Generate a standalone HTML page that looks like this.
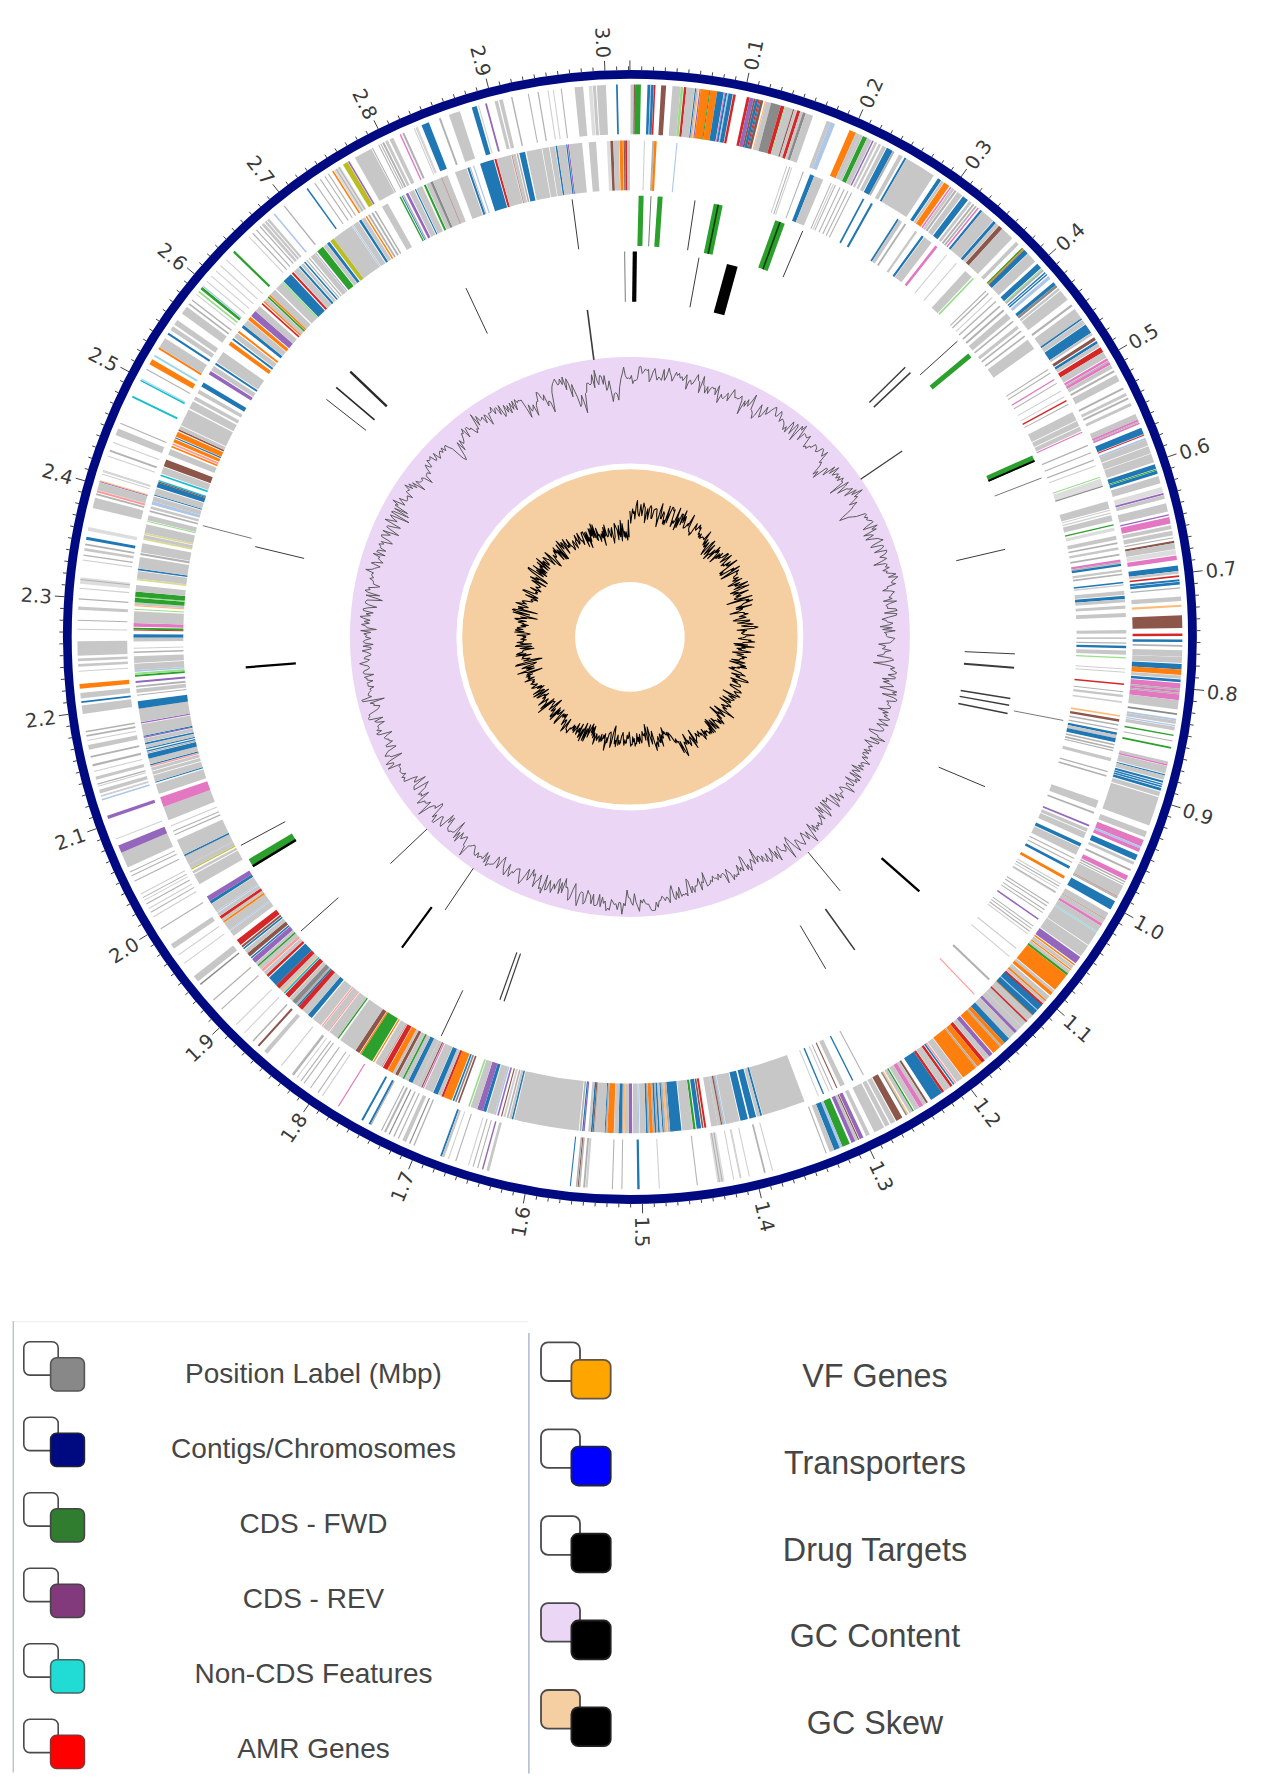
<!DOCTYPE html>
<html><head><meta charset="utf-8"><title>Circular Genome Viewer</title>
<style>
html,body{margin:0;padding:0;background:#fff}
body{width:1272px;height:1790px;position:relative;overflow:hidden;font-family:"Liberation Sans","DejaVu Sans",sans-serif}
svg text{font-family:inherit}
.lg text{font-family:"Liberation Sans",sans-serif;fill:#464646}
</style></head><body>
<svg width="1272" height="1290" viewBox="0 0 1272 1290" style="position:absolute;left:0;top:0">
<circle cx="629.9" cy="636.9" r="280" fill="#ebd6f5"/>
<circle cx="629.9" cy="636.9" r="173.5" fill="#ffffff"/>
<circle cx="629.9" cy="636.9" r="167.7" fill="#f5cfa2"/>
<circle cx="629.9" cy="636.9" r="54.8" fill="#ffffff"/>
<circle cx="629.9" cy="636.9" r="562.6" fill="none" stroke="#000a80" stroke-width="8.8"/>
<path d="M629.90 70.40L629.90 60.40M641.68 70.52L641.77 66.42M653.46 70.89L653.63 66.79M665.22 71.50L665.48 67.41M676.97 72.36L677.31 68.27M688.70 73.46L689.13 69.38M700.41 74.80L700.92 70.74M712.08 76.39L712.67 72.34M723.72 78.22L724.40 74.18M735.32 80.29L736.08 76.27M746.87 82.61L748.93 72.82M758.37 85.16L759.30 81.17M769.81 87.95L770.83 83.98M781.20 90.98L782.30 87.03M792.52 94.24L793.70 90.32M803.77 97.74L805.03 93.84M814.94 101.47L816.28 97.60M826.04 105.44L827.46 101.59M837.05 109.63L838.55 105.82M847.97 114.05L849.55 110.27M858.79 118.70L862.83 109.55M869.52 123.57L871.26 119.86M880.14 128.67L881.96 124.99M890.66 133.98L892.55 130.34M901.06 139.51L903.02 135.91M911.35 145.26L913.38 141.70M921.51 151.22L923.62 147.70M931.55 157.39L933.73 153.92M941.45 163.76L943.71 160.34M951.22 170.35L953.55 166.97M960.86 177.13L966.70 169.01M970.35 184.11L972.81 180.83M979.69 191.29L982.22 188.06M988.88 198.66L991.48 195.49M997.92 206.22L1000.58 203.10M1006.79 213.96L1009.52 210.90M1015.51 221.89L1018.30 218.89M1024.05 230.00L1026.91 227.06M1032.43 238.29L1035.34 235.40M1040.63 246.74L1043.60 243.92M1048.66 255.37L1056.05 248.63M1056.50 264.16L1059.59 261.46M1064.16 273.11L1067.30 270.48M1071.63 282.22L1074.83 279.65M1078.91 291.48L1082.16 288.98M1086.00 300.90L1089.30 298.46M1092.88 310.45L1096.24 308.09M1099.57 320.15L1102.97 317.86M1106.06 329.99L1109.50 327.77M1112.34 339.96L1115.83 337.81M1118.41 350.05L1127.03 344.99M1124.27 360.27L1127.85 358.27M1129.91 370.61L1133.53 368.69M1135.34 381.07L1139.00 379.22M1140.55 391.64L1144.25 389.86M1145.54 402.31L1149.28 400.61M1150.31 413.08L1154.08 411.46M1154.85 423.95L1158.65 422.41M1159.17 434.92L1163.00 433.45M1163.25 445.97L1167.11 444.58M1167.11 457.10L1176.59 453.92M1170.73 468.31L1174.65 467.09M1174.12 479.59L1178.06 478.45M1177.27 490.94L1181.24 489.89M1180.19 502.36L1184.17 501.38M1182.87 513.83L1186.87 512.94M1185.31 525.36L1189.33 524.55M1187.51 536.93L1191.55 536.21M1189.47 548.55L1193.52 547.91M1191.18 560.20L1195.25 559.65M1192.66 571.89L1202.59 570.74M1193.89 583.61L1197.97 583.22M1194.87 595.35L1198.96 595.05M1195.62 607.11L1199.71 606.89M1196.11 618.88L1200.21 618.75M1196.37 630.66L1200.47 630.61M1196.37 642.44L1200.47 642.48M1196.14 654.22L1200.23 654.34M1195.65 665.99L1199.75 666.20M1194.93 677.75L1199.01 678.04M1193.95 689.49L1203.91 690.42M1192.74 701.21L1196.81 701.67M1191.28 712.90L1195.34 713.45M1189.58 724.55L1193.63 725.19M1187.63 736.17L1191.67 736.89M1185.45 747.75L1189.47 748.55M1183.02 759.28L1187.03 760.17M1180.36 770.76L1184.34 771.72M1177.46 782.17L1181.42 783.23M1174.32 793.53L1178.26 794.66M1170.94 804.82L1180.49 807.78M1167.33 816.03L1171.22 817.33M1163.49 827.17L1167.35 828.55M1159.42 838.22L1163.25 839.68M1155.12 849.19L1158.92 850.73M1150.59 860.07L1154.36 861.68M1145.84 870.85L1149.57 872.54M1140.86 881.53L1144.56 883.30M1135.66 892.10L1139.32 893.95M1130.25 902.56L1133.87 904.48M1124.61 912.91L1133.35 917.78M1118.77 923.14L1122.30 925.21M1112.71 933.24L1116.20 935.39M1106.44 943.22L1109.89 945.44M1099.97 953.06L1103.37 955.35M1093.29 962.77L1096.65 965.13M1086.41 972.33L1089.72 974.76M1079.34 981.76L1082.59 984.25M1072.07 991.03L1075.27 993.59M1064.61 1000.15L1067.76 1002.77M1056.96 1009.11L1064.50 1015.68M1049.13 1017.91L1052.17 1020.67M1041.12 1026.54L1044.09 1029.36M1032.93 1035.01L1035.84 1037.89M1024.56 1043.31L1027.42 1046.25M1016.02 1051.43L1018.82 1054.43M1007.32 1059.37L1010.05 1062.42M998.45 1067.12L1001.12 1070.24M989.43 1074.69L992.03 1077.86M980.24 1082.08L982.78 1085.30M970.91 1089.26L976.93 1097.25M961.43 1096.26L963.83 1099.58M951.81 1103.05L954.14 1106.43M942.04 1109.65L944.30 1113.07M932.14 1116.04L934.33 1119.50M922.11 1122.22L924.23 1125.73M911.96 1128.19L914.00 1131.74M901.68 1133.95L903.65 1137.55M891.29 1139.49L893.18 1143.13M880.78 1144.82L882.59 1148.50M870.16 1149.93L874.40 1158.98M859.44 1154.81L861.10 1158.56M848.62 1159.47L850.20 1163.26M837.71 1163.91L839.21 1167.72M826.70 1168.12L828.13 1171.96M815.61 1172.09L816.96 1175.97M804.44 1175.84L805.71 1179.74M793.20 1179.35L794.38 1183.28M781.88 1182.63L782.98 1186.58M770.50 1185.67L771.52 1189.65M759.06 1188.48L761.34 1198.22M747.56 1191.05L748.41 1195.06M736.01 1193.37L736.78 1197.40M724.41 1195.46L725.10 1199.50M712.78 1197.30L713.38 1201.36M701.11 1198.91L701.62 1202.97M689.40 1200.27L689.84 1204.34M677.68 1201.38L678.02 1205.47M665.93 1202.25L666.19 1206.34M654.16 1202.88L654.34 1206.98M642.39 1203.26L642.61 1213.26M630.61 1203.40L630.61 1207.50M618.83 1203.29L618.75 1207.39M607.05 1202.94L606.88 1207.04M595.28 1202.34L595.03 1206.43M583.53 1201.50L583.20 1205.59M571.80 1200.41L571.38 1204.49M560.10 1199.08L559.59 1203.15M548.42 1197.51L547.83 1201.57M536.78 1195.69L536.11 1199.74M525.18 1193.64L523.33 1203.46M513.62 1191.34L512.78 1195.35M502.12 1188.80L501.19 1192.80M490.67 1186.02L489.66 1190.00M479.28 1183.01L478.19 1186.96M467.96 1179.76L466.78 1183.69M456.70 1176.27L455.45 1180.18M445.52 1172.56L444.19 1176.43M434.42 1168.61L433.01 1172.45M423.41 1164.43L421.92 1168.24M412.48 1160.02L408.65 1169.25M401.65 1155.38L400.00 1159.14M390.92 1150.53L389.19 1154.24M380.29 1145.44L378.48 1149.12M369.77 1140.14L367.89 1143.79M359.36 1134.63L357.40 1138.23M349.07 1128.89L347.04 1132.45M338.90 1122.95L336.79 1126.46M328.85 1116.79L326.67 1120.26M318.94 1110.42L316.69 1113.85M309.16 1103.86L303.50 1112.10M299.52 1097.08L297.13 1100.41M290.02 1090.11L287.56 1093.39M280.67 1082.95L278.14 1086.18M271.47 1075.59L268.87 1078.76M262.42 1068.04L259.76 1071.16M253.54 1060.31L250.81 1063.37M244.81 1052.39L242.03 1055.39M236.26 1044.29L233.41 1047.24M227.87 1036.02L224.96 1038.90M219.66 1027.57L212.41 1034.46M211.62 1018.95L208.59 1021.72M203.77 1010.17L200.68 1012.87M196.10 1001.23L192.96 1003.87M188.61 992.13L185.42 994.70M181.32 982.88L178.07 985.38M174.22 973.47L170.93 975.91M167.32 963.92L163.98 966.29M160.62 954.23L157.23 956.53M154.12 944.41L150.68 946.63M147.83 934.45L139.32 939.70M141.75 924.36L138.22 926.44M135.88 914.14L132.30 916.15M130.22 903.81L126.60 905.74M124.78 893.36L121.12 895.22M119.55 882.80L115.86 884.58M114.55 872.14L110.82 873.84M109.77 861.37L106.00 862.99M105.21 850.50L101.42 852.05M100.88 839.55L97.06 841.01M96.78 828.50L87.37 831.88M92.92 817.37L89.03 818.68M89.28 806.17L85.37 807.39M85.88 794.89L81.94 796.03M82.71 783.54L78.75 784.60M79.78 772.13L75.80 773.11M77.08 760.66L73.08 761.56M74.63 749.14L70.61 749.95M72.42 737.57L68.38 738.29M70.44 725.95L66.39 726.60M68.71 714.30L58.81 715.66M67.22 702.61L63.15 703.09M65.98 690.89L61.90 691.29M64.98 679.16L60.89 679.46M64.22 667.40L60.13 667.62M63.71 655.63L59.61 655.76M63.44 643.85L59.34 643.90M63.42 632.07L59.32 632.03M63.64 620.29L59.55 620.17M64.11 608.52L60.02 608.31M64.82 596.76L54.85 596.05M65.78 585.02L61.70 584.64M66.98 573.30L62.91 572.84M68.43 561.60L64.36 561.06M70.11 549.94L66.06 549.31M72.04 538.32L68.01 537.61M74.21 526.74L70.19 525.95M76.62 515.21L72.62 514.33M79.27 503.73L75.29 502.77M82.16 492.31L78.20 491.26M85.29 480.95L75.67 478.20M88.65 469.66L84.73 468.45M92.24 458.44L88.35 457.15M96.07 447.30L92.21 445.92M100.13 436.24L96.30 434.78M104.42 425.26L100.61 423.73M108.93 414.38L105.16 412.77M113.67 403.60L109.94 401.91M118.64 392.91L114.94 391.15M123.82 382.33L120.16 380.49M129.22 371.86L120.38 367.18M134.84 361.51L131.26 359.51M140.68 351.27L137.14 349.21M146.72 341.16L143.23 339.02M152.98 331.18L149.53 328.96M159.44 321.33L156.03 319.04M166.10 311.61L162.75 309.26M172.97 302.04L169.66 299.61M180.03 292.61L176.77 290.11M187.29 283.32L184.08 280.77M194.73 274.20L187.05 267.79M202.37 265.23L199.28 262.54M210.19 256.42L207.16 253.66M218.20 247.77L215.22 244.95M226.38 239.29L223.46 236.41M234.73 230.99L231.87 228.05M243.26 222.86L240.46 219.86M251.95 214.91L249.22 211.85M260.81 207.14L258.14 204.03M269.83 199.56L267.22 196.39M279.00 192.16L272.81 184.31M288.33 184.96L285.85 181.69M297.80 177.96L295.39 174.63M307.41 171.15L305.08 167.78M317.17 164.54L314.90 161.12M327.06 158.14L324.87 154.68M337.08 151.95L334.96 148.44M347.23 145.96L345.18 142.41M357.50 140.19L355.53 136.60M367.89 134.63L365.99 131.00M378.39 129.29L373.95 120.33M389.00 124.17L387.26 120.46M399.71 119.27L398.05 115.53M410.53 114.60L408.94 110.82M421.44 110.15L419.93 106.34M432.44 105.93L431.01 102.09M443.52 101.94L442.17 98.07M454.69 98.18L453.42 94.28M465.93 94.65L464.74 90.73M477.24 91.36L476.13 87.41M488.62 88.30L486.12 78.62M500.05 85.48L499.11 81.49M511.55 82.90L510.69 78.89M523.10 80.56L522.32 76.53M534.69 78.46L534.00 74.42M546.32 76.60L545.72 72.54M557.99 74.98L557.47 70.92M569.69 73.61L569.26 69.53M581.42 72.48L581.07 68.39M593.17 71.59L592.90 67.50M604.93 70.95L604.49 60.96M616.71 70.55L616.61 66.45M628.49 70.40L628.48 66.30" stroke="#444" stroke-width="1" fill="none"/>
<g font-family="'DejaVu Sans', 'Liberation Sans', sans-serif" font-size="19.5" fill="#3a3a3a">
<text x="749.55" y="69.89" transform="rotate(-78.08 749.55 69.89)" text-anchor="start" dy="0.40em">0.1</text>
<text x="864.05" y="106.81" transform="rotate(-66.17 864.05 106.81)" text-anchor="start" dy="0.40em">0.2</text>
<text x="968.45" y="166.58" transform="rotate(-54.25 968.45 166.58)" text-anchor="start" dy="0.40em">0.3</text>
<text x="1058.27" y="246.61" transform="rotate(-42.34 1058.27 246.61)" text-anchor="start" dy="0.40em">0.4</text>
<text x="1129.62" y="343.47" transform="rotate(-30.42 1129.62 343.47)" text-anchor="start" dy="0.40em">0.5</text>
<text x="1179.44" y="452.97" transform="rotate(-18.51 1179.44 452.97)" text-anchor="start" dy="0.40em">0.6</text>
<text x="1205.57" y="570.40" transform="rotate(-6.59 1205.57 570.40)" text-anchor="start" dy="0.40em">0.7</text>
<text x="1206.90" y="690.69" transform="rotate(5.33 1206.90 690.69)" text-anchor="start" dy="0.40em">0.8</text>
<text x="1183.36" y="808.67" transform="rotate(17.24 1183.36 808.67)" text-anchor="start" dy="0.40em">0.9</text>
<text x="1135.97" y="919.24" transform="rotate(29.16 1135.97 919.24)" text-anchor="start" dy="0.40em">1.0</text>
<text x="1066.76" y="1017.65" transform="rotate(41.07 1066.76 1017.65)" text-anchor="start" dy="0.40em">1.1</text>
<text x="978.74" y="1099.65" transform="rotate(52.99 978.74 1099.65)" text-anchor="start" dy="0.40em">1.2</text>
<text x="875.67" y="1161.70" transform="rotate(64.91 875.67 1161.70)" text-anchor="start" dy="0.40em">1.3</text>
<text x="762.02" y="1201.14" transform="rotate(76.82 762.02 1201.14)" text-anchor="start" dy="0.40em">1.4</text>
<text x="642.67" y="1216.26" transform="rotate(88.74 642.67 1216.26)" text-anchor="start" dy="0.40em">1.5</text>
<text x="522.78" y="1206.41" transform="rotate(280.65 522.78 1206.41)" text-anchor="end" dy="0.40em">1.6</text>
<text x="407.49" y="1172.02" transform="rotate(292.57 407.49 1172.02)" text-anchor="end" dy="0.40em">1.7</text>
<text x="301.80" y="1114.57" transform="rotate(304.48 301.80 1114.57)" text-anchor="end" dy="0.40em">1.8</text>
<text x="210.24" y="1036.53" transform="rotate(316.40 210.24 1036.53)" text-anchor="end" dy="0.40em">1.9</text>
<text x="136.77" y="941.27" transform="rotate(328.32 136.77 941.27)" text-anchor="end" dy="0.40em">2.0</text>
<text x="84.55" y="832.90" transform="rotate(340.23 84.55 832.90)" text-anchor="end" dy="0.40em">2.1</text>
<text x="55.83" y="716.07" transform="rotate(352.15 55.83 716.07)" text-anchor="end" dy="0.40em">2.2</text>
<text x="51.86" y="595.84" transform="rotate(364.06 51.86 595.84)" text-anchor="end" dy="0.40em">2.3</text>
<text x="72.79" y="477.37" transform="rotate(375.98 72.79 477.37)" text-anchor="end" dy="0.40em">2.4</text>
<text x="117.73" y="365.78" transform="rotate(387.89 117.73 365.78)" text-anchor="end" dy="0.40em">2.5</text>
<text x="184.75" y="265.87" transform="rotate(399.81 184.75 265.87)" text-anchor="end" dy="0.40em">2.6</text>
<text x="270.95" y="181.96" transform="rotate(411.73 270.95 181.96)" text-anchor="end" dy="0.40em">2.7</text>
<text x="372.62" y="117.65" transform="rotate(423.64 372.62 117.65)" text-anchor="end" dy="0.40em">2.8</text>
<text x="485.37" y="75.71" transform="rotate(435.56 485.37 75.71)" text-anchor="end" dy="0.40em">2.9</text>
<text x="604.36" y="57.96" transform="rotate(447.47 604.36 57.96)" text-anchor="end" dy="0.40em">3.0</text>
</g>
<g shape-rendering="auto">
<path d="M630.53 84.40A552.5 552.5 0 0 1 633.28 84.41L632.97 134.21A502.7 502.7 0 0 0 630.48 134.20Z" fill="#c7c7c7"/>
<line x1="633.97" y1="134.22" x2="634.38" y2="84.42" stroke="#8c564b" stroke-width="1.39"/>
<path d="M635.11 84.42A552.5 552.5 0 0 1 640.94 84.51L639.95 134.30A502.7 502.7 0 0 0 634.64 134.22Z" fill="#2ca02c"/>
<path d="M647.52 84.68A552.5 552.5 0 0 1 650.44 84.78L648.59 134.55A502.7 502.7 0 0 0 645.93 134.46Z" fill="#1f77b4"/>
<line x1="648.92" y1="134.56" x2="650.81" y2="84.80" stroke="#aec7e8" stroke-width="1.05"/>
<path d="M651.17 84.81A552.5 552.5 0 0 1 653.72 84.91L651.58 134.67A502.7 502.7 0 0 0 649.26 134.57Z" fill="#1f77b4"/>
<line x1="652.50" y1="134.71" x2="654.73" y2="84.96" stroke="#d62728" stroke-width="1.58"/>
<path d="M661.22 85.29A552.5 552.5 0 0 1 666.15 85.59L662.88 135.28A502.7 502.7 0 0 0 658.39 135.01Z" fill="#8c564b"/>
<path d="M672.53 86.05A552.5 552.5 0 0 1 680.75 86.75L676.17 136.33A502.7 502.7 0 0 0 668.69 135.70Z" fill="#c7c7c7"/>
<path d="M680.75 86.75A552.5 552.5 0 0 1 683.50 87.01L678.67 136.57A502.7 502.7 0 0 0 676.17 136.33Z" fill="#98df8a"/>
<path d="M684.05 87.06A552.5 552.5 0 0 1 686.60 87.32L681.49 136.85A502.7 502.7 0 0 0 679.17 136.62Z" fill="#d62728"/>
<path d="M686.60 87.32A552.5 552.5 0 0 1 694.64 88.21L688.80 137.66A502.7 502.7 0 0 0 681.49 136.85Z" fill="#c7c7c7"/>
<line x1="689.72" y1="137.77" x2="695.64" y2="88.33" stroke="#1f77b4" stroke-width="1.23"/>
<line x1="690.96" y1="137.92" x2="697.01" y2="88.49" stroke="#b2b2b2" stroke-width="1.40"/>
<line x1="692.21" y1="138.08" x2="698.38" y2="88.66" stroke="#ffbb78" stroke-width="1.23"/>
<line x1="693.87" y1="138.29" x2="700.20" y2="88.89" stroke="#9467bd" stroke-width="1.23"/>
<path d="M700.84 88.97A552.5 552.5 0 0 1 709.61 90.18L702.42 139.46A502.7 502.7 0 0 0 694.45 138.36Z" fill="#ff7f0e"/>
<line x1="702.76" y1="139.51" x2="709.97" y2="90.23" stroke="#2ca02c" stroke-width="1.05"/>
<path d="M710.34 90.29A552.5 552.5 0 0 1 717.28 91.35L709.41 140.53A502.7 502.7 0 0 0 703.09 139.56Z" fill="#ff7f0e"/>
<path d="M717.28 91.35A552.5 552.5 0 0 1 723.86 92.45L715.39 141.52A502.7 502.7 0 0 0 709.41 140.53Z" fill="#1f77b4"/>
<line x1="716.22" y1="141.67" x2="724.77" y2="92.61" stroke="#e377c2" stroke-width="1.06"/>
<line x1="717.63" y1="141.91" x2="726.32" y2="92.88" stroke="#1f77b4" stroke-width="1.94"/>
<line x1="719.12" y1="142.18" x2="727.96" y2="93.17" stroke="#aec7e8" stroke-width="1.24"/>
<path d="M728.60 93.29A552.5 552.5 0 0 1 732.80 94.07L723.53 143.00A502.7 502.7 0 0 0 719.70 142.29Z" fill="#1f77b4"/>
<path d="M733.35 94.17A552.5 552.5 0 0 1 735.90 94.66L726.35 143.54A502.7 502.7 0 0 0 724.03 143.09Z" fill="#d62728"/>
<path d="M746.86 96.92A552.5 552.5 0 0 1 749.78 97.56L738.98 146.18A502.7 502.7 0 0 0 736.32 145.59Z" fill="#d62728"/>
<path d="M749.78 97.56A552.5 552.5 0 0 1 753.81 98.47L742.64 147.00A502.7 502.7 0 0 0 738.98 146.18Z" fill="#9467bd"/>
<line x1="743.47" y1="147.20" x2="754.72" y2="98.68" stroke="#8c564b" stroke-width="1.79"/>
<path d="M755.63 98.90A552.5 552.5 0 0 1 758.37 99.54L746.79 147.98A502.7 502.7 0 0 0 744.30 147.39Z" fill="#1f77b4"/>
<line x1="747.37" y1="148.12" x2="759.01" y2="99.70" stroke="#d62728" stroke-width="1.25"/>
<line x1="748.37" y1="148.36" x2="760.10" y2="99.96" stroke="#1f77b4" stroke-width="1.05"/>
<path d="M760.56 100.07A552.5 552.5 0 0 1 763.29 100.74L751.27 149.07A502.7 502.7 0 0 0 748.78 148.46Z" fill="#8c564b"/>
<line x1="753.18" y1="149.55" x2="765.39" y2="101.27" stroke="#ffbb78" stroke-width="1.26"/>
<path d="M766.03 101.43A552.5 552.5 0 0 1 771.15 102.76L758.42 150.91A502.7 502.7 0 0 0 753.76 149.70Z" fill="#c7c7c7"/>
<path d="M771.15 102.76A552.5 552.5 0 0 1 780.82 105.41L767.22 153.32A502.7 502.7 0 0 0 758.42 150.91Z" fill="#8a8a8a"/>
<path d="M780.82 105.41A552.5 552.5 0 0 1 784.48 106.46L770.55 154.28A502.7 502.7 0 0 0 767.22 153.32Z" fill="#d62728"/>
<line x1="771.21" y1="154.47" x2="785.21" y2="106.68" stroke="#98df8a" stroke-width="1.05"/>
<path d="M785.57 106.78A552.5 552.5 0 0 1 793.06 109.04L778.36 156.62A502.7 502.7 0 0 0 771.54 154.57Z" fill="#c7c7c7"/>
<line x1="778.94" y1="156.80" x2="793.70" y2="109.24" stroke="#8c564b" stroke-width="1.27"/>
<path d="M794.34 109.44A552.5 552.5 0 0 1 796.90 110.24L781.85 157.71A502.7 502.7 0 0 0 779.51 156.98Z" fill="#c7c7c7"/>
<path d="M797.26 110.36A552.5 552.5 0 0 1 800.37 111.36L785.00 158.73A502.7 502.7 0 0 0 782.18 157.82Z" fill="#d62728"/>
<path d="M800.37 111.36A552.5 552.5 0 0 1 803.11 112.25L787.50 159.54A502.7 502.7 0 0 0 785.00 158.73Z" fill="#c7c7c7"/>
<path d="M803.11 112.25A552.5 552.5 0 0 1 805.85 113.16L789.99 160.37A502.7 502.7 0 0 0 787.50 159.54Z" fill="#8a8a8a"/>
<path d="M805.85 113.16A552.5 552.5 0 0 1 813.15 115.67L796.63 162.66A502.7 502.7 0 0 0 789.99 160.37Z" fill="#c7c7c7"/>
<path d="M826.85 120.70A552.5 552.5 0 0 1 830.50 122.10L812.41 168.50A502.7 502.7 0 0 0 809.10 167.22Z" fill="#c7c7c7"/>
<path d="M830.50 122.10A552.5 552.5 0 0 1 835.06 123.90L816.57 170.14A502.7 502.7 0 0 0 812.41 168.50Z" fill="#aec7e8"/>
<path d="M849.67 129.99A552.5 552.5 0 0 1 856.07 132.81L835.68 178.25A502.7 502.7 0 0 0 829.86 175.68Z" fill="#ff7f0e"/>
<path d="M856.07 132.81A552.5 552.5 0 0 1 860.08 134.63L839.34 179.91A502.7 502.7 0 0 0 835.68 178.25Z" fill="#c7c7c7"/>
<path d="M860.05 134.62A552.5 552.5 0 0 1 862.61 135.80L841.63 180.97A502.7 502.7 0 0 0 839.31 179.89Z" fill="#c7c7c7"/>
<path d="M862.97 135.97A552.5 552.5 0 0 1 867.17 137.94L845.79 182.92A502.7 502.7 0 0 0 841.97 181.12Z" fill="#2ca02c"/>
<path d="M867.17 137.94A552.5 552.5 0 0 1 871.74 140.14L849.94 184.92A502.7 502.7 0 0 0 845.79 182.92Z" fill="#c7c7c7"/>
<line x1="851.11" y1="185.49" x2="873.02" y2="140.77" stroke="#9467bd" stroke-width="1.56"/>
<path d="M875.03 141.76A552.5 552.5 0 0 1 877.22 142.85L854.93 187.38A502.7 502.7 0 0 0 852.94 186.39Z" fill="#c7c7c7"/>
<path d="M878.86 143.67A552.5 552.5 0 0 1 881.06 144.79L858.42 189.14A502.7 502.7 0 0 0 856.42 188.13Z" fill="#c7c7c7"/>
<path d="M882.69 145.62A552.5 552.5 0 0 1 886.17 147.43L863.07 191.55A502.7 502.7 0 0 0 859.91 189.91Z" fill="#c7c7c7"/>
<path d="M886.89 147.81A552.5 552.5 0 0 1 892.74 150.93L869.05 194.73A502.7 502.7 0 0 0 863.73 191.89Z" fill="#1f77b4"/>
<line x1="869.88" y1="195.18" x2="893.66" y2="151.42" stroke="#b2b2b2" stroke-width="1.99"/>
<path d="M899.13 154.44A552.5 552.5 0 0 1 902.78 156.49L878.19 199.79A502.7 502.7 0 0 0 874.86 197.92Z" fill="#c7c7c7"/>
<line x1="880.68" y1="201.22" x2="905.53" y2="158.06" stroke="#1f77b4" stroke-width="2.02"/>
<path d="M906.44 158.59A552.5 552.5 0 0 1 933.83 175.51L906.43 217.10A502.7 502.7 0 0 0 881.52 201.70Z" fill="#c7c7c7"/>
<path d="M938.03 178.30A552.5 552.5 0 0 1 941.13 180.40L913.08 221.55A502.7 502.7 0 0 0 910.26 219.64Z" fill="#1f77b4"/>
<path d="M941.68 180.78A552.5 552.5 0 0 1 943.87 182.28L915.57 223.26A502.7 502.7 0 0 0 913.58 221.89Z" fill="#c7c7c7"/>
<path d="M944.24 182.53A552.5 552.5 0 0 1 949.35 186.11L920.56 226.75A502.7 502.7 0 0 0 915.90 223.49Z" fill="#ff7f0e"/>
<line x1="921.97" y1="227.75" x2="950.90" y2="187.22" stroke="#e377c2" stroke-width="1.49"/>
<path d="M952.09 188.07A552.5 552.5 0 0 1 954.28 189.65L925.04 229.96A502.7 502.7 0 0 0 923.05 228.52Z" fill="#c7c7c7"/>
<line x1="926.37" y1="230.93" x2="955.74" y2="190.71" stroke="#b2b2b2" stroke-width="2.16"/>
<path d="M957.57 192.06A552.5 552.5 0 0 1 962.13 195.45L932.19 235.24A502.7 502.7 0 0 0 928.04 232.15Z" fill="#c7c7c7"/>
<path d="M963.05 196.14A552.5 552.5 0 0 1 967.98 199.91L937.51 239.30A502.7 502.7 0 0 0 933.02 235.87Z" fill="#1f77b4"/>
<path d="M969.44 201.05A552.5 552.5 0 0 1 971.63 202.76L940.83 241.89A502.7 502.7 0 0 0 938.84 240.33Z" fill="#c7c7c7"/>
<line x1="942.57" y1="243.27" x2="973.55" y2="204.28" stroke="#b2b2b2" stroke-width="2.01"/>
<line x1="944.82" y1="245.07" x2="976.02" y2="206.25" stroke="#b2b2b2" stroke-width="1.79"/>
<line x1="946.89" y1="246.74" x2="978.29" y2="208.09" stroke="#e377c2" stroke-width="1.57"/>
<path d="M980.40 209.81A552.5 552.5 0 0 1 982.23 211.31L950.47 249.67A502.7 502.7 0 0 0 948.81 248.31Z" fill="#1f77b4"/>
<path d="M982.23 211.31A552.5 552.5 0 0 1 993.18 220.62L960.43 258.15A502.7 502.7 0 0 0 950.47 249.67Z" fill="#c7c7c7"/>
<path d="M993.54 220.94A552.5 552.5 0 0 1 995.91 223.03L962.92 260.33A502.7 502.7 0 0 0 960.76 258.43Z" fill="#1f77b4"/>
<path d="M995.91 223.03A552.5 552.5 0 0 1 998.66 225.47L965.42 262.56A502.7 502.7 0 0 0 962.92 260.33Z" fill="#c7c7c7"/>
<path d="M999.02 225.80A552.5 552.5 0 0 1 1002.31 228.77L968.74 265.56A502.7 502.7 0 0 0 965.75 262.85Z" fill="#8c564b"/>
<path d="M1002.31 228.77A552.5 552.5 0 0 1 1012.35 238.17L977.88 274.11A502.7 502.7 0 0 0 968.74 265.56Z" fill="#c7c7c7"/>
<path d="M1016.01 241.71A552.5 552.5 0 0 1 1018.74 244.40L983.70 279.78A502.7 502.7 0 0 0 981.21 277.33Z" fill="#c7c7c7"/>
<line x1="987.13" y1="283.21" x2="1022.51" y2="248.17" stroke="#2ca02c" stroke-width="1.47"/>
<line x1="988.11" y1="284.21" x2="1023.60" y2="249.27" stroke="#ff7f0e" stroke-width="1.47"/>
<path d="M1024.14 249.81A552.5 552.5 0 0 1 1027.68 253.46L991.83 288.02A502.7 502.7 0 0 0 988.60 284.70Z" fill="#1f77b4"/>
<path d="M1028.04 253.83A552.5 552.5 0 0 1 1035.28 261.50L998.74 295.33A502.7 502.7 0 0 0 992.15 288.36Z" fill="#c7c7c7"/>
<path d="M1037.29 263.69A552.5 552.5 0 0 1 1041.10 267.89L1004.04 301.15A502.7 502.7 0 0 0 1000.57 297.33Z" fill="#1f77b4"/>
<line x1="1004.86" y1="302.06" x2="1042.00" y2="268.89" stroke="#98df8a" stroke-width="1.16"/>
<line x1="1005.89" y1="303.23" x2="1043.14" y2="270.17" stroke="#b2b2b2" stroke-width="2.11"/>
<line x1="1007.87" y1="305.47" x2="1045.31" y2="272.64" stroke="#1f77b4" stroke-width="1.38"/>
<line x1="1009.32" y1="307.13" x2="1046.91" y2="274.46" stroke="#1f77b4" stroke-width="1.38"/>
<path d="M1048.33 276.10A552.5 552.5 0 0 1 1050.52 278.66L1012.61 310.95A502.7 502.7 0 0 0 1010.61 308.63Z" fill="#aec7e8"/>
<path d="M1053.46 282.14A552.5 552.5 0 0 1 1055.73 284.88L1017.35 316.61A502.7 502.7 0 0 0 1015.28 314.11Z" fill="#1f77b4"/>
<path d="M1055.73 284.88A552.5 552.5 0 0 1 1057.54 287.07L1018.99 318.60A502.7 502.7 0 0 0 1017.35 316.61Z" fill="#8a8a8a"/>
<path d="M1058.28 287.98A552.5 552.5 0 0 1 1059.91 289.98L1021.15 321.25A502.7 502.7 0 0 0 1019.67 319.43Z" fill="#c7c7c7"/>
<path d="M1060.50 290.72A552.5 552.5 0 0 1 1067.68 299.85L1028.22 330.23A502.7 502.7 0 0 0 1021.69 321.92Z" fill="#c7c7c7"/>
<line x1="1032.01" y1="335.21" x2="1071.84" y2="305.32" stroke="#b2b2b2" stroke-width="2.18"/>
<path d="M1074.56 308.98A552.5 552.5 0 0 1 1081.15 318.11L1040.48 346.84A502.7 502.7 0 0 0 1034.48 338.54Z" fill="#c7c7c7"/>
<line x1="1040.94" y1="347.50" x2="1081.66" y2="318.84" stroke="#1f77b4" stroke-width="1.70"/>
<path d="M1082.43 319.93A552.5 552.5 0 0 1 1085.22 323.95L1044.18 352.16A502.7 502.7 0 0 0 1041.64 348.50Z" fill="#c7c7c7"/>
<path d="M1085.60 324.50A552.5 552.5 0 0 1 1091.13 332.72L1049.56 360.14A502.7 502.7 0 0 0 1044.53 352.66Z" fill="#1f77b4"/>
<path d="M1091.13 332.72A552.5 552.5 0 0 1 1092.57 334.91L1050.86 362.13A502.7 502.7 0 0 0 1049.56 360.14Z" fill="#c7c7c7"/>
<path d="M1094.10 337.28A552.5 552.5 0 0 1 1095.86 340.02L1053.86 366.78A502.7 502.7 0 0 0 1052.26 364.29Z" fill="#8c564b"/>
<path d="M1096.44 340.93A552.5 552.5 0 0 1 1097.94 343.31L1055.75 369.78A502.7 502.7 0 0 0 1054.39 367.61Z" fill="#1f77b4"/>
<path d="M1097.94 343.31A552.5 552.5 0 0 1 1099.99 346.60L1057.62 372.77A502.7 502.7 0 0 0 1055.75 369.78Z" fill="#c7c7c7"/>
<path d="M1100.43 347.32A552.5 552.5 0 0 1 1103.21 351.89L1060.55 377.58A502.7 502.7 0 0 0 1058.02 373.42Z" fill="#d62728"/>
<path d="M1103.21 351.89A552.5 552.5 0 0 1 1106.57 357.55L1063.61 382.73A502.7 502.7 0 0 0 1060.55 377.58Z" fill="#c7c7c7"/>
<path d="M1107.00 358.28A552.5 552.5 0 0 1 1108.28 360.48L1065.16 385.39A502.7 502.7 0 0 0 1064.00 383.40Z" fill="#e377c2"/>
<line x1="1065.64" y1="386.22" x2="1108.80" y2="361.38" stroke="#b2b2b2" stroke-width="1.21"/>
<path d="M1109.12 361.93A552.5 552.5 0 0 1 1110.57 364.49L1067.25 389.04A502.7 502.7 0 0 0 1065.92 386.72Z" fill="#e377c2"/>
<path d="M1110.68 364.68A552.5 552.5 0 0 1 1112.73 368.32L1069.21 392.53A502.7 502.7 0 0 0 1067.35 389.21Z" fill="#c7c7c7"/>
<line x1="1070.63" y1="395.11" x2="1114.29" y2="371.16" stroke="#b2b2b2" stroke-width="2.18"/>
<path d="M1116.23 374.71A552.5 552.5 0 0 1 1119.62 381.11L1075.48 404.16A502.7 502.7 0 0 0 1072.39 398.35Z" fill="#c7c7c7"/>
<line x1="1078.89" y1="410.81" x2="1123.37" y2="388.42" stroke="#b2b2b2" stroke-width="1.95"/>
<path d="M1125.64 392.97A552.5 552.5 0 0 1 1126.98 395.72L1082.18 417.46A502.7 502.7 0 0 0 1080.95 414.96Z" fill="#c7c7c7"/>
<line x1="1083.37" y1="419.95" x2="1128.30" y2="398.45" stroke="#b2b2b2" stroke-width="1.93"/>
<path d="M1130.46 403.02A552.5 552.5 0 0 1 1131.73 405.77L1086.50 426.60A502.7 502.7 0 0 0 1085.34 424.10Z" fill="#c7c7c7"/>
<path d="M1135.43 413.98A552.5 552.5 0 0 1 1137.81 419.46L1092.03 439.06A502.7 502.7 0 0 0 1089.86 434.07Z" fill="#c7c7c7"/>
<line x1="1092.39" y1="439.89" x2="1138.20" y2="420.37" stroke="#e377c2" stroke-width="1.90"/>
<line x1="1092.95" y1="441.22" x2="1138.82" y2="421.83" stroke="#b2b2b2" stroke-width="1.13"/>
<line x1="1093.47" y1="442.46" x2="1139.40" y2="423.20" stroke="#e377c2" stroke-width="1.70"/>
<path d="M1141.25 427.67A552.5 552.5 0 0 1 1143.82 434.07L1097.50 452.35A502.7 502.7 0 0 0 1095.16 446.53Z" fill="#1f77b4"/>
<line x1="1097.86" y1="453.26" x2="1144.22" y2="435.07" stroke="#d62728" stroke-width="1.05"/>
<line x1="1099.12" y1="456.50" x2="1145.60" y2="438.63" stroke="#aec7e8" stroke-width="1.87"/>
<path d="M1145.95 439.54A552.5 552.5 0 0 1 1148.22 445.58L1101.50 462.82A502.7 502.7 0 0 0 1099.43 457.33Z" fill="#c7c7c7"/>
<path d="M1148.48 446.30A552.5 552.5 0 0 1 1150.98 453.24L1104.01 469.79A502.7 502.7 0 0 0 1101.74 463.48Z" fill="#c7c7c7"/>
<path d="M1151.18 453.79A552.5 552.5 0 0 1 1154.11 462.37L1106.86 478.10A502.7 502.7 0 0 0 1104.19 470.30Z" fill="#c7c7c7"/>
<path d="M1154.72 464.20A552.5 552.5 0 0 1 1156.19 468.76L1108.76 483.92A502.7 502.7 0 0 0 1107.41 479.77Z" fill="#1f77b4"/>
<line x1="1109.05" y1="484.83" x2="1156.51" y2="469.77" stroke="#2ca02c" stroke-width="1.05"/>
<path d="M1156.77 470.59A552.5 552.5 0 0 1 1157.74 473.69L1110.17 488.40A502.7 502.7 0 0 0 1109.28 485.58Z" fill="#1f77b4"/>
<path d="M1158.44 475.94A552.5 552.5 0 0 1 1160.60 483.25L1112.77 497.10A502.7 502.7 0 0 0 1110.80 490.45Z" fill="#c7c7c7"/>
<path d="M1161.65 486.89A552.5 552.5 0 0 1 1163.16 492.38L1115.10 505.40A502.7 502.7 0 0 0 1113.72 500.41Z" fill="#dddddd"/>
<line x1="1115.46" y1="506.73" x2="1163.56" y2="493.84" stroke="#9467bd" stroke-width="1.80"/>
<path d="M1163.90 495.12A552.5 552.5 0 0 1 1164.86 498.77L1116.64 511.22A502.7 502.7 0 0 0 1115.77 507.90Z" fill="#c7c7c7"/>
<path d="M1166.01 503.33A552.5 552.5 0 0 1 1167.99 511.55L1119.49 522.85A502.7 502.7 0 0 0 1117.69 515.37Z" fill="#c7c7c7"/>
<line x1="1120.20" y1="525.93" x2="1168.77" y2="514.93" stroke="#9467bd" stroke-width="1.25"/>
<path d="M1169.24 517.03A552.5 552.5 0 0 1 1170.62 523.42L1121.88 533.65A502.7 502.7 0 0 0 1120.63 527.83Z" fill="#e377c2"/>
<path d="M1171.00 525.24A552.5 552.5 0 0 1 1171.74 528.90L1122.90 538.64A502.7 502.7 0 0 0 1122.23 535.31Z" fill="#c7c7c7"/>
<path d="M1172.10 530.73A552.5 552.5 0 0 1 1172.98 535.29L1124.02 544.45A502.7 502.7 0 0 0 1123.23 540.30Z" fill="#c7c7c7"/>
<line x1="1124.42" y1="546.61" x2="1173.42" y2="537.67" stroke="#b2b2b2" stroke-width="1.06"/>
<line x1="1125.11" y1="550.43" x2="1174.17" y2="541.87" stroke="#8c564b" stroke-width="2.13"/>
<path d="M1174.36 542.97A552.5 552.5 0 0 1 1175.36 548.98L1126.19 556.91A502.7 502.7 0 0 0 1125.28 551.43Z" fill="#c7c7c7"/>
<path d="M1175.45 549.54A552.5 552.5 0 0 1 1176.22 554.47L1126.97 561.90A502.7 502.7 0 0 0 1126.28 557.41Z" fill="#dddddd"/>
<path d="M1176.35 555.38A552.5 552.5 0 0 1 1177.01 559.95L1127.70 566.88A502.7 502.7 0 0 0 1127.10 562.72Z" fill="#e377c2"/>
<path d="M1177.76 565.42A552.5 552.5 0 0 1 1178.44 570.90L1129.00 576.85A502.7 502.7 0 0 0 1128.38 571.87Z" fill="#1f77b4"/>
<path d="M1178.44 570.90A552.5 552.5 0 0 1 1178.77 573.64L1129.29 579.34A502.7 502.7 0 0 0 1129.00 576.85Z" fill="#c7c7c7"/>
<line x1="1129.54" y1="581.50" x2="1179.03" y2="576.01" stroke="#d62728" stroke-width="1.76"/>
<line x1="1129.95" y1="585.32" x2="1179.48" y2="580.21" stroke="#1f77b4" stroke-width="2.11"/>
<path d="M1179.63 581.68A552.5 552.5 0 0 1 1179.92 584.59L1130.34 589.31A502.7 502.7 0 0 0 1130.08 586.66Z" fill="#1f77b4"/>
<line x1="1130.63" y1="592.39" x2="1180.23" y2="587.98" stroke="#b2b2b2" stroke-width="1.22"/>
<path d="M1180.92 596.47A552.5 552.5 0 0 1 1181.23 601.03L1131.54 604.26A502.7 502.7 0 0 0 1131.25 600.11Z" fill="#c7c7c7"/>
<line x1="1131.80" y1="608.59" x2="1181.52" y2="605.78" stroke="#ffbb78" stroke-width="2.10"/>
<path d="M1181.98 615.27A552.5 552.5 0 0 1 1182.33 628.05L1132.54 628.85A502.7 502.7 0 0 0 1132.21 617.22Z" fill="#8c564b"/>
<path d="M1182.39 633.53A552.5 552.5 0 0 1 1182.40 636.10L1132.60 636.17A502.7 502.7 0 0 0 1132.59 633.84Z" fill="#d62728"/>
<path d="M1182.39 639.38A552.5 552.5 0 0 1 1182.38 642.12L1132.58 641.65A502.7 502.7 0 0 0 1132.59 639.16Z" fill="#1f77b4"/>
<line x1="1132.54" y1="644.98" x2="1182.33" y2="645.78" stroke="#b2b2b2" stroke-width="1.74"/>
<path d="M1182.24 650.33A552.5 552.5 0 0 1 1182.04 656.73L1132.28 654.94A502.7 502.7 0 0 0 1132.45 649.12Z" fill="#c7c7c7"/>
<path d="M1182.03 657.10A552.5 552.5 0 0 1 1181.78 663.12L1132.03 660.76A502.7 502.7 0 0 0 1132.26 655.28Z" fill="#c7c7c7"/>
<path d="M1181.73 664.03A552.5 552.5 0 0 1 1181.44 669.51L1131.72 666.57A502.7 502.7 0 0 0 1131.99 661.58Z" fill="#1f77b4"/>
<path d="M1181.44 669.51A552.5 552.5 0 0 1 1181.09 674.98L1131.40 671.55A502.7 502.7 0 0 0 1131.72 666.57Z" fill="#ff7f0e"/>
<path d="M1181.05 675.53A552.5 552.5 0 0 1 1180.82 678.64L1131.16 674.88A502.7 502.7 0 0 0 1131.37 672.05Z" fill="#c7c7c7"/>
<path d="M1180.75 679.56A552.5 552.5 0 0 1 1180.53 682.29L1130.90 678.20A502.7 502.7 0 0 0 1131.10 675.71Z" fill="#1f77b4"/>
<path d="M1180.46 683.21A552.5 552.5 0 0 1 1179.97 688.68L1130.39 684.01A502.7 502.7 0 0 0 1130.83 679.03Z" fill="#e377c2"/>
<line x1="1130.31" y1="684.85" x2="1179.88" y2="689.59" stroke="#b2b2b2" stroke-width="1.76"/>
<line x1="1130.13" y1="686.68" x2="1179.68" y2="691.61" stroke="#e377c2" stroke-width="2.11"/>
<line x1="1129.94" y1="688.50" x2="1179.48" y2="693.61" stroke="#b2b2b2" stroke-width="1.74"/>
<path d="M1179.39 694.50A552.5 552.5 0 0 1 1178.75 700.34L1129.28 694.62A502.7 502.7 0 0 0 1129.86 689.31Z" fill="#e377c2"/>
<path d="M1178.75 700.34A552.5 552.5 0 0 1 1177.61 709.47L1128.24 702.93A502.7 502.7 0 0 0 1129.28 694.62Z" fill="#c7c7c7"/>
<line x1="1127.68" y1="707.08" x2="1176.99" y2="714.03" stroke="#8a8a8a" stroke-width="1.76"/>
<line x1="1126.95" y1="712.07" x2="1176.19" y2="719.51" stroke="#aec7e8" stroke-width="1.76"/>
<path d="M1176.05 720.42A552.5 552.5 0 0 1 1175.48 724.08L1126.30 716.22A502.7 502.7 0 0 0 1126.82 712.90Z" fill="#c7c7c7"/>
<line x1="1126.07" y1="717.64" x2="1175.23" y2="725.63" stroke="#aec7e8" stroke-width="1.23"/>
<path d="M1175.03 726.82A552.5 552.5 0 0 1 1174.42 730.47L1125.34 722.04A502.7 502.7 0 0 0 1125.90 718.72Z" fill="#c7c7c7"/>
<line x1="1124.55" y1="726.52" x2="1173.55" y2="735.40" stroke="#2ca02c" stroke-width="1.42"/>
<line x1="1123.59" y1="731.67" x2="1172.49" y2="741.06" stroke="#b2b2b2" stroke-width="1.06"/>
<line x1="1122.37" y1="737.82" x2="1171.15" y2="747.82" stroke="#2ca02c" stroke-width="1.78"/>
<path d="M1168.16 761.51A552.5 552.5 0 0 1 1167.52 764.25L1119.06 752.77A502.7 502.7 0 0 0 1119.65 750.28Z" fill="#c7c7c7"/>
<line x1="1118.90" y1="753.44" x2="1167.35" y2="764.98" stroke="#e377c2" stroke-width="1.44"/>
<path d="M1167.08 766.09A552.5 552.5 0 0 1 1165.28 773.39L1117.02 761.09A502.7 502.7 0 0 0 1118.67 754.44Z" fill="#c7c7c7"/>
<line x1="1116.66" y1="762.50" x2="1164.88" y2="774.94" stroke="#1f77b4" stroke-width="1.25"/>
<path d="M1164.71 775.57A552.5 552.5 0 0 1 1163.61 779.77L1115.50 766.89A502.7 502.7 0 0 0 1116.51 763.07Z" fill="#c7c7c7"/>
<line x1="1115.01" y1="768.73" x2="1163.06" y2="781.79" stroke="#1f77b4" stroke-width="2.16"/>
<line x1="1114.37" y1="771.05" x2="1162.36" y2="784.34" stroke="#1f77b4" stroke-width="1.45"/>
<line x1="1113.81" y1="773.04" x2="1161.75" y2="786.53" stroke="#1f77b4" stroke-width="1.45"/>
<path d="M1161.34 787.99A552.5 552.5 0 0 1 1160.55 790.73L1112.72 776.86A502.7 502.7 0 0 0 1113.44 774.37Z" fill="#1f77b4"/>
<path d="M1160.29 791.64A552.5 552.5 0 0 1 1158.93 796.22L1111.25 781.86A502.7 502.7 0 0 0 1112.48 777.70Z" fill="#c7c7c7"/>
<path d="M1158.66 797.13A552.5 552.5 0 0 1 1149.24 825.43L1102.43 808.44A502.7 502.7 0 0 0 1111.00 782.69Z" fill="#c7c7c7"/>
<path d="M1147.01 831.45A552.5 552.5 0 0 1 1144.77 837.30L1098.37 819.24A502.7 502.7 0 0 0 1100.40 813.92Z" fill="#c7c7c7"/>
<path d="M1143.70 840.04A552.5 552.5 0 0 1 1141.13 846.43L1095.05 827.54A502.7 502.7 0 0 0 1097.39 821.73Z" fill="#e377c2"/>
<path d="M1141.13 846.43A552.5 552.5 0 0 1 1140.22 848.62L1094.22 829.54A502.7 502.7 0 0 0 1095.05 827.54Z" fill="#aec7e8"/>
<path d="M1140.22 848.62A552.5 552.5 0 0 1 1138.85 851.91L1092.97 832.53A502.7 502.7 0 0 0 1094.22 829.54Z" fill="#e377c2"/>
<path d="M1137.68 854.65A552.5 552.5 0 0 1 1135.30 860.13L1089.74 840.01A502.7 502.7 0 0 0 1091.91 835.02Z" fill="#1f77b4"/>
<path d="M1134.49 861.95A552.5 552.5 0 0 1 1133.26 864.69L1087.89 844.16A502.7 502.7 0 0 0 1089.00 841.67Z" fill="#c7c7c7"/>
<line x1="1085.60" y1="849.14" x2="1130.74" y2="870.17" stroke="#b2b2b2" stroke-width="1.92"/>
<path d="M1128.15 875.65A552.5 552.5 0 0 1 1125.94 880.22L1081.23 858.29A502.7 502.7 0 0 0 1083.24 854.13Z" fill="#e377c2"/>
<line x1="1080.49" y1="859.78" x2="1125.13" y2="881.86" stroke="#b2b2b2" stroke-width="1.56"/>
<line x1="1079.42" y1="861.94" x2="1123.95" y2="884.23" stroke="#b2b2b2" stroke-width="1.16"/>
<path d="M1123.21 885.69A552.5 552.5 0 0 1 1117.83 896.10L1073.85 872.74A502.7 502.7 0 0 0 1078.75 863.27Z" fill="#c7c7c7"/>
<line x1="1073.58" y1="873.23" x2="1117.54" y2="896.65" stroke="#c49c94" stroke-width="1.19"/>
<line x1="1073.01" y1="874.31" x2="1116.90" y2="897.83" stroke="#b2b2b2" stroke-width="1.38"/>
<path d="M1115.07 901.22A552.5 552.5 0 0 1 1110.51 909.43L1067.19 884.87A502.7 502.7 0 0 0 1071.34 877.39Z" fill="#1f77b4"/>
<path d="M1108.42 913.08A552.5 552.5 0 0 1 1105.22 918.56L1062.37 893.17A502.7 502.7 0 0 0 1065.29 888.19Z" fill="#c7c7c7"/>
<line x1="1062.12" y1="893.59" x2="1104.94" y2="919.02" stroke="#c49c94" stroke-width="1.05"/>
<path d="M1104.67 919.48A552.5 552.5 0 0 1 1102.25 923.50L1059.68 897.66A502.7 502.7 0 0 0 1061.88 894.01Z" fill="#c7c7c7"/>
<path d="M1102.23 923.54A552.5 552.5 0 0 1 1100.78 925.92L1058.33 899.87A502.7 502.7 0 0 0 1059.65 897.71Z" fill="#e377c2"/>
<path d="M1100.78 925.92A552.5 552.5 0 0 1 1097.37 931.39L1055.24 904.85A502.7 502.7 0 0 0 1058.33 899.87Z" fill="#c7c7c7"/>
<line x1="1054.87" y1="905.43" x2="1096.97" y2="932.03" stroke="#9edae5" stroke-width="1.45"/>
<path d="M1096.56 932.67A552.5 552.5 0 0 1 1088.45 945.10L1047.12 917.32A502.7 502.7 0 0 0 1054.50 906.01Z" fill="#c7c7c7"/>
<path d="M1088.09 945.64A552.5 552.5 0 0 1 1080.90 956.05L1040.25 927.28A502.7 502.7 0 0 0 1046.79 917.81Z" fill="#c7c7c7"/>
<path d="M1080.25 956.96A552.5 552.5 0 0 1 1075.64 963.35L1035.47 933.93A502.7 502.7 0 0 0 1039.66 928.11Z" fill="#9467bd"/>
<line x1="1034.43" y1="935.34" x2="1074.50" y2="964.91" stroke="#ff7f0e" stroke-width="1.51"/>
<path d="M1073.62 966.10A552.5 552.5 0 0 1 1071.58 968.83L1031.77 938.91A502.7 502.7 0 0 0 1033.62 936.42Z" fill="#c7c7c7"/>
<line x1="1031.14" y1="939.74" x2="1070.89" y2="969.74" stroke="#ff7f0e" stroke-width="1.31"/>
<path d="M1070.20 970.66A552.5 552.5 0 0 1 1068.11 973.40L1028.61 943.07A502.7 502.7 0 0 0 1030.51 940.57Z" fill="#c7c7c7"/>
<path d="M1068.11 973.40A552.5 552.5 0 0 1 1066.70 975.23L1027.33 944.73A502.7 502.7 0 0 0 1028.61 943.07Z" fill="#2ca02c"/>
<path d="M1066.70 975.23A552.5 552.5 0 0 1 1054.98 989.84L1016.66 958.02A502.7 502.7 0 0 0 1027.33 944.73Z" fill="#ff7f0e"/>
<path d="M1054.52 990.38A552.5 552.5 0 0 1 1052.70 992.57L1014.59 960.51A502.7 502.7 0 0 0 1016.25 958.52Z" fill="#c7c7c7"/>
<path d="M1052.70 992.57A552.5 552.5 0 0 1 1050.37 995.31L1012.47 963.01A502.7 502.7 0 0 0 1014.59 960.51Z" fill="#ff7f0e"/>
<path d="M1049.59 996.22A552.5 552.5 0 0 1 1046.44 999.87L1008.90 967.16A502.7 502.7 0 0 0 1011.77 963.83Z" fill="#c7c7c7"/>
<line x1="1008.31" y1="967.82" x2="1045.80" y2="1000.61" stroke="#ff7f0e" stroke-width="1.85"/>
<path d="M1045.16 1001.34A552.5 552.5 0 0 1 1043.55 1003.16L1006.27 970.15A502.7 502.7 0 0 0 1007.73 968.49Z" fill="#c7c7c7"/>
<path d="M1043.23 1003.52A552.5 552.5 0 0 1 1039.96 1007.18L1003.00 973.81A502.7 502.7 0 0 0 1005.98 970.48Z" fill="#d62728"/>
<line x1="1002.39" y1="974.47" x2="1039.30" y2="1007.91" stroke="#ff7f0e" stroke-width="1.89"/>
<path d="M1038.30 1009.01A552.5 552.5 0 0 1 1034.95 1012.66L998.44 978.79A502.7 502.7 0 0 0 1001.49 975.47Z" fill="#1f77b4"/>
<path d="M1034.95 1012.66A552.5 552.5 0 0 1 1029.79 1018.14L993.75 983.78A502.7 502.7 0 0 0 998.44 978.79Z" fill="#ff7f0e"/>
<path d="M902.39 1117.53A552.5 552.5 0 0 1 896.36 1120.90L872.35 1077.27A502.7 502.7 0 0 0 877.83 1074.21Z" fill="#8c564b"/>
<path d="M895.46 1121.39A552.5 552.5 0 0 1 890.89 1123.87L867.37 1079.98A502.7 502.7 0 0 0 871.52 1077.72Z" fill="#c7c7c7"/>
<path d="M889.62 1124.55A552.5 552.5 0 0 1 885.41 1126.77L862.38 1082.61A502.7 502.7 0 0 0 866.21 1080.60Z" fill="#c7c7c7"/>
<path d="M884.13 1127.43A552.5 552.5 0 0 1 874.45 1132.33L852.41 1087.67A502.7 502.7 0 0 0 861.22 1083.22Z" fill="#c7c7c7"/>
<path d="M869.89 1134.56A552.5 552.5 0 0 1 866.24 1136.30L844.94 1091.29A502.7 502.7 0 0 0 848.26 1089.70Z" fill="#c7c7c7"/>
<path d="M863.49 1137.59A552.5 552.5 0 0 1 859.84 1139.28L839.12 1093.99A502.7 502.7 0 0 0 842.44 1092.46Z" fill="#9467bd"/>
<line x1="838.04" y1="1094.48" x2="858.66" y2="1139.82" stroke="#8c564b" stroke-width="1.34"/>
<path d="M858.02 1140.11A552.5 552.5 0 0 1 855.28 1141.34L834.96 1095.87A502.7 502.7 0 0 0 837.46 1094.75Z" fill="#c7c7c7"/>
<path d="M855.28 1141.34A552.5 552.5 0 0 1 851.63 1142.95L831.65 1097.34A502.7 502.7 0 0 0 834.96 1095.87Z" fill="#9467bd"/>
<path d="M849.80 1143.75A552.5 552.5 0 0 1 842.49 1146.86L823.33 1100.89A502.7 502.7 0 0 0 829.98 1098.07Z" fill="#2ca02c"/>
<path d="M842.49 1146.86A552.5 552.5 0 0 1 839.76 1147.99L820.84 1101.93A502.7 502.7 0 0 0 823.33 1100.89Z" fill="#aec7e8"/>
<path d="M839.76 1147.99A552.5 552.5 0 0 1 834.28 1150.21L815.86 1103.94A502.7 502.7 0 0 0 820.84 1101.93Z" fill="#1f77b4"/>
<path d="M834.28 1150.21A552.5 552.5 0 0 1 829.71 1152.00L811.70 1105.57A502.7 502.7 0 0 0 815.86 1103.94Z" fill="#c7c7c7"/>
<line x1="808.55" y1="1106.78" x2="826.25" y2="1153.33" stroke="#b2b2b2" stroke-width="1.12"/>
<line x1="759.70" y1="1122.55" x2="772.56" y2="1170.67" stroke="#cfcfcf" stroke-width="1.09"/>
<line x1="752.72" y1="1124.37" x2="764.89" y2="1172.66" stroke="#b2b2b2" stroke-width="1.80"/>
<line x1="738.59" y1="1127.71" x2="749.36" y2="1176.33" stroke="#cfcfcf" stroke-width="1.05"/>
<line x1="730.29" y1="1129.47" x2="740.24" y2="1178.27" stroke="#cfcfcf" stroke-width="1.05"/>
<line x1="731.01" y1="1129.33" x2="741.02" y2="1178.11" stroke="#cfcfcf" stroke-width="1.05"/>
<line x1="724.36" y1="1130.64" x2="733.72" y2="1179.56" stroke="#cfcfcf" stroke-width="1.05"/>
<path d="M724.59 1181.22A552.5 552.5 0 0 1 717.28 1182.45L709.41 1133.27A502.7 502.7 0 0 0 716.06 1132.16Z" fill="#dddddd"/>
<line x1="711.40" y1="1132.95" x2="719.48" y2="1182.09" stroke="#b2b2b2" stroke-width="1.05"/>
<line x1="713.90" y1="1132.53" x2="722.22" y2="1181.63" stroke="#b2b2b2" stroke-width="1.05"/>
<line x1="691.30" y1="1135.84" x2="697.39" y2="1185.26" stroke="#b2b2b2" stroke-width="1.05"/>
<line x1="656.74" y1="1138.88" x2="659.40" y2="1188.61" stroke="#cfcfcf" stroke-width="1.05"/>
<path d="M639.68 1189.31A552.5 552.5 0 0 1 637.30 1189.35L636.63 1139.55A502.7 502.7 0 0 0 638.80 1139.52Z" fill="#1f77b4"/>
<line x1="622.60" y1="1139.55" x2="621.87" y2="1189.34" stroke="#b2b2b2" stroke-width="1.05"/>
<line x1="613.96" y1="1139.35" x2="612.38" y2="1189.12" stroke="#b2b2b2" stroke-width="1.05"/>
<line x1="590.45" y1="1138.05" x2="586.54" y2="1187.70" stroke="#cfcfcf" stroke-width="2.10"/>
<line x1="588.20" y1="1137.87" x2="584.07" y2="1187.50" stroke="#b2b2b2" stroke-width="1.93"/>
<line x1="584.13" y1="1137.51" x2="579.60" y2="1187.11" stroke="#b2b2b2" stroke-width="1.40"/>
<line x1="582.80" y1="1137.39" x2="578.14" y2="1186.97" stroke="#8c564b" stroke-width="1.05"/>
<line x1="581.39" y1="1137.25" x2="576.59" y2="1186.82" stroke="#b2b2b2" stroke-width="1.58"/>
<line x1="575.66" y1="1136.67" x2="570.29" y2="1186.17" stroke="#1f77b4" stroke-width="1.05"/>
<path d="M489.09 1171.16A552.5 552.5 0 0 1 486.36 1170.43L499.30 1122.34A502.7 502.7 0 0 0 501.79 1123.00Z" fill="#c7c7c7"/>
<line x1="495.81" y1="1121.39" x2="482.53" y2="1169.38" stroke="#9467bd" stroke-width="1.45"/>
<line x1="491.32" y1="1120.12" x2="477.59" y2="1167.99" stroke="#b2b2b2" stroke-width="1.05"/>
<line x1="487.17" y1="1118.91" x2="473.03" y2="1166.66" stroke="#b2b2b2" stroke-width="1.05"/>
<line x1="483.01" y1="1117.66" x2="468.46" y2="1165.29" stroke="#cfcfcf" stroke-width="1.05"/>
<line x1="471.38" y1="1113.95" x2="455.68" y2="1161.21" stroke="#b2b2b2" stroke-width="1.05"/>
<line x1="464.74" y1="1111.69" x2="448.38" y2="1158.73" stroke="#cfcfcf" stroke-width="1.05"/>
<line x1="458.09" y1="1109.33" x2="441.07" y2="1156.13" stroke="#1f77b4" stroke-width="1.85"/>
<path d="M444.35 1157.31A552.5 552.5 0 0 1 441.99 1156.46L458.92 1109.63A502.7 502.7 0 0 0 461.08 1110.40Z" fill="#c7c7c7"/>
<line x1="433.42" y1="1099.61" x2="413.95" y2="1145.45" stroke="#b2b2b2" stroke-width="1.33"/>
<line x1="429.51" y1="1097.93" x2="409.66" y2="1143.61" stroke="#8a8a8a" stroke-width="1.14"/>
<path d="M406.01 1142.00A552.5 552.5 0 0 1 402.36 1140.37L422.87 1094.99A502.7 502.7 0 0 0 426.19 1096.48Z" fill="#c7c7c7"/>
<line x1="419.21" y1="1093.32" x2="398.34" y2="1138.53" stroke="#b2b2b2" stroke-width="1.15"/>
<line x1="415.14" y1="1091.42" x2="393.87" y2="1136.44" stroke="#b2b2b2" stroke-width="1.35"/>
<line x1="410.90" y1="1089.39" x2="389.21" y2="1134.22" stroke="#8a8a8a" stroke-width="1.16"/>
<line x1="407.08" y1="1087.52" x2="385.01" y2="1132.16" stroke="#b2b2b2" stroke-width="1.94"/>
<line x1="403.92" y1="1085.94" x2="381.54" y2="1130.43" stroke="#b2b2b2" stroke-width="1.17"/>
<line x1="392.96" y1="1080.26" x2="369.48" y2="1124.18" stroke="#1f77b4" stroke-width="1.98"/>
<line x1="394.29" y1="1080.96" x2="370.95" y2="1124.96" stroke="#b2b2b2" stroke-width="1.19"/>
<line x1="386.31" y1="1076.64" x2="362.18" y2="1120.20" stroke="#1f77b4" stroke-width="2.00"/>
<line x1="364.71" y1="1063.96" x2="338.44" y2="1106.27" stroke="#e377c2" stroke-width="1.24"/>
<line x1="350.09" y1="1054.53" x2="322.37" y2="1095.90" stroke="#cfcfcf" stroke-width="1.05"/>
<line x1="346.02" y1="1051.77" x2="317.90" y2="1092.87" stroke="#b2b2b2" stroke-width="1.05"/>
<line x1="339.37" y1="1047.15" x2="310.59" y2="1087.79" stroke="#b2b2b2" stroke-width="1.08"/>
<line x1="333.48" y1="1042.91" x2="304.11" y2="1083.13" stroke="#b2b2b2" stroke-width="1.05"/>
<line x1="330.65" y1="1040.83" x2="301.00" y2="1080.84" stroke="#b2b2b2" stroke-width="1.05"/>
<line x1="326.83" y1="1037.97" x2="296.81" y2="1077.70" stroke="#cfcfcf" stroke-width="1.05"/>
<line x1="322.68" y1="1034.80" x2="292.24" y2="1074.21" stroke="#b2b2b2" stroke-width="1.05"/>
<line x1="323.52" y1="1035.45" x2="293.17" y2="1074.93" stroke="#b2b2b2" stroke-width="1.72"/>
<line x1="312.80" y1="1026.97" x2="281.39" y2="1065.62" stroke="#cfcfcf" stroke-width="1.11"/>
<path d="M267.28 1053.75A552.5 552.5 0 0 1 264.15 1051.01L297.12 1013.68A502.7 502.7 0 0 0 299.97 1016.18Z" fill="#c7c7c7"/>
<line x1="291.93" y1="1009.03" x2="258.44" y2="1045.89" stroke="#8c564b" stroke-width="2.08"/>
<line x1="287.05" y1="1004.54" x2="253.08" y2="1040.96" stroke="#b2b2b2" stroke-width="1.54"/>
<line x1="279.20" y1="997.07" x2="244.46" y2="1032.75" stroke="#cfcfcf" stroke-width="1.05"/>
<line x1="271.69" y1="989.59" x2="236.20" y2="1024.53" stroke="#cfcfcf" stroke-width="1.05"/>
<line x1="258.39" y1="975.55" x2="221.58" y2="1009.10" stroke="#b2b2b2" stroke-width="1.17"/>
<line x1="250.98" y1="967.24" x2="213.44" y2="999.97" stroke="#b2b2b2" stroke-width="1.15"/>
<line x1="239.05" y1="953.04" x2="200.33" y2="984.36" stroke="#8a8a8a" stroke-width="1.35"/>
<path d="M198.12 981.61A552.5 552.5 0 0 1 193.81 976.13L233.11 945.56A502.7 502.7 0 0 0 237.04 950.54Z" fill="#c7c7c7"/>
<line x1="224.34" y1="933.93" x2="184.16" y2="963.35" stroke="#cfcfcf" stroke-width="1.05"/>
<line x1="218.97" y1="926.45" x2="178.26" y2="955.14" stroke="#cfcfcf" stroke-width="1.05"/>
<path d="M173.82 948.75A552.5 552.5 0 0 1 170.85 944.36L212.23 916.65A502.7 502.7 0 0 0 214.93 920.64Z" fill="#c7c7c7"/>
<line x1="203.06" y1="902.44" x2="160.77" y2="928.75" stroke="#b2b2b2" stroke-width="1.05"/>
<line x1="196.48" y1="891.56" x2="153.54" y2="916.79" stroke="#cfcfcf" stroke-width="1.05"/>
<line x1="194.06" y1="887.41" x2="150.89" y2="912.22" stroke="#b2b2b2" stroke-width="1.05"/>
<line x1="192.17" y1="884.08" x2="148.80" y2="908.57" stroke="#cfcfcf" stroke-width="1.05"/>
<line x1="189.85" y1="879.93" x2="146.26" y2="904.00" stroke="#b2b2b2" stroke-width="1.05"/>
<line x1="188.03" y1="876.60" x2="144.26" y2="900.35" stroke="#cfcfcf" stroke-width="1.05"/>
<line x1="186.69" y1="874.11" x2="142.78" y2="897.61" stroke="#b2b2b2" stroke-width="1.05"/>
<line x1="184.93" y1="870.79" x2="140.85" y2="893.96" stroke="#cfcfcf" stroke-width="1.05"/>
<line x1="179.02" y1="859.20" x2="134.35" y2="881.22" stroke="#b2b2b2" stroke-width="1.05"/>
<line x1="176.60" y1="854.21" x2="131.69" y2="875.74" stroke="#b2b2b2" stroke-width="1.05"/>
<line x1="175.02" y1="850.89" x2="129.96" y2="872.09" stroke="#b2b2b2" stroke-width="1.05"/>
<path d="M127.79 867.43A552.5 552.5 0 0 1 121.34 852.82L167.18 833.36A502.7 502.7 0 0 0 173.05 846.65Z" fill="#c7c7c7"/>
<path d="M121.34 852.82A552.5 552.5 0 0 1 118.30 845.52L164.41 826.72A502.7 502.7 0 0 0 167.18 833.36Z" fill="#9467bd"/>
<line x1="162.08" y1="820.90" x2="115.74" y2="839.13" stroke="#cfcfcf" stroke-width="1.05"/>
<path d="M108.29 819.04A552.5 552.5 0 0 1 107.15 815.75L154.27 799.63A502.7 502.7 0 0 0 155.30 802.63Z" fill="#9467bd"/>
<line x1="149.51" y1="785.01" x2="101.93" y2="799.68" stroke="#aec7e8" stroke-width="1.46"/>
<line x1="148.55" y1="781.86" x2="100.87" y2="796.22" stroke="#cfcfcf" stroke-width="1.82"/>
<path d="M100.05 793.48A552.5 552.5 0 0 1 98.99 789.82L146.84 776.04A502.7 502.7 0 0 0 147.81 779.36Z" fill="#c7c7c7"/>
<line x1="145.89" y1="772.71" x2="97.95" y2="786.17" stroke="#cfcfcf" stroke-width="1.05"/>
<line x1="145.36" y1="770.80" x2="97.36" y2="784.07" stroke="#b2b2b2" stroke-width="1.26"/>
<path d="M96.19 779.77A552.5 552.5 0 0 1 95.37 776.67L143.55 764.07A502.7 502.7 0 0 0 144.30 766.89Z" fill="#c7c7c7"/>
<line x1="142.36" y1="759.42" x2="94.06" y2="771.56" stroke="#cfcfcf" stroke-width="1.05"/>
<line x1="140.97" y1="753.77" x2="92.54" y2="765.35" stroke="#b2b2b2" stroke-width="2.15"/>
<line x1="139.21" y1="746.13" x2="90.60" y2="756.95" stroke="#b2b2b2" stroke-width="1.78"/>
<path d="M89.03 749.65A552.5 552.5 0 0 1 88.09 745.08L136.93 735.33A502.7 502.7 0 0 0 137.78 739.49Z" fill="#c7c7c7"/>
<line x1="136.12" y1="731.18" x2="87.20" y2="740.52" stroke="#cfcfcf" stroke-width="1.05"/>
<line x1="135.34" y1="727.02" x2="86.35" y2="735.95" stroke="#b2b2b2" stroke-width="1.78"/>
<line x1="134.66" y1="723.20" x2="85.60" y2="731.75" stroke="#b2b2b2" stroke-width="1.42"/>
<path d="M82.81 714.03A552.5 552.5 0 0 1 81.67 705.46L131.09 699.28A502.7 502.7 0 0 0 132.12 707.08Z" fill="#c7c7c7"/>
<line x1="130.72" y1="696.28" x2="81.27" y2="702.16" stroke="#1f77b4" stroke-width="1.76"/>
<path d="M80.85 698.51A552.5 552.5 0 0 1 80.26 693.04L129.80 687.98A502.7 502.7 0 0 0 130.34 692.96Z" fill="#c7c7c7"/>
<path d="M79.83 688.68A552.5 552.5 0 0 1 79.42 684.11L129.04 679.86A502.7 502.7 0 0 0 129.41 684.01Z" fill="#ff7f0e"/>
<line x1="128.18" y1="668.23" x2="78.47" y2="671.34" stroke="#cfcfcf" stroke-width="1.05"/>
<path d="M78.21 666.77A552.5 552.5 0 0 1 78.07 664.03L127.81 661.58A502.7 502.7 0 0 0 127.94 664.08Z" fill="#c7c7c7"/>
<path d="M77.94 661.30A552.5 552.5 0 0 1 77.82 658.55L127.59 656.60A502.7 502.7 0 0 0 127.69 659.10Z" fill="#c7c7c7"/>
<path d="M77.72 655.81A552.5 552.5 0 0 1 77.42 641.21L127.22 640.82A502.7 502.7 0 0 0 127.49 654.10Z" fill="#c7c7c7"/>
<line x1="127.25" y1="630.02" x2="77.45" y2="629.33" stroke="#cfcfcf" stroke-width="1.05"/>
<line x1="127.43" y1="621.71" x2="77.65" y2="620.21" stroke="#b2b2b2" stroke-width="1.05"/>
<path d="M78.07 609.79A552.5 552.5 0 0 1 78.24 606.51L127.96 609.25A502.7 502.7 0 0 0 127.81 612.24Z" fill="#c7c7c7"/>
<line x1="128.39" y1="602.35" x2="78.71" y2="598.93" stroke="#b2b2b2" stroke-width="1.23"/>
<line x1="129.15" y1="592.63" x2="79.55" y2="588.24" stroke="#cfcfcf" stroke-width="1.05"/>
<path d="M79.97 583.68A552.5 552.5 0 0 1 80.63 577.29L130.13 582.66A502.7 502.7 0 0 0 129.54 588.48Z" fill="#dddddd"/>
<line x1="129.91" y1="584.74" x2="80.38" y2="579.57" stroke="#b2b2b2" stroke-width="1.05"/>
<line x1="132.10" y1="566.88" x2="82.79" y2="559.95" stroke="#cfcfcf" stroke-width="1.05"/>
<line x1="132.74" y1="562.48" x2="83.49" y2="555.10" stroke="#b2b2b2" stroke-width="1.23"/>
<path d="M84.15 550.81A552.5 552.5 0 0 1 84.59 548.08L133.74 556.08A502.7 502.7 0 0 0 133.34 558.57Z" fill="#c7c7c7"/>
<line x1="134.29" y1="552.76" x2="85.19" y2="544.42" stroke="#b2b2b2" stroke-width="1.77"/>
<path d="M85.99 539.85A552.5 552.5 0 0 1 86.55 536.76L135.53 545.78A502.7 502.7 0 0 0 135.02 548.60Z" fill="#1f77b4"/>
<path d="M87.70 530.73A552.5 552.5 0 0 1 88.43 527.08L137.23 536.98A502.7 502.7 0 0 0 136.57 540.30Z" fill="#dddddd"/>
<path d="M92.67 507.89A552.5 552.5 0 0 1 95.18 497.85L143.38 510.38A502.7 502.7 0 0 0 141.10 519.52Z" fill="#c7c7c7"/>
<line x1="144.26" y1="507.06" x2="96.15" y2="494.20" stroke="#b2b2b2" stroke-width="1.81"/>
<path d="M96.88 491.47A552.5 552.5 0 0 1 97.90 487.81L145.85 501.25A502.7 502.7 0 0 0 144.93 504.57Z" fill="#dddddd"/>
<line x1="144.93" y1="504.57" x2="96.89" y2="491.46" stroke="#ff9896" stroke-width="1.81"/>
<path d="M97.39 489.64A552.5 552.5 0 0 1 99.46 482.33L147.27 496.26A502.7 502.7 0 0 0 145.39 502.91Z" fill="#c7c7c7"/>
<line x1="147.47" y1="495.60" x2="99.67" y2="481.60" stroke="#9467bd" stroke-width="1.05"/>
<line x1="147.71" y1="494.77" x2="99.94" y2="480.69" stroke="#ffbb78" stroke-width="1.10"/>
<line x1="149.51" y1="488.79" x2="101.93" y2="474.12" stroke="#cfcfcf" stroke-width="1.05"/>
<line x1="150.55" y1="485.46" x2="103.07" y2="470.46" stroke="#cfcfcf" stroke-width="1.05"/>
<line x1="150.25" y1="486.41" x2="102.74" y2="471.50" stroke="#cfcfcf" stroke-width="1.05"/>
<line x1="154.92" y1="472.29" x2="107.86" y2="455.98" stroke="#cfcfcf" stroke-width="1.05"/>
<line x1="156.67" y1="467.31" x2="109.79" y2="450.51" stroke="#b2b2b2" stroke-width="1.85"/>
<line x1="159.42" y1="459.82" x2="112.81" y2="442.28" stroke="#cfcfcf" stroke-width="1.05"/>
<path d="M115.62 434.98A552.5 552.5 0 0 1 118.18 428.59L164.30 447.36A502.7 502.7 0 0 0 161.98 453.18Z" fill="#c7c7c7"/>
<line x1="166.32" y1="442.46" x2="120.40" y2="423.20" stroke="#b2b2b2" stroke-width="1.05"/>
<line x1="177.22" y1="418.29" x2="132.38" y2="396.63" stroke="#17becf" stroke-width="1.93"/>
<line x1="184.67" y1="403.50" x2="140.56" y2="380.38" stroke="#17becf" stroke-width="1.57"/>
<line x1="185.37" y1="402.17" x2="141.33" y2="378.92" stroke="#9edae5" stroke-width="1.19"/>
<line x1="190.08" y1="393.45" x2="146.51" y2="369.33" stroke="#b2b2b2" stroke-width="1.05"/>
<path d="M149.43 364.13A552.5 552.5 0 0 1 152.26 359.20L195.32 384.23A502.7 502.7 0 0 0 192.74 388.71Z" fill="#ff7f0e"/>
<line x1="197.27" y1="380.90" x2="154.41" y2="355.54" stroke="#9edae5" stroke-width="2.03"/>
<line x1="201.27" y1="374.26" x2="158.80" y2="348.24" stroke="#ff7f0e" stroke-width="2.05"/>
<path d="M159.37 347.32A552.5 552.5 0 0 1 165.11 338.19L207.00 365.12A502.7 502.7 0 0 0 201.78 373.42Z" fill="#c7c7c7"/>
<line x1="209.70" y1="360.97" x2="168.07" y2="333.63" stroke="#1f77b4" stroke-width="2.08"/>
<path d="M170.50 329.97A552.5 552.5 0 0 1 172.95 326.32L214.14 354.32A502.7 502.7 0 0 0 211.90 357.64Z" fill="#c7c7c7"/>
<path d="M174.20 324.50A552.5 552.5 0 0 1 177.37 319.93L218.16 348.50A502.7 502.7 0 0 0 215.27 352.66Z" fill="#c7c7c7"/>
<path d="M181.91 313.54A552.5 552.5 0 0 1 186.86 306.79L226.79 336.54A502.7 502.7 0 0 0 222.29 342.69Z" fill="#c7c7c7"/>
<line x1="228.79" y1="333.88" x2="189.06" y2="303.86" stroke="#b2b2b2" stroke-width="1.74"/>
<line x1="231.45" y1="330.39" x2="191.98" y2="300.03" stroke="#b2b2b2" stroke-width="1.32"/>
<line x1="235.47" y1="325.24" x2="196.39" y2="294.37" stroke="#cfcfcf" stroke-width="1.05"/>
<line x1="237.58" y1="322.59" x2="198.72" y2="291.45" stroke="#98df8a" stroke-width="1.79"/>
<path d="M200.49 289.25A552.5 552.5 0 0 1 202.26 287.07L240.81 318.60A502.7 502.7 0 0 0 239.19 320.59Z" fill="#2ca02c"/>
<line x1="241.49" y1="317.76" x2="203.02" y2="286.15" stroke="#aec7e8" stroke-width="1.35"/>
<line x1="249.19" y1="308.63" x2="211.47" y2="276.10" stroke="#cfcfcf" stroke-width="1.05"/>
<line x1="262.61" y1="293.67" x2="226.23" y2="259.67" stroke="#cfcfcf" stroke-width="1.05"/>
<line x1="245.06" y1="313.47" x2="206.93" y2="281.43" stroke="#cfcfcf" stroke-width="1.08"/>
<line x1="253.37" y1="303.84" x2="216.07" y2="270.84" stroke="#cfcfcf" stroke-width="1.05"/>
<line x1="257.52" y1="299.20" x2="220.63" y2="265.75" stroke="#cfcfcf" stroke-width="1.05"/>
<path d="M233.05 252.50A552.5 552.5 0 0 1 234.69 250.81L270.31 285.61A502.7 502.7 0 0 0 268.82 287.14Z" fill="#2ca02c"/>
<line x1="283.27" y1="272.81" x2="248.94" y2="236.75" stroke="#cfcfcf" stroke-width="1.05"/>
<line x1="286.68" y1="269.60" x2="252.68" y2="233.22" stroke="#b2b2b2" stroke-width="1.20"/>
<line x1="290.00" y1="266.53" x2="256.33" y2="229.83" stroke="#b2b2b2" stroke-width="1.19"/>
<line x1="293.32" y1="263.50" x2="259.98" y2="226.51" stroke="#b2b2b2" stroke-width="1.17"/>
<path d="M261.72 224.95A552.5 552.5 0 0 1 263.91 223.01L296.90 260.31A502.7 502.7 0 0 0 294.91 262.08Z" fill="#c7c7c7"/>
<path d="M264.64 222.36A552.5 552.5 0 0 1 266.47 220.76L299.23 258.27A502.7 502.7 0 0 0 297.57 259.72Z" fill="#c7c7c7"/>
<path d="M267.19 220.13A552.5 552.5 0 0 1 269.03 218.54L301.55 256.25A502.7 502.7 0 0 0 299.89 257.69Z" fill="#c7c7c7"/>
<line x1="306.29" y1="252.22" x2="274.23" y2="214.11" stroke="#aec7e8" stroke-width="1.59"/>
<line x1="315.34" y1="244.78" x2="284.18" y2="205.93" stroke="#b2b2b2" stroke-width="1.35"/>
<line x1="336.20" y1="228.92" x2="307.10" y2="188.51" stroke="#1f77b4" stroke-width="1.50"/>
<line x1="343.17" y1="223.99" x2="314.76" y2="183.09" stroke="#b2b2b2" stroke-width="1.06"/>
<line x1="348.24" y1="220.52" x2="320.34" y2="179.27" stroke="#b2b2b2" stroke-width="1.26"/>
<line x1="352.31" y1="217.79" x2="324.81" y2="176.27" stroke="#b2b2b2" stroke-width="1.05"/>
<line x1="355.64" y1="215.61" x2="328.47" y2="173.87" stroke="#b2b2b2" stroke-width="1.05"/>
<line x1="359.54" y1="213.09" x2="332.75" y2="171.11" stroke="#ff7f0e" stroke-width="1.66"/>
<path d="M333.85 170.41A552.5 552.5 0 0 1 340.25 166.41L366.35 208.82A502.7 502.7 0 0 0 360.54 212.46Z" fill="#dddddd"/>
<line x1="362.62" y1="211.15" x2="336.14" y2="168.97" stroke="#b2b2b2" stroke-width="1.05"/>
<line x1="365.10" y1="209.59" x2="338.87" y2="167.26" stroke="#b2b2b2" stroke-width="1.05"/>
<path d="M342.98 164.74A552.5 552.5 0 0 1 347.55 162.00L373.00 204.80A502.7 502.7 0 0 0 368.84 207.30Z" fill="#bcbd22"/>
<line x1="373.99" y1="204.21" x2="348.64" y2="161.35" stroke="#9467bd" stroke-width="1.61"/>
<path d="M354.85 157.73A552.5 552.5 0 0 1 371.29 148.66L394.60 192.67A502.7 502.7 0 0 0 379.64 200.92Z" fill="#c7c7c7"/>
<line x1="395.59" y1="192.15" x2="372.38" y2="148.09" stroke="#b2b2b2" stroke-width="1.05"/>
<line x1="401.24" y1="189.21" x2="378.59" y2="144.86" stroke="#b2b2b2" stroke-width="1.05"/>
<line x1="403.24" y1="188.20" x2="380.78" y2="143.75" stroke="#b2b2b2" stroke-width="1.05"/>
<line x1="405.39" y1="187.12" x2="383.15" y2="142.56" stroke="#b2b2b2" stroke-width="1.95"/>
<path d="M385.16 141.56A552.5 552.5 0 0 1 387.72 140.31L409.55 185.07A502.7 502.7 0 0 0 407.22 186.21Z" fill="#c7c7c7"/>
<path d="M389.55 139.42A552.5 552.5 0 0 1 393.20 137.67L414.53 182.67A502.7 502.7 0 0 0 411.21 184.26Z" fill="#c7c7c7"/>
<line x1="420.93" y1="179.69" x2="400.23" y2="134.40" stroke="#e377c2" stroke-width="1.34"/>
<line x1="423.67" y1="178.45" x2="403.24" y2="133.03" stroke="#b2b2b2" stroke-width="1.91"/>
<line x1="435.31" y1="173.39" x2="416.03" y2="127.47" stroke="#cfcfcf" stroke-width="1.13"/>
<line x1="423.97" y1="178.31" x2="403.57" y2="132.88" stroke="#b2b2b2" stroke-width="1.05"/>
<line x1="433.61" y1="174.11" x2="414.17" y2="128.26" stroke="#cfcfcf" stroke-width="1.05"/>
<line x1="436.27" y1="172.99" x2="417.09" y2="127.03" stroke="#cfcfcf" stroke-width="1.05"/>
<path d="M421.47 125.22A552.5 552.5 0 0 1 428.77 122.31L446.90 168.69A502.7 502.7 0 0 0 440.26 171.34Z" fill="#1f77b4"/>
<line x1="456.87" y1="164.92" x2="439.73" y2="118.16" stroke="#b2b2b2" stroke-width="1.87"/>
<path d="M448.86 114.90A552.5 552.5 0 0 1 459.81 111.23L475.14 158.61A502.7 502.7 0 0 0 465.18 161.95Z" fill="#c7c7c7"/>
<path d="M471.68 107.54A552.5 552.5 0 0 1 476.61 106.09L490.43 153.94A502.7 502.7 0 0 0 485.94 155.25Z" fill="#1f77b4"/>
<line x1="492.18" y1="153.43" x2="478.53" y2="105.54" stroke="#cfcfcf" stroke-width="1.05"/>
<line x1="498.91" y1="151.57" x2="485.93" y2="103.49" stroke="#9467bd" stroke-width="1.80"/>
<path d="M494.51 101.24A552.5 552.5 0 0 1 497.80 100.42L509.71 148.78A502.7 502.7 0 0 0 506.72 149.53Z" fill="#c7c7c7"/>
<path d="M499.07 100.11A552.5 552.5 0 0 1 502.73 99.24L514.19 147.70A502.7 502.7 0 0 0 510.87 148.50Z" fill="#c7c7c7"/>
<line x1="522.33" y1="145.84" x2="511.68" y2="97.20" stroke="#b2b2b2" stroke-width="1.43"/>
<line x1="537.45" y1="142.77" x2="528.29" y2="93.82" stroke="#b2b2b2" stroke-width="1.06"/>
<line x1="546.34" y1="141.19" x2="538.07" y2="92.09" stroke="#b2b2b2" stroke-width="1.24"/>
<line x1="555.40" y1="139.75" x2="548.02" y2="90.50" stroke="#cfcfcf" stroke-width="1.06"/>
<line x1="560.21" y1="139.05" x2="553.31" y2="89.73" stroke="#cfcfcf" stroke-width="1.05"/>
<line x1="567.45" y1="138.09" x2="561.26" y2="88.68" stroke="#b2b2b2" stroke-width="1.05"/>
<path d="M574.49 87.19A552.5 552.5 0 0 1 583.08 86.39L587.30 136.01A502.7 502.7 0 0 0 579.49 136.73Z" fill="#c7c7c7"/>
<path d="M588.56 85.95A552.5 552.5 0 0 1 592.21 85.69L595.60 135.37A502.7 502.7 0 0 0 592.29 135.61Z" fill="#dddddd"/>
<path d="M592.76 85.65A552.5 552.5 0 0 1 595.86 85.45L598.93 135.15A502.7 502.7 0 0 0 596.10 135.34Z" fill="#c7c7c7"/>
<path d="M596.77 85.39A552.5 552.5 0 0 1 605.90 84.92L608.07 134.67A502.7 502.7 0 0 0 599.76 135.10Z" fill="#c7c7c7"/>
<line x1="618.04" y1="134.34" x2="616.87" y2="84.55" stroke="#1f77b4" stroke-width="1.74"/>
<path d="M1036.90 1010.54A552.5 552.5 0 0 1 1032.83 1014.92L996.51 980.85A502.7 502.7 0 0 0 1000.22 976.86Z" fill="#1f77b4"/>
<line x1="1000.63" y1="976.41" x2="1037.36" y2="1010.04" stroke="#aec7e8" stroke-width="1.28"/>
<path d="M1041.88 1005.04A552.5 552.5 0 0 1 1037.81 1009.55L1001.04 975.96A502.7 502.7 0 0 0 1004.74 971.86Z" fill="#1f77b4"/>
<path d="M1032.38 1015.40A552.5 552.5 0 0 1 1021.53 1026.62L986.23 991.49A502.7 502.7 0 0 0 996.10 981.29Z" fill="#c7c7c7"/>
<line x1="990.86" y1="986.78" x2="1026.62" y2="1021.44" stroke="#d62728" stroke-width="1.55"/>
<path d="M1021.53 1026.62A552.5 552.5 0 0 1 1017.01 1031.11L982.12 995.58A502.7 502.7 0 0 0 986.23 991.49Z" fill="#c7c7c7"/>
<path d="M1017.01 1031.11A552.5 552.5 0 0 1 1014.75 1033.32L980.06 997.59A502.7 502.7 0 0 0 982.12 995.58Z" fill="#9467bd"/>
<path d="M1014.75 1033.32A552.5 552.5 0 0 1 1009.10 1038.73L974.92 1002.51A502.7 502.7 0 0 0 980.06 997.59Z" fill="#c7c7c7"/>
<path d="M1009.10 1038.73A552.5 552.5 0 0 1 1004.58 1042.95L970.80 1006.35A502.7 502.7 0 0 0 974.92 1002.51Z" fill="#1f77b4"/>
<path d="M1004.58 1042.95A552.5 552.5 0 0 1 1001.64 1045.64L968.13 1008.80A502.7 502.7 0 0 0 970.80 1006.35Z" fill="#ff7f0e"/>
<line x1="967.41" y1="1009.45" x2="1000.85" y2="1046.36" stroke="#b2b2b2" stroke-width="2.04"/>
<path d="M1000.05 1047.07A552.5 552.5 0 0 1 993.27 1053.09L960.52 1015.58A502.7 502.7 0 0 0 966.69 1010.10Z" fill="#ff7f0e"/>
<path d="M992.59 1053.69A552.5 552.5 0 0 1 989.20 1056.62L956.81 1018.79A502.7 502.7 0 0 0 959.90 1016.12Z" fill="#9467bd"/>
<path d="M989.20 1056.62A552.5 552.5 0 0 1 985.36 1059.87L953.32 1021.75A502.7 502.7 0 0 0 956.81 1018.79Z" fill="#c7c7c7"/>
<path d="M984.90 1060.26A552.5 552.5 0 0 1 981.97 1062.70L950.23 1024.32A502.7 502.7 0 0 0 952.90 1022.10Z" fill="#d62728"/>
<path d="M981.97 1062.70A552.5 552.5 0 0 1 977.44 1066.40L946.12 1027.69A502.7 502.7 0 0 0 950.23 1024.32Z" fill="#ff7f0e"/>
<line x1="945.29" y1="1028.35" x2="976.54" y2="1067.13" stroke="#b2b2b2" stroke-width="1.67"/>
<path d="M975.86 1067.68A552.5 552.5 0 0 1 963.20 1077.55L933.16 1037.83A502.7 502.7 0 0 0 944.68 1028.85Z" fill="#ff7f0e"/>
<path d="M962.75 1077.88A552.5 552.5 0 0 1 957.09 1082.10L927.60 1041.97A502.7 502.7 0 0 0 932.75 1038.14Z" fill="#c7c7c7"/>
<line x1="926.37" y1="1042.87" x2="955.74" y2="1083.09" stroke="#ff9896" stroke-width="1.60"/>
<line x1="924.72" y1="1044.07" x2="953.93" y2="1084.40" stroke="#1f77b4" stroke-width="1.59"/>
<path d="M952.57 1085.38A552.5 552.5 0 0 1 950.31 1087.00L921.43 1046.43A502.7 502.7 0 0 0 923.49 1044.96Z" fill="#d62728"/>
<path d="M950.31 1087.00A552.5 552.5 0 0 1 944.66 1090.97L916.29 1050.04A502.7 502.7 0 0 0 921.43 1046.43Z" fill="#c7c7c7"/>
<path d="M944.21 1091.29A552.5 552.5 0 0 1 941.95 1092.84L913.82 1051.75A502.7 502.7 0 0 0 915.88 1050.33Z" fill="#d62728"/>
<path d="M941.95 1092.84A552.5 552.5 0 0 1 931.10 1100.08L903.95 1058.33A502.7 502.7 0 0 0 913.82 1051.75Z" fill="#1f77b4"/>
<line x1="900.25" y1="1060.72" x2="927.03" y2="1102.70" stroke="#8c564b" stroke-width="2.05"/>
<path d="M926.12 1103.28A552.5 552.5 0 0 1 923.18 1105.14L896.74 1062.93A502.7 502.7 0 0 0 899.42 1061.24Z" fill="#c7c7c7"/>
<path d="M923.18 1105.14A552.5 552.5 0 0 1 919.34 1107.52L893.25 1065.10A502.7 502.7 0 0 0 896.74 1062.93Z" fill="#e377c2"/>
<path d="M919.34 1107.52A552.5 552.5 0 0 1 914.81 1110.27L889.13 1067.60A502.7 502.7 0 0 0 893.25 1065.10Z" fill="#c7c7c7"/>
<line x1="887.69" y1="1068.47" x2="913.23" y2="1111.22" stroke="#2ca02c" stroke-width="1.50"/>
<path d="M912.56 1111.62A552.5 552.5 0 0 1 909.62 1113.36L884.41 1070.41A502.7 502.7 0 0 0 887.08 1068.83Z" fill="#c7c7c7"/>
<line x1="882.86" y1="1071.32" x2="907.92" y2="1114.35" stroke="#ffbb78" stroke-width="1.25"/>
<line x1="881.52" y1="1072.09" x2="906.45" y2="1115.20" stroke="#8a8a8a" stroke-width="1.49"/>
<line x1="628.79" y1="190.30" x2="628.67" y2="140.50" stroke="#b2b2b2" stroke-width="1.25"/>
<line x1="643.04" y1="190.49" x2="644.50" y2="140.71" stroke="#cfcfcf" stroke-width="1.05"/>
<line x1="650.93" y1="190.80" x2="653.28" y2="141.05" stroke="#b2b2b2" stroke-width="1.87"/>
<path d="M654.26 141.10A496.4 496.4 0 0 1 656.73 141.23L654.04 190.95A446.6 446.6 0 0 0 651.82 190.84Z" fill="#ff7f0e"/>
<line x1="672.26" y1="192.31" x2="676.99" y2="142.74" stroke="#aec7e8" stroke-width="1.10"/>
<line x1="771.09" y1="213.20" x2="786.83" y2="165.96" stroke="#cfcfcf" stroke-width="1.05"/>
<line x1="773.75" y1="214.10" x2="789.79" y2="166.95" stroke="#b2b2b2" stroke-width="1.05"/>
<line x1="775.59" y1="214.73" x2="791.84" y2="167.66" stroke="#cfcfcf" stroke-width="1.05"/>
<line x1="785.92" y1="218.44" x2="803.32" y2="171.78" stroke="#b2b2b2" stroke-width="1.05"/>
<path d="M810.13 174.37A496.4 496.4 0 0 1 814.23 175.99L795.74 222.23A446.6 446.6 0 0 0 792.05 220.77Z" fill="#1f77b4"/>
<path d="M814.23 175.99A496.4 496.4 0 0 1 823.26 179.71L803.86 225.57A446.6 446.6 0 0 0 795.74 222.23Z" fill="#c7c7c7"/>
<line x1="810.94" y1="228.64" x2="831.13" y2="183.12" stroke="#b2b2b2" stroke-width="1.05"/>
<line x1="813.01" y1="229.56" x2="833.43" y2="184.14" stroke="#cfcfcf" stroke-width="1.05"/>
<line x1="814.78" y1="230.37" x2="835.40" y2="185.03" stroke="#b2b2b2" stroke-width="1.05"/>
<line x1="818.96" y1="232.29" x2="840.05" y2="187.18" stroke="#b2b2b2" stroke-width="1.05"/>
<line x1="822.73" y1="234.08" x2="844.23" y2="189.16" stroke="#b2b2b2" stroke-width="1.05"/>
<line x1="826.12" y1="235.72" x2="848.01" y2="190.98" stroke="#b2b2b2" stroke-width="1.05"/>
<line x1="829.37" y1="237.32" x2="851.62" y2="192.77" stroke="#b2b2b2" stroke-width="1.05"/>
<line x1="840.15" y1="242.88" x2="863.59" y2="198.95" stroke="#1f77b4" stroke-width="1.77"/>
<line x1="847.68" y1="247.00" x2="871.96" y2="203.52" stroke="#1f77b4" stroke-width="2.14"/>
<line x1="871.15" y1="261.07" x2="898.05" y2="219.16" stroke="#1f77b4" stroke-width="1.85"/>
<path d="M898.87 219.68A496.4 496.4 0 0 1 902.15 221.82L874.84 263.46A446.6 446.6 0 0 0 871.89 261.54Z" fill="#c7c7c7"/>
<line x1="877.79" y1="265.41" x2="905.43" y2="223.99" stroke="#b2b2b2" stroke-width="1.87"/>
<path d="M915.28 230.73A496.4 496.4 0 0 1 917.24 232.12L888.41 272.73A446.6 446.6 0 0 0 886.65 271.48Z" fill="#c7c7c7"/>
<path d="M921.84 235.42A496.4 496.4 0 0 1 923.80 236.86L894.32 276.99A446.6 446.6 0 0 0 892.55 275.70Z" fill="#1f77b4"/>
<path d="M924.30 237.22A496.4 496.4 0 0 1 931.68 242.77L901.41 282.31A446.6 446.6 0 0 0 894.77 277.32Z" fill="#c7c7c7"/>
<path d="M935.29 245.56A496.4 496.4 0 0 1 937.43 247.23L906.58 286.33A446.6 446.6 0 0 0 904.65 284.82Z" fill="#e377c2"/>
<line x1="914.92" y1="293.07" x2="946.70" y2="254.73" stroke="#cfcfcf" stroke-width="1.05"/>
<line x1="923.77" y1="300.61" x2="956.54" y2="263.11" stroke="#cfcfcf" stroke-width="1.05"/>
<path d="M965.32 270.96A496.4 496.4 0 0 1 971.87 277.09L937.57 313.18A446.6 446.6 0 0 0 931.67 307.68Z" fill="#c7c7c7"/>
<line x1="938.90" y1="314.45" x2="973.35" y2="278.50" stroke="#98df8a" stroke-width="1.73"/>
<line x1="950.23" y1="325.70" x2="985.94" y2="291.00" stroke="#b2b2b2" stroke-width="1.08"/>
<line x1="952.43" y1="327.99" x2="988.40" y2="293.54" stroke="#b2b2b2" stroke-width="1.29"/>
<line x1="955.86" y1="331.61" x2="992.20" y2="297.56" stroke="#cfcfcf" stroke-width="1.07"/>
<line x1="959.07" y1="335.07" x2="995.78" y2="301.42" stroke="#b2b2b2" stroke-width="1.26"/>
<line x1="962.81" y1="339.21" x2="999.94" y2="306.01" stroke="#b2b2b2" stroke-width="1.67"/>
<line x1="966.21" y1="343.05" x2="1003.71" y2="310.28" stroke="#b2b2b2" stroke-width="2.07"/>
<path d="M1006.55 313.56A496.4 496.4 0 0 1 1010.72 318.48L972.52 350.43A446.6 446.6 0 0 0 968.76 346.00Z" fill="#c7c7c7"/>
<line x1="974.60" y1="352.94" x2="1013.03" y2="321.27" stroke="#b2b2b2" stroke-width="1.61"/>
<path d="M1016.78 325.87A496.4 496.4 0 0 1 1018.87 328.49L979.85 359.43A446.6 446.6 0 0 0 977.96 357.07Z" fill="#c7c7c7"/>
<line x1="981.71" y1="361.79" x2="1020.93" y2="331.11" stroke="#b2b2b2" stroke-width="1.58"/>
<line x1="985.12" y1="366.22" x2="1024.74" y2="336.04" stroke="#b2b2b2" stroke-width="1.57"/>
<path d="M1027.58 339.81A496.4 496.4 0 0 1 1034.17 348.84L993.61 377.73A446.6 446.6 0 0 0 987.69 369.62Z" fill="#c7c7c7"/>
<line x1="1006.17" y1="396.33" x2="1048.13" y2="369.51" stroke="#b2b2b2" stroke-width="1.05"/>
<line x1="1008.18" y1="399.51" x2="1050.36" y2="373.04" stroke="#b2b2b2" stroke-width="1.05"/>
<line x1="1011.73" y1="405.27" x2="1054.31" y2="379.44" stroke="#e377c2" stroke-width="1.28"/>
<line x1="1013.86" y1="408.81" x2="1056.68" y2="383.37" stroke="#b2b2b2" stroke-width="1.05"/>
<line x1="1017.81" y1="415.60" x2="1061.07" y2="390.92" stroke="#cfcfcf" stroke-width="1.05"/>
<line x1="1020.76" y1="420.84" x2="1064.34" y2="396.75" stroke="#cfcfcf" stroke-width="1.05"/>
<line x1="1022.69" y1="424.38" x2="1066.49" y2="400.68" stroke="#d62728" stroke-width="1.41"/>
<line x1="1024.43" y1="427.63" x2="1068.43" y2="404.29" stroke="#b2b2b2" stroke-width="1.06"/>
<path d="M1072.43 412.00A496.4 496.4 0 0 1 1076.51 420.21L1031.70 441.95A446.6 446.6 0 0 0 1028.03 434.56Z" fill="#c7c7c7"/>
<path d="M1076.90 421.03A496.4 496.4 0 0 1 1079.25 425.95L1034.17 447.11A446.6 446.6 0 0 0 1032.06 442.68Z" fill="#c7c7c7"/>
<path d="M1079.63 426.77A496.4 496.4 0 0 1 1081.52 430.87L1036.22 451.54A446.6 446.6 0 0 0 1034.51 447.85Z" fill="#c7c7c7"/>
<line x1="1036.79" y1="452.80" x2="1082.16" y2="432.27" stroke="#e377c2" stroke-width="1.20"/>
<line x1="1041.93" y1="464.60" x2="1087.87" y2="445.39" stroke="#b2b2b2" stroke-width="1.19"/>
<line x1="1044.64" y1="471.25" x2="1090.89" y2="452.77" stroke="#b2b2b2" stroke-width="1.18"/>
<line x1="1047.23" y1="477.89" x2="1093.77" y2="460.16" stroke="#b2b2b2" stroke-width="1.17"/>
<line x1="1049.08" y1="482.83" x2="1095.83" y2="465.65" stroke="#cfcfcf" stroke-width="1.05"/>
<line x1="1052.79" y1="493.31" x2="1099.94" y2="477.30" stroke="#98df8a" stroke-width="1.05"/>
<path d="M1100.44 478.78A496.4 496.4 0 0 1 1103.02 486.66L1055.55 501.73A446.6 446.6 0 0 0 1053.24 494.64Z" fill="#dddddd"/>
<line x1="1055.40" y1="501.26" x2="1102.85" y2="486.13" stroke="#8a8a8a" stroke-width="1.05"/>
<path d="M1107.42 501.31A496.4 496.4 0 0 1 1109.46 508.69L1061.35 521.56A446.6 446.6 0 0 0 1059.52 514.91Z" fill="#c7c7c7"/>
<line x1="1061.74" y1="523.03" x2="1109.89" y2="510.33" stroke="#cfcfcf" stroke-width="1.05"/>
<line x1="1062.39" y1="525.54" x2="1110.62" y2="513.12" stroke="#cfcfcf" stroke-width="1.28"/>
<path d="M1111.17 515.26A496.4 496.4 0 0 1 1112.58 520.99L1064.15 532.62A446.6 446.6 0 0 0 1062.88 527.46Z" fill="#c7c7c7"/>
<line x1="1064.99" y1="536.17" x2="1113.51" y2="524.94" stroke="#2ca02c" stroke-width="1.28"/>
<path d="M1114.11 527.56A496.4 496.4 0 0 1 1114.84 530.84L1066.19 541.48A446.6 446.6 0 0 0 1065.53 538.53Z" fill="#dddddd"/>
<path d="M1115.89 535.76A496.4 496.4 0 0 1 1116.72 539.87L1067.88 549.60A446.6 446.6 0 0 0 1067.13 545.91Z" fill="#c7c7c7"/>
<line x1="1068.46" y1="552.56" x2="1117.37" y2="543.15" stroke="#b2b2b2" stroke-width="1.59"/>
<path d="M1118.14 547.25A496.4 496.4 0 0 1 1118.58 549.71L1069.56 558.45A446.6 446.6 0 0 0 1069.16 556.24Z" fill="#c7c7c7"/>
<line x1="1070.32" y1="562.89" x2="1119.44" y2="554.64" stroke="#b2b2b2" stroke-width="1.58"/>
<path d="M1120.24 559.55A496.4 496.4 0 0 1 1120.62 562.01L1071.39 569.52A446.6 446.6 0 0 0 1071.05 567.31Z" fill="#e377c2"/>
<line x1="1071.50" y1="570.26" x2="1120.74" y2="562.83" stroke="#b2b2b2" stroke-width="1.58"/>
<path d="M1120.87 563.65A496.4 496.4 0 0 1 1121.23 566.12L1071.94 573.22A446.6 446.6 0 0 0 1071.61 571.00Z" fill="#1f77b4"/>
<path d="M1121.69 569.40A496.4 496.4 0 0 1 1122.02 571.86L1072.65 578.39A446.6 446.6 0 0 0 1072.35 576.17Z" fill="#c7c7c7"/>
<line x1="1072.94" y1="580.60" x2="1122.34" y2="574.32" stroke="#b2b2b2" stroke-width="1.57"/>
<line x1="1073.81" y1="587.98" x2="1123.31" y2="582.52" stroke="#1f77b4" stroke-width="1.57"/>
<line x1="1074.05" y1="590.19" x2="1123.58" y2="584.98" stroke="#cfcfcf" stroke-width="1.57"/>
<path d="M1124.15 590.73A496.4 496.4 0 0 1 1124.51 594.83L1074.89 599.05A446.6 446.6 0 0 0 1074.56 595.36Z" fill="#c7c7c7"/>
<path d="M1124.58 595.65A496.4 496.4 0 0 1 1124.85 598.93L1075.19 602.74A446.6 446.6 0 0 0 1074.96 599.79Z" fill="#1f77b4"/>
<path d="M1124.85 598.93A496.4 496.4 0 0 1 1125.09 602.21L1075.41 605.69A446.6 446.6 0 0 0 1075.19 602.74Z" fill="#c7c7c7"/>
<path d="M1125.31 605.50A496.4 496.4 0 0 1 1125.50 608.77L1075.78 611.59A446.6 446.6 0 0 0 1075.61 608.65Z" fill="#c7c7c7"/>
<path d="M1125.72 612.88A496.4 496.4 0 0 1 1125.90 616.98L1076.14 618.98A446.6 446.6 0 0 0 1075.98 615.29Z" fill="#c7c7c7"/>
<path d="M1126.25 630.11A496.4 496.4 0 0 1 1126.29 633.39L1076.49 633.74A446.6 446.6 0 0 0 1076.46 630.79Z" fill="#c7c7c7"/>
<line x1="1076.50" y1="638.02" x2="1126.30" y2="638.14" stroke="#b2b2b2" stroke-width="1.25"/>
<line x1="1076.47" y1="642.45" x2="1126.26" y2="643.07" stroke="#b2b2b2" stroke-width="1.25"/>
<path d="M1126.22 645.70A496.4 496.4 0 0 1 1126.17 648.15L1076.39 647.02A446.6 446.6 0 0 0 1076.43 644.81Z" fill="#1f77b4"/>
<path d="M1126.11 650.61A496.4 496.4 0 0 1 1125.98 654.71L1076.21 652.93A446.6 446.6 0 0 0 1076.33 649.23Z" fill="#c7c7c7"/>
<line x1="1076.10" y1="655.73" x2="1125.86" y2="657.84" stroke="#98df8a" stroke-width="1.25"/>
<line x1="1075.57" y1="665.77" x2="1125.26" y2="668.99" stroke="#cfcfcf" stroke-width="1.05"/>
<line x1="1075.36" y1="668.72" x2="1125.04" y2="672.27" stroke="#cfcfcf" stroke-width="1.05"/>
<line x1="1074.46" y1="679.49" x2="1124.04" y2="684.24" stroke="#d62728" stroke-width="1.57"/>
<line x1="1073.76" y1="686.33" x2="1123.25" y2="691.84" stroke="#b2b2b2" stroke-width="1.05"/>
<path d="M1122.92 694.71A496.4 496.4 0 0 1 1122.63 697.18L1073.20 691.13A446.6 446.6 0 0 0 1073.46 688.91Z" fill="#c7c7c7"/>
<line x1="1072.63" y1="695.56" x2="1122.00" y2="702.10" stroke="#cfcfcf" stroke-width="1.57"/>
<line x1="1070.79" y1="708.11" x2="1119.95" y2="716.05" stroke="#ffbb78" stroke-width="1.58"/>
<path d="M1119.41 719.33A496.4 496.4 0 0 1 1118.99 721.80L1069.92 713.28A446.6 446.6 0 0 0 1070.30 711.06Z" fill="#8c564b"/>
<line x1="1069.40" y1="716.23" x2="1118.41" y2="725.07" stroke="#b2b2b2" stroke-width="1.58"/>
<line x1="1068.69" y1="720.06" x2="1117.62" y2="729.34" stroke="#b2b2b2" stroke-width="1.26"/>
<path d="M1117.02 732.45A496.4 496.4 0 0 1 1116.53 734.91L1067.71 725.08A446.6 446.6 0 0 0 1068.15 722.87Z" fill="#1f77b4"/>
<path d="M1116.53 734.91A496.4 496.4 0 0 1 1115.85 738.20L1067.10 728.04A446.6 446.6 0 0 0 1067.71 725.08Z" fill="#c7c7c7"/>
<path d="M1115.85 738.20A496.4 496.4 0 0 1 1114.98 742.30L1066.32 731.73A446.6 446.6 0 0 0 1067.10 728.04Z" fill="#1f77b4"/>
<line x1="1065.83" y1="733.94" x2="1114.44" y2="744.76" stroke="#b2b2b2" stroke-width="1.59"/>
<line x1="1065.16" y1="736.89" x2="1113.70" y2="748.04" stroke="#b2b2b2" stroke-width="1.60"/>
<line x1="1064.61" y1="739.25" x2="1113.09" y2="750.67" stroke="#b2b2b2" stroke-width="1.27"/>
<path d="M1111.33 757.89A496.4 496.4 0 0 1 1110.49 761.17L1062.28 748.70A446.6 446.6 0 0 0 1063.03 745.75Z" fill="#c7c7c7"/>
<line x1="1059.73" y1="758.15" x2="1107.66" y2="771.67" stroke="#b2b2b2" stroke-width="1.29"/>
<line x1="1058.63" y1="761.98" x2="1106.43" y2="775.93" stroke="#b2b2b2" stroke-width="1.63"/>
<path d="M1098.55 800.55A496.4 496.4 0 0 1 1095.91 807.93L1049.16 790.77A446.6 446.6 0 0 0 1051.53 784.13Z" fill="#c7c7c7"/>
<line x1="1047.50" y1="795.20" x2="1094.07" y2="812.85" stroke="#b2b2b2" stroke-width="1.67"/>
<line x1="1042.96" y1="806.71" x2="1089.02" y2="825.65" stroke="#9467bd" stroke-width="1.69"/>
<path d="M1087.86 828.43A496.4 496.4 0 0 1 1086.48 831.71L1040.67 812.17A446.6 446.6 0 0 0 1041.92 809.22Z" fill="#c7c7c7"/>
<path d="M1086.12 832.54A496.4 496.4 0 0 1 1083.62 838.28L1038.10 818.08A446.6 446.6 0 0 0 1040.35 812.91Z" fill="#c7c7c7"/>
<path d="M1081.40 843.21A496.4 496.4 0 0 1 1079.89 846.49L1034.74 825.46A446.6 446.6 0 0 0 1036.10 822.51Z" fill="#1f77b4"/>
<path d="M1079.51 847.30A496.4 496.4 0 0 1 1075.97 854.69L1031.22 832.84A446.6 446.6 0 0 0 1034.40 826.19Z" fill="#c7c7c7"/>
<line x1="1029.55" y1="836.23" x2="1074.11" y2="858.46" stroke="#b2b2b2" stroke-width="1.05"/>
<line x1="1027.69" y1="839.92" x2="1072.04" y2="862.56" stroke="#b2b2b2" stroke-width="1.05"/>
<path d="M1070.18 866.17A496.4 496.4 0 0 1 1068.89 868.63L1024.85 845.38A446.6 446.6 0 0 0 1026.01 843.17Z" fill="#1f77b4"/>
<path d="M1064.91 876.02A496.4 496.4 0 0 1 1063.55 878.48L1020.05 854.24A446.6 446.6 0 0 0 1021.27 852.03Z" fill="#ff7f0e"/>
<line x1="1017.38" y1="858.97" x2="1060.58" y2="883.73" stroke="#cfcfcf" stroke-width="1.05"/>
<line x1="1014.80" y1="863.40" x2="1057.72" y2="888.65" stroke="#cfcfcf" stroke-width="1.05"/>
<line x1="1012.61" y1="867.08" x2="1055.29" y2="892.75" stroke="#cfcfcf" stroke-width="1.05"/>
<line x1="1020.43" y1="853.55" x2="1063.98" y2="877.70" stroke="#ff7f0e" stroke-width="1.77"/>
<line x1="1016.07" y1="861.22" x2="1059.14" y2="886.24" stroke="#b2b2b2" stroke-width="1.05"/>
<line x1="1013.03" y1="866.39" x2="1055.75" y2="891.98" stroke="#b2b2b2" stroke-width="1.05"/>
<line x1="1006.79" y1="876.50" x2="1048.81" y2="903.22" stroke="#b2b2b2" stroke-width="1.05"/>
<line x1="1005.18" y1="879.01" x2="1047.03" y2="906.00" stroke="#b2b2b2" stroke-width="1.05"/>
<line x1="1002.97" y1="882.40" x2="1044.57" y2="909.78" stroke="#b2b2b2" stroke-width="1.05"/>
<line x1="1001.31" y1="884.91" x2="1042.72" y2="912.57" stroke="#b2b2b2" stroke-width="1.05"/>
<line x1="997.34" y1="890.74" x2="1038.32" y2="919.05" stroke="#9467bd" stroke-width="1.51"/>
<line x1="992.82" y1="897.16" x2="1033.29" y2="926.19" stroke="#b2b2b2" stroke-width="1.05"/>
<line x1="991.23" y1="899.38" x2="1031.52" y2="928.65" stroke="#b2b2b2" stroke-width="1.05"/>
<line x1="989.50" y1="901.74" x2="1029.60" y2="931.27" stroke="#b2b2b2" stroke-width="1.05"/>
<line x1="987.80" y1="904.03" x2="1027.71" y2="933.82" stroke="#cfcfcf" stroke-width="1.05"/>
<line x1="977.55" y1="917.24" x2="1016.32" y2="948.50" stroke="#cfcfcf" stroke-width="1.05"/>
<line x1="971.47" y1="924.62" x2="1009.56" y2="956.70" stroke="#cfcfcf" stroke-width="1.05"/>
<line x1="953.14" y1="945.07" x2="989.19" y2="979.43" stroke="#b2b2b2" stroke-width="2.16"/>
<line x1="939.86" y1="958.42" x2="974.42" y2="994.28" stroke="#ff9896" stroke-width="1.13"/>
<line x1="839.98" y1="1031.00" x2="863.41" y2="1074.95" stroke="#b2b2b2" stroke-width="1.06"/>
<line x1="830.39" y1="1035.97" x2="852.74" y2="1080.47" stroke="#1f77b4" stroke-width="1.40"/>
<path d="M844.70 1084.42A496.4 496.4 0 0 1 840.27 1086.52L819.17 1041.41A446.6 446.6 0 0 0 823.15 1039.52Z" fill="#c7c7c7"/>
<line x1="816.14" y1="1042.81" x2="836.91" y2="1088.08" stroke="#8c564b" stroke-width="1.05"/>
<line x1="812.15" y1="1044.62" x2="832.48" y2="1090.08" stroke="#b2b2b2" stroke-width="1.05"/>
<line x1="809.13" y1="1045.96" x2="829.11" y2="1091.57" stroke="#cfcfcf" stroke-width="1.05"/>
<line x1="804.11" y1="1048.12" x2="823.53" y2="1093.98" stroke="#1f77b4" stroke-width="1.35"/>
<line x1="799.54" y1="1050.03" x2="818.45" y2="1096.10" stroke="#cfcfcf" stroke-width="1.05"/>
<path d="M804.51 1101.58A496.4 496.4 0 0 1 762.67 1115.22L749.35 1067.23A446.6 446.6 0 0 0 786.99 1054.96Z" fill="#c7c7c7"/>
<line x1="748.02" y1="1067.60" x2="761.19" y2="1115.62" stroke="#1f77b4" stroke-width="1.93"/>
<path d="M760.21 1115.89A496.4 496.4 0 0 1 756.93 1116.77L744.18 1068.63A446.6 446.6 0 0 0 747.14 1067.84Z" fill="#c7c7c7"/>
<path d="M756.10 1116.99A496.4 496.4 0 0 1 749.54 1118.67L737.54 1070.34A446.6 446.6 0 0 0 743.44 1068.83Z" fill="#1f77b4"/>
<path d="M747.90 1119.07A496.4 496.4 0 0 1 740.52 1120.82L729.42 1072.27A446.6 446.6 0 0 0 736.07 1070.70Z" fill="#1f77b4"/>
<path d="M739.70 1121.01A496.4 496.4 0 0 1 727.39 1123.63L717.61 1074.80A446.6 446.6 0 0 0 728.68 1072.44Z" fill="#c7c7c7"/>
<path d="M732.70 1122.54A496.4 496.4 0 0 1 725.78 1123.95L716.16 1075.09A446.6 446.6 0 0 0 722.38 1073.82Z" fill="#c7c7c7"/>
<line x1="715.23" y1="1075.27" x2="724.74" y2="1124.16" stroke="#aec7e8" stroke-width="1.34"/>
<path d="M720.94 1124.88A496.4 496.4 0 0 1 717.82 1125.45L709.00 1076.44A446.6 446.6 0 0 0 711.81 1075.92Z" fill="#c7c7c7"/>
<line x1="713.83" y1="1075.54" x2="723.18" y2="1124.46" stroke="#b2b2b2" stroke-width="1.67"/>
<line x1="712.43" y1="1075.81" x2="721.63" y2="1124.75" stroke="#8c564b" stroke-width="1.33"/>
<path d="M717.82 1125.45A496.4 496.4 0 0 1 711.25 1126.59L703.09 1077.46A446.6 446.6 0 0 0 709.00 1076.44Z" fill="#c7c7c7"/>
<line x1="697.80" y1="1078.31" x2="705.38" y2="1127.53" stroke="#d62728" stroke-width="1.99"/>
<line x1="695.47" y1="1078.66" x2="702.78" y2="1127.92" stroke="#8c564b" stroke-width="1.66"/>
<path d="M701.23 1128.15A496.4 496.4 0 0 1 696.73 1128.78L690.02 1079.43A446.6 446.6 0 0 0 694.07 1078.87Z" fill="#1f77b4"/>
<path d="M695.69 1128.92A496.4 496.4 0 0 1 693.28 1129.24L686.92 1079.84A446.6 446.6 0 0 0 689.09 1079.56Z" fill="#2ca02c"/>
<path d="M693.10 1129.26A496.4 496.4 0 0 1 682.38 1130.52L677.12 1081.00A446.6 446.6 0 0 0 686.76 1079.87Z" fill="#c7c7c7"/>
<path d="M681.52 1130.61A496.4 496.4 0 0 1 670.28 1131.65L666.23 1082.02A446.6 446.6 0 0 0 676.34 1081.08Z" fill="#1f77b4"/>
<line x1="665.22" y1="1082.10" x2="669.16" y2="1131.75" stroke="#b2b2b2" stroke-width="2.15"/>
<line x1="663.27" y1="1082.25" x2="666.99" y2="1131.91" stroke="#ffbb78" stroke-width="1.97"/>
<line x1="661.41" y1="1082.39" x2="664.92" y2="1132.06" stroke="#b2b2b2" stroke-width="1.98"/>
<line x1="659.85" y1="1082.49" x2="663.19" y2="1132.18" stroke="#1f77b4" stroke-width="1.31"/>
<path d="M662.50 1132.23A496.4 496.4 0 0 1 659.90 1132.39L656.89 1082.68A446.6 446.6 0 0 0 659.23 1082.54Z" fill="#c7c7c7"/>
<line x1="656.12" y1="1082.73" x2="659.04" y2="1132.44" stroke="#1f77b4" stroke-width="1.64"/>
<line x1="654.57" y1="1082.82" x2="657.32" y2="1132.54" stroke="#b2b2b2" stroke-width="1.65"/>
<line x1="653.01" y1="1082.90" x2="655.58" y2="1132.64" stroke="#1f77b4" stroke-width="1.65"/>
<line x1="651.45" y1="1082.98" x2="653.85" y2="1132.72" stroke="#b2b2b2" stroke-width="1.65"/>
<path d="M652.99 1132.76A496.4 496.4 0 0 1 649.53 1132.91L647.56 1083.15A446.6 446.6 0 0 0 650.67 1083.02Z" fill="#ff7f0e"/>
<line x1="646.79" y1="1083.18" x2="648.67" y2="1132.95" stroke="#b2b2b2" stroke-width="1.64"/>
<line x1="645.23" y1="1083.24" x2="646.94" y2="1133.01" stroke="#1f77b4" stroke-width="1.65"/>
<path d="M646.07 1133.04A496.4 496.4 0 0 1 640.03 1133.20L639.01 1083.41A446.6 446.6 0 0 0 644.45 1083.26Z" fill="#c7c7c7"/>
<line x1="637.99" y1="1083.43" x2="638.90" y2="1133.22" stroke="#aec7e8" stroke-width="1.15"/>
<path d="M638.29 1133.23A496.4 496.4 0 0 1 633.11 1133.29L632.79 1083.49A446.6 446.6 0 0 0 637.45 1083.44Z" fill="#c7c7c7"/>
<path d="M632.24 1133.29A496.4 496.4 0 0 1 628.79 1133.30L628.90 1083.50A446.6 446.6 0 0 0 632.01 1083.50Z" fill="#9467bd"/>
<path d="M628.79 1133.30A496.4 496.4 0 0 1 624.81 1133.27L625.32 1083.48A446.6 446.6 0 0 0 628.90 1083.50Z" fill="#c7c7c7"/>
<line x1="624.62" y1="1083.47" x2="624.03" y2="1133.27" stroke="#ffbb78" stroke-width="1.48"/>
<line x1="623.30" y1="1083.45" x2="622.56" y2="1133.25" stroke="#b2b2b2" stroke-width="1.31"/>
<path d="M621.87 1133.24A496.4 496.4 0 0 1 618.41 1133.17L619.56 1083.38A446.6 446.6 0 0 0 622.67 1083.44Z" fill="#1f77b4"/>
<path d="M618.41 1133.17A496.4 496.4 0 0 1 614.09 1133.05L615.67 1083.27A446.6 446.6 0 0 0 619.56 1083.38Z" fill="#c7c7c7"/>
<path d="M613.75 1133.04A496.4 496.4 0 0 1 607.18 1132.78L609.46 1083.03A446.6 446.6 0 0 0 615.37 1083.26Z" fill="#ff7f0e"/>
<line x1="608.68" y1="1083.00" x2="606.31" y2="1132.74" stroke="#b2b2b2" stroke-width="1.65"/>
<line x1="607.51" y1="1082.94" x2="605.01" y2="1132.68" stroke="#1f77b4" stroke-width="1.05"/>
<path d="M604.58 1132.65A496.4 496.4 0 0 1 595.07 1132.08L598.56 1082.40A446.6 446.6 0 0 0 607.12 1082.92Z" fill="#c7c7c7"/>
<line x1="597.94" y1="1082.35" x2="594.38" y2="1132.03" stroke="#b2b2b2" stroke-width="1.31"/>
<line x1="596.78" y1="1082.27" x2="593.08" y2="1131.93" stroke="#8c564b" stroke-width="1.15"/>
<line x1="595.46" y1="1082.17" x2="591.62" y2="1131.82" stroke="#1f77b4" stroke-width="1.65"/>
<path d="M590.75 1131.75A496.4 496.4 0 0 1 588.15 1131.54L592.34 1081.92A446.6 446.6 0 0 0 594.68 1082.11Z" fill="#c7c7c7"/>
<line x1="588.61" y1="1081.59" x2="584.00" y2="1131.17" stroke="#9467bd" stroke-width="1.31"/>
<line x1="587.44" y1="1081.48" x2="582.71" y2="1131.05" stroke="#1f77b4" stroke-width="1.16"/>
<line x1="585.34" y1="1081.27" x2="580.37" y2="1130.82" stroke="#b2b2b2" stroke-width="1.66"/>
<path d="M578.64 1130.65A496.4 496.4 0 0 1 519.00 1120.75L530.12 1072.21A446.6 446.6 0 0 0 583.78 1081.11Z" fill="#c7c7c7"/>
<path d="M524.72 1122.03A496.4 496.4 0 0 1 514.06 1119.60L525.68 1071.17A446.6 446.6 0 0 0 535.27 1073.36Z" fill="#c7c7c7"/>
<line x1="524.20" y1="1070.81" x2="512.42" y2="1119.20" stroke="#1f77b4" stroke-width="1.61"/>
<path d="M511.59 1119.00A496.4 496.4 0 0 1 509.14 1118.39L521.25 1070.08A446.6 446.6 0 0 0 523.46 1070.63Z" fill="#c7c7c7"/>
<line x1="519.78" y1="1069.71" x2="507.50" y2="1117.97" stroke="#b2b2b2" stroke-width="1.61"/>
<line x1="516.97" y1="1068.99" x2="504.37" y2="1117.17" stroke="#cfcfcf" stroke-width="1.93"/>
<line x1="514.39" y1="1068.30" x2="501.51" y2="1116.41" stroke="#8c564b" stroke-width="1.13"/>
<line x1="511.21" y1="1067.44" x2="497.98" y2="1115.45" stroke="#9467bd" stroke-width="1.61"/>
<line x1="508.70" y1="1066.74" x2="495.19" y2="1114.67" stroke="#aec7e8" stroke-width="1.62"/>
<path d="M494.37 1114.44A496.4 496.4 0 0 1 486.99 1112.28L501.32 1064.59A446.6 446.6 0 0 0 507.97 1066.53Z" fill="#c7c7c7"/>
<path d="M486.17 1112.04A496.4 496.4 0 0 1 482.89 1111.03L497.64 1063.47A446.6 446.6 0 0 0 500.59 1064.37Z" fill="#1f77b4"/>
<path d="M482.89 1111.03A496.4 496.4 0 0 1 477.14 1109.21L492.47 1061.83A446.6 446.6 0 0 0 497.64 1063.47Z" fill="#9467bd"/>
<path d="M477.14 1109.21A496.4 496.4 0 0 1 470.58 1107.04L486.56 1059.87A446.6 446.6 0 0 0 492.47 1061.83Z" fill="#c7c7c7"/>
<line x1="485.08" y1="1059.37" x2="468.93" y2="1106.48" stroke="#98df8a" stroke-width="1.65"/>
<line x1="475.79" y1="1056.07" x2="458.60" y2="1102.81" stroke="#8c564b" stroke-width="1.67"/>
<line x1="473.28" y1="1055.14" x2="455.82" y2="1101.77" stroke="#8a8a8a" stroke-width="1.67"/>
<line x1="471.06" y1="1054.30" x2="453.35" y2="1100.84" stroke="#1f77b4" stroke-width="1.67"/>
<path d="M451.71 1100.22A496.4 496.4 0 0 1 443.50 1096.98L462.20 1050.82A446.6 446.6 0 0 0 469.59 1053.74Z" fill="#ff7f0e"/>
<line x1="461.24" y1="1050.43" x2="442.44" y2="1096.54" stroke="#d62728" stroke-width="2.19"/>
<path d="M441.37 1096.11A496.4 496.4 0 0 1 437.77 1094.61L457.04 1048.69A446.6 446.6 0 0 0 460.29 1050.04Z" fill="#c7c7c7"/>
<path d="M437.77 1094.61A496.4 496.4 0 0 1 433.17 1092.65L452.91 1046.93A446.6 446.6 0 0 0 457.04 1048.69Z" fill="#1f77b4"/>
<path d="M432.84 1092.51A496.4 496.4 0 0 1 424.64 1088.87L445.23 1043.53A446.6 446.6 0 0 0 452.61 1046.80Z" fill="#c7c7c7"/>
<line x1="443.98" y1="1042.96" x2="423.25" y2="1088.24" stroke="#e377c2" stroke-width="1.20"/>
<line x1="442.58" y1="1042.32" x2="421.69" y2="1087.52" stroke="#8c564b" stroke-width="1.37"/>
<path d="M421.03 1087.22A496.4 496.4 0 0 1 417.26 1085.45L438.59 1040.45A446.6 446.6 0 0 0 441.99 1042.04Z" fill="#c7c7c7"/>
<path d="M417.26 1085.45A496.4 496.4 0 0 1 412.34 1083.08L434.16 1038.32A446.6 446.6 0 0 0 438.59 1040.45Z" fill="#c7c7c7"/>
<path d="M412.34 1083.08A496.4 496.4 0 0 1 408.24 1081.06L430.47 1036.50A446.6 446.6 0 0 0 434.16 1038.32Z" fill="#1f77b4"/>
<path d="M408.24 1081.06A496.4 496.4 0 0 1 404.13 1078.99L426.78 1034.64A446.6 446.6 0 0 0 430.47 1036.50Z" fill="#c7c7c7"/>
<line x1="426.04" y1="1034.26" x2="403.31" y2="1078.57" stroke="#2ca02c" stroke-width="1.76"/>
<path d="M402.49 1078.15A496.4 496.4 0 0 1 398.39 1076.01L421.61 1031.96A446.6 446.6 0 0 0 425.30 1033.88Z" fill="#c7c7c7"/>
<path d="M398.06 1075.83A496.4 496.4 0 0 1 395.11 1074.26L418.66 1030.39A446.6 446.6 0 0 0 421.32 1031.80Z" fill="#8c564b"/>
<path d="M395.11 1074.26A496.4 496.4 0 0 1 392.65 1072.93L416.45 1029.19A446.6 446.6 0 0 0 418.66 1030.39Z" fill="#c7c7c7"/>
<path d="M392.65 1072.93A496.4 496.4 0 0 1 387.73 1070.22L412.02 1026.75A446.6 446.6 0 0 0 416.45 1029.19Z" fill="#ff7f0e"/>
<path d="M387.23 1069.94A496.4 496.4 0 0 1 382.81 1067.43L407.60 1024.24A446.6 446.6 0 0 0 411.58 1026.50Z" fill="#d62728"/>
<line x1="406.63" y1="1023.69" x2="381.74" y2="1066.82" stroke="#c49c94" stroke-width="1.26"/>
<path d="M381.16 1066.48A496.4 496.4 0 0 1 375.42 1063.11L400.95 1020.35A446.6 446.6 0 0 0 406.11 1023.39Z" fill="#c7c7c7"/>
<line x1="399.25" y1="1019.33" x2="373.54" y2="1061.98" stroke="#ff7f0e" stroke-width="1.27"/>
<path d="M372.14 1061.13A496.4 496.4 0 0 1 360.98 1054.15L387.96 1012.29A446.6 446.6 0 0 0 398.00 1018.57Z" fill="#2ca02c"/>
<line x1="387.44" y1="1011.95" x2="360.41" y2="1053.78" stroke="#ff7f0e" stroke-width="1.30"/>
<path d="M359.34 1053.08A496.4 496.4 0 0 1 355.40 1050.50L382.94 1009.01A446.6 446.6 0 0 0 386.48 1011.33Z" fill="#8c564b"/>
<path d="M355.40 1050.50A496.4 496.4 0 0 1 340.15 1039.96L369.22 999.52A446.6 446.6 0 0 0 382.94 1009.01Z" fill="#c7c7c7"/>
<line x1="367.29" y1="998.13" x2="338.01" y2="1038.41" stroke="#2ca02c" stroke-width="1.54"/>
<path d="M337.36 1037.94A496.4 496.4 0 0 1 329.48 1032.07L359.62 992.43A446.6 446.6 0 0 0 366.70 997.70Z" fill="#c7c7c7"/>
<line x1="358.59" y1="991.64" x2="328.33" y2="1031.20" stroke="#ff9896" stroke-width="1.18"/>
<path d="M327.84 1030.82A496.4 496.4 0 0 1 322.92 1026.99L353.71 987.86A446.6 446.6 0 0 0 358.14 991.30Z" fill="#c7c7c7"/>
<path d="M320.86 1025.37A496.4 496.4 0 0 1 312.78 1018.80L344.60 980.49A446.6 446.6 0 0 0 351.86 986.40Z" fill="#c7c7c7"/>
<line x1="352.89" y1="987.21" x2="322.00" y2="1026.27" stroke="#ff9896" stroke-width="1.26"/>
<path d="M311.80 1017.99A496.4 496.4 0 0 1 307.91 1014.70L340.21 976.80A446.6 446.6 0 0 0 343.71 979.75Z" fill="#1f77b4"/>
<path d="M307.91 1014.70A496.4 496.4 0 0 1 302.22 1009.78L335.09 972.37A446.6 446.6 0 0 0 340.21 976.80Z" fill="#c7c7c7"/>
<path d="M302.22 1009.78A496.4 496.4 0 0 1 298.52 1006.50L331.77 969.42A446.6 446.6 0 0 0 335.09 972.37Z" fill="#d62728"/>
<line x1="331.19" y1="968.90" x2="297.88" y2="1005.92" stroke="#1f77b4" stroke-width="1.63"/>
<line x1="329.97" y1="967.80" x2="296.52" y2="1004.70" stroke="#b2b2b2" stroke-width="1.85"/>
<path d="M295.80 1004.04A496.4 496.4 0 0 1 292.23 1000.76L326.11 964.25A446.6 446.6 0 0 0 329.32 967.21Z" fill="#8a8a8a"/>
<path d="M292.23 1000.76A496.4 496.4 0 0 1 289.60 998.30L323.74 962.04A446.6 446.6 0 0 0 326.11 964.25Z" fill="#c7c7c7"/>
<path d="M289.07 997.80A496.4 496.4 0 0 1 285.29 994.19L319.86 958.35A446.6 446.6 0 0 0 323.26 961.59Z" fill="#d62728"/>
<line x1="318.95" y1="957.46" x2="284.28" y2="993.21" stroke="#17becf" stroke-width="1.78"/>
<line x1="317.43" y1="955.99" x2="282.59" y2="991.57" stroke="#ffbb78" stroke-width="1.78"/>
<path d="M281.92 990.91A496.4 496.4 0 0 1 279.43 988.45L314.59 953.18A446.6 446.6 0 0 0 316.83 955.39Z" fill="#c7c7c7"/>
<path d="M279.43 988.45A496.4 496.4 0 0 1 276.17 985.17L311.66 950.23A446.6 446.6 0 0 0 314.59 953.18Z" fill="#d62728"/>
<path d="M276.17 985.17A496.4 496.4 0 0 1 269.06 977.79L305.26 943.59A446.6 446.6 0 0 0 311.66 950.23Z" fill="#1f77b4"/>
<path d="M268.28 976.97A496.4 496.4 0 0 1 266.29 974.84L302.77 940.93A446.6 446.6 0 0 0 304.56 942.85Z" fill="#d62728"/>
<path d="M266.29 974.84A496.4 496.4 0 0 1 263.71 972.04L300.45 938.42A446.6 446.6 0 0 0 302.77 940.93Z" fill="#c7c7c7"/>
<path d="M263.27 971.55A496.4 496.4 0 0 1 261.48 969.58L298.44 936.21A446.6 446.6 0 0 0 300.05 937.98Z" fill="#ff9896"/>
<path d="M261.48 969.58A496.4 496.4 0 0 1 258.54 966.30L295.79 933.25A446.6 446.6 0 0 0 298.44 936.21Z" fill="#c7c7c7"/>
<line x1="295.27" y1="932.66" x2="257.96" y2="965.65" stroke="#2ca02c" stroke-width="1.66"/>
<path d="M257.38 964.99A496.4 496.4 0 0 1 255.65 963.02L293.20 930.30A446.6 446.6 0 0 0 294.75 932.08Z" fill="#c7c7c7"/>
<path d="M255.37 962.69A496.4 496.4 0 0 1 252.12 958.92L290.02 926.61A446.6 446.6 0 0 0 292.94 930.01Z" fill="#9467bd"/>
<line x1="289.20" y1="925.65" x2="251.21" y2="957.85" stroke="#1f77b4" stroke-width="1.43"/>
<path d="M250.03 956.45A496.4 496.4 0 0 1 247.30 953.17L285.68 921.44A446.6 446.6 0 0 0 288.14 924.40Z" fill="#8c564b"/>
<path d="M247.30 953.17A496.4 496.4 0 0 1 244.61 949.89L283.26 918.49A446.6 446.6 0 0 0 285.68 921.44Z" fill="#c7c7c7"/>
<line x1="282.31" y1="917.31" x2="243.55" y2="948.58" stroke="#1f77b4" stroke-width="1.61"/>
<line x1="280.89" y1="915.54" x2="241.97" y2="946.61" stroke="#8c564b" stroke-width="1.99"/>
<path d="M240.66 944.97A496.4 496.4 0 0 1 236.82 940.05L276.25 909.64A446.6 446.6 0 0 0 279.71 914.06Z" fill="#d62728"/>
<path d="M233.69 935.95A496.4 496.4 0 0 1 230.02 931.03L270.14 901.52A446.6 446.6 0 0 0 273.44 905.95Z" fill="#c7c7c7"/>
<line x1="269.70" y1="900.93" x2="229.54" y2="930.37" stroke="#aec7e8" stroke-width="1.16"/>
<path d="M229.18 929.88A496.4 496.4 0 0 1 224.23 922.99L264.93 894.28A446.6 446.6 0 0 0 269.38 900.49Z" fill="#c7c7c7"/>
<line x1="264.31" y1="893.40" x2="223.54" y2="922.01" stroke="#ff7f0e" stroke-width="1.90"/>
<path d="M222.97 921.19A496.4 496.4 0 0 1 221.25 918.72L262.25 890.44A446.6 446.6 0 0 0 263.79 892.67Z" fill="#c7c7c7"/>
<path d="M221.25 918.72A496.4 496.4 0 0 1 219.57 916.26L260.73 888.23A446.6 446.6 0 0 0 262.25 890.44Z" fill="#d62728"/>
<path d="M219.57 916.26A496.4 496.4 0 0 1 217.36 912.98L258.74 885.28A446.6 446.6 0 0 0 260.73 888.23Z" fill="#c7c7c7"/>
<line x1="258.15" y1="884.40" x2="216.70" y2="912.00" stroke="#aec7e8" stroke-width="1.50"/>
<path d="M216.26 911.34A496.4 496.4 0 0 1 211.46 903.96L253.44 877.17A446.6 446.6 0 0 0 257.76 883.81Z" fill="#c7c7c7"/>
<path d="M211.25 903.63A496.4 496.4 0 0 1 209.59 901.00L251.75 874.51A446.6 446.6 0 0 0 253.25 876.87Z" fill="#1f77b4"/>
<path d="M209.59 901.00A496.4 496.4 0 0 1 206.84 896.57L249.28 870.52A446.6 446.6 0 0 0 251.75 874.51Z" fill="#9467bd"/>
<path d="M199.52 884.26A496.4 496.4 0 0 1 194.02 874.43L237.74 850.60A446.6 446.6 0 0 0 242.70 859.45Z" fill="#c7c7c7"/>
<path d="M193.57 873.60A496.4 496.4 0 0 1 192.24 871.14L236.15 847.64A446.6 446.6 0 0 0 237.34 849.85Z" fill="#c7c7c7"/>
<line x1="235.24" y1="845.94" x2="191.24" y2="869.25" stroke="#bcbd22" stroke-width="1.24"/>
<path d="M190.93 868.68A496.4 496.4 0 0 1 188.79 864.58L233.04 841.73A446.6 446.6 0 0 0 234.97 845.42Z" fill="#c7c7c7"/>
<path d="M188.77 864.53A496.4 496.4 0 0 1 184.63 856.33L229.30 834.31A446.6 446.6 0 0 0 233.02 841.69Z" fill="#c7c7c7"/>
<line x1="228.94" y1="833.58" x2="184.23" y2="855.51" stroke="#1f77b4" stroke-width="1.74"/>
<path d="M183.83 854.69A496.4 496.4 0 0 1 176.92 839.92L222.36 819.55A446.6 446.6 0 0 0 228.58 832.84Z" fill="#c7c7c7"/>
<line x1="220.31" y1="814.90" x2="174.63" y2="834.75" stroke="#b2b2b2" stroke-width="1.19"/>
<line x1="218.97" y1="811.80" x2="173.15" y2="831.30" stroke="#b2b2b2" stroke-width="1.05"/>
<line x1="216.97" y1="807.01" x2="170.92" y2="825.98" stroke="#cfcfcf" stroke-width="1.05"/>
<path d="M168.59 820.23A496.4 496.4 0 0 1 163.59 807.11L210.37 790.04A446.6 446.6 0 0 0 214.87 801.84Z" fill="#c7c7c7"/>
<path d="M163.59 807.11A496.4 496.4 0 0 1 160.12 797.26L207.25 781.17A446.6 446.6 0 0 0 210.37 790.04Z" fill="#e377c2"/>
<path d="M159.01 793.98A496.4 496.4 0 0 1 155.84 784.14L203.40 769.37A446.6 446.6 0 0 0 206.25 778.22Z" fill="#c7c7c7"/>
<line x1="202.87" y1="767.67" x2="155.26" y2="782.25" stroke="#1f77b4" stroke-width="1.14"/>
<path d="M155.08 781.68A496.4 496.4 0 0 1 153.27 775.61L201.09 761.69A446.6 446.6 0 0 0 202.72 767.16Z" fill="#c7c7c7"/>
<path d="M153.03 774.78A496.4 496.4 0 0 1 152.10 771.51L200.03 758.00A446.6 446.6 0 0 0 200.87 760.95Z" fill="#c7c7c7"/>
<path d="M151.87 770.68A496.4 496.4 0 0 1 151.05 767.73L199.09 754.60A446.6 446.6 0 0 0 199.82 757.26Z" fill="#c7c7c7"/>
<line x1="198.77" y1="753.43" x2="150.70" y2="766.42" stroke="#ff9896" stroke-width="1.29"/>
<line x1="198.37" y1="751.95" x2="150.25" y2="764.78" stroke="#1f77b4" stroke-width="1.29"/>
<path d="M150.08 764.12A496.4 496.4 0 0 1 148.68 758.71L196.95 746.49A446.6 446.6 0 0 0 198.22 751.35Z" fill="#c7c7c7"/>
<path d="M148.68 758.71A496.4 496.4 0 0 1 147.46 753.78L195.86 742.06A446.6 446.6 0 0 0 196.95 746.49Z" fill="#1f77b4"/>
<line x1="195.63" y1="741.10" x2="147.20" y2="752.72" stroke="#b2b2b2" stroke-width="1.12"/>
<line x1="195.27" y1="739.63" x2="146.81" y2="751.08" stroke="#1f77b4" stroke-width="1.12"/>
<line x1="194.77" y1="737.48" x2="146.25" y2="748.70" stroke="#1f77b4" stroke-width="1.27"/>
<path d="M146.10 748.04A496.4 496.4 0 0 1 145.36 744.76L193.97 733.94A446.6 446.6 0 0 0 194.64 736.89Z" fill="#c7c7c7"/>
<line x1="193.74" y1="732.91" x2="145.11" y2="743.61" stroke="#1f77b4" stroke-width="1.59"/>
<path d="M144.85 742.46A496.4 496.4 0 0 1 144.01 738.52L192.76 728.33A446.6 446.6 0 0 0 193.52 731.87Z" fill="#c7c7c7"/>
<line x1="192.54" y1="727.30" x2="143.78" y2="737.38" stroke="#9467bd" stroke-width="1.05"/>
<line x1="192.35" y1="726.34" x2="143.56" y2="736.31" stroke="#1f77b4" stroke-width="1.12"/>
<path d="M143.44 735.73A496.4 496.4 0 0 1 141.25 724.26L190.27 715.49A446.6 446.6 0 0 0 192.24 725.82Z" fill="#c7c7c7"/>
<line x1="190.03" y1="714.16" x2="140.98" y2="722.78" stroke="#9467bd" stroke-width="1.26"/>
<path d="M140.87 722.12A496.4 496.4 0 0 1 138.71 708.67L187.99 701.47A446.6 446.6 0 0 0 189.93 713.57Z" fill="#c7c7c7"/>
<path d="M138.71 708.67A496.4 496.4 0 0 1 137.69 701.28L187.07 694.82A446.6 446.6 0 0 0 187.99 701.47Z" fill="#1f77b4"/>
<line x1="186.40" y1="689.43" x2="136.95" y2="695.29" stroke="#b2b2b2" stroke-width="1.10"/>
<path d="M136.69 693.07A496.4 496.4 0 0 1 136.24 688.98L185.76 683.75A446.6 446.6 0 0 0 186.17 687.44Z" fill="#c7c7c7"/>
<line x1="185.55" y1="681.69" x2="136.00" y2="686.68" stroke="#b2b2b2" stroke-width="1.88"/>
<line x1="185.15" y1="677.50" x2="135.56" y2="682.03" stroke="#9467bd" stroke-width="2.03"/>
<line x1="184.68" y1="671.97" x2="135.03" y2="675.88" stroke="#2ca02c" stroke-width="1.87"/>
<line x1="184.54" y1="670.12" x2="134.88" y2="673.83" stroke="#98df8a" stroke-width="2.03"/>
<line x1="184.36" y1="667.69" x2="134.68" y2="671.12" stroke="#aec7e8" stroke-width="1.56"/>
<path d="M134.63 670.30A496.4 496.4 0 0 1 134.23 663.74L183.95 661.05A446.6 446.6 0 0 0 184.31 666.95Z" fill="#c7c7c7"/>
<path d="M134.18 662.91A496.4 496.4 0 0 1 133.88 656.36L183.64 654.40A446.6 446.6 0 0 0 183.91 660.30Z" fill="#c7c7c7"/>
<line x1="183.51" y1="650.71" x2="133.74" y2="652.25" stroke="#b2b2b2" stroke-width="1.56"/>
<line x1="183.41" y1="647.02" x2="133.63" y2="648.15" stroke="#cfcfcf" stroke-width="1.05"/>
<path d="M133.50 637.82A496.4 496.4 0 0 1 133.51 634.21L183.31 634.48A446.6 446.6 0 0 0 183.30 637.73Z" fill="#1f77b4"/>
<path d="M133.52 641.59A496.4 496.4 0 0 1 133.50 637.82L183.30 637.73A446.6 446.6 0 0 0 183.32 641.12Z" fill="#c7c7c7"/>
<line x1="183.34" y1="630.78" x2="133.55" y2="630.10" stroke="#d62728" stroke-width="1.05"/>
<line x1="183.36" y1="629.46" x2="133.57" y2="628.63" stroke="#2ca02c" stroke-width="1.87"/>
<path d="M133.60 626.82A496.4 496.4 0 0 1 133.69 623.05L183.47 624.44A446.6 446.6 0 0 0 183.39 627.84Z" fill="#e377c2"/>
<path d="M133.69 623.05A496.4 496.4 0 0 1 134.16 611.24L183.90 613.81A446.6 446.6 0 0 0 183.47 624.44Z" fill="#c7c7c7"/>
<line x1="184.00" y1="611.97" x2="134.27" y2="609.19" stroke="#98df8a" stroke-width="1.05"/>
<line x1="184.19" y1="608.79" x2="134.48" y2="605.66" stroke="#ffbb78" stroke-width="1.25"/>
<path d="M134.53 605.00A496.4 496.4 0 0 1 134.71 602.21L184.39 605.69A446.6 446.6 0 0 0 184.22 608.20Z" fill="#c7c7c7"/>
<path d="M134.71 602.21A496.4 496.4 0 0 1 135.04 597.78L184.69 601.71A446.6 446.6 0 0 0 184.39 605.69Z" fill="#2ca02c"/>
<line x1="184.72" y1="601.26" x2="135.08" y2="597.29" stroke="#98df8a" stroke-width="1.05"/>
<path d="M135.12 596.80A496.4 496.4 0 0 1 135.58 591.55L185.17 596.10A446.6 446.6 0 0 0 184.76 600.82Z" fill="#2ca02c"/>
<path d="M135.58 591.55A496.4 496.4 0 0 1 136.22 584.98L185.75 590.19A446.6 446.6 0 0 0 185.17 596.10Z" fill="#c7c7c7"/>
<line x1="186.31" y1="585.17" x2="136.84" y2="579.40" stroke="#dbdb8d" stroke-width="1.88"/>
<path d="M136.96 578.42A496.4 496.4 0 0 1 137.89 571.03L187.25 577.64A446.6 446.6 0 0 0 186.41 584.29Z" fill="#c7c7c7"/>
<line x1="187.45" y1="576.17" x2="138.11" y2="569.40" stroke="#1f77b4" stroke-width="1.57"/>
<path d="M138.22 568.58A496.4 496.4 0 0 1 139.96 557.10L189.11 565.10A446.6 446.6 0 0 0 187.55 575.43Z" fill="#c7c7c7"/>
<line x1="189.56" y1="562.37" x2="140.46" y2="554.06" stroke="#b2b2b2" stroke-width="2.05"/>
<path d="M140.79 552.17A496.4 496.4 0 0 1 142.43 543.15L191.34 552.56A446.6 446.6 0 0 0 189.85 560.67Z" fill="#c7c7c7"/>
<line x1="192.06" y1="548.86" x2="143.24" y2="539.05" stroke="#dbdb8d" stroke-width="1.59"/>
<path d="M143.41 538.23A496.4 496.4 0 0 1 144.08 534.94L192.82 545.17A446.6 446.6 0 0 0 192.21 548.13Z" fill="#c7c7c7"/>
<line x1="193.07" y1="543.99" x2="144.36" y2="533.63" stroke="#dbdb8d" stroke-width="1.59"/>
<path d="M144.54 532.81A496.4 496.4 0 0 1 146.44 524.28L194.95 535.58A446.6 446.6 0 0 0 193.23 543.25Z" fill="#c7c7c7"/>
<line x1="195.61" y1="532.77" x2="147.18" y2="521.16" stroke="#98df8a" stroke-width="1.05"/>
<path d="M147.42 520.18A496.4 496.4 0 0 1 148.63 515.26L196.92 527.46A446.6 446.6 0 0 0 195.82 531.89Z" fill="#c7c7c7"/>
<line x1="197.87" y1="523.77" x2="149.69" y2="511.15" stroke="#b2b2b2" stroke-width="1.61"/>
<path d="M150.34 508.69A496.4 496.4 0 0 1 151.01 506.23L199.05 519.34A446.6 446.6 0 0 0 198.45 521.56Z" fill="#c7c7c7"/>
<path d="M151.46 504.59A496.4 496.4 0 0 1 152.38 501.31L200.28 514.91A446.6 446.6 0 0 0 199.46 517.86Z" fill="#aec7e8"/>
<path d="M152.38 501.31A496.4 496.4 0 0 1 153.80 496.39L201.56 510.49A446.6 446.6 0 0 0 200.28 514.91Z" fill="#c7c7c7"/>
<line x1="201.94" y1="509.23" x2="154.21" y2="495.00" stroke="#1f77b4" stroke-width="1.14"/>
<path d="M154.39 494.42A496.4 496.4 0 0 1 156.30 488.18L203.81 503.10A446.6 446.6 0 0 0 202.09 508.72Z" fill="#c7c7c7"/>
<path d="M156.56 487.37A496.4 496.4 0 0 1 158.14 482.44L205.47 497.94A446.6 446.6 0 0 0 204.04 502.37Z" fill="#1f77b4"/>
<line x1="205.64" y1="497.42" x2="158.33" y2="481.87" stroke="#8c564b" stroke-width="1.15"/>
<line x1="206.00" y1="496.32" x2="158.74" y2="480.64" stroke="#17becf" stroke-width="1.31"/>
<line x1="207.67" y1="491.40" x2="160.58" y2="475.17" stroke="#17becf" stroke-width="1.65"/>
<path d="M161.15 473.53A496.4 496.4 0 0 1 163.49 466.97L210.28 484.02A446.6 446.6 0 0 0 208.18 489.92Z" fill="#c7c7c7"/>
<path d="M163.79 466.15A496.4 496.4 0 0 1 166.25 459.58L212.76 477.37A446.6 446.6 0 0 0 210.55 483.28Z" fill="#8c564b"/>
<path d="M168.16 454.66A496.4 496.4 0 0 1 170.47 448.92L216.56 467.78A446.6 446.6 0 0 0 214.48 472.95Z" fill="#c7c7c7"/>
<line x1="217.48" y1="465.56" x2="171.49" y2="446.45" stroke="#ff7f0e" stroke-width="1.69"/>
<line x1="218.40" y1="463.35" x2="172.51" y2="444.00" stroke="#ff9896" stroke-width="1.69"/>
<path d="M173.21 442.35A496.4 496.4 0 0 1 174.62 439.07L220.30 458.92A446.6 446.6 0 0 0 219.03 461.87Z" fill="#ff7f0e"/>
<line x1="220.84" y1="457.67" x2="175.23" y2="437.68" stroke="#1f77b4" stroke-width="1.20"/>
<path d="M175.70 436.61A496.4 496.4 0 0 1 177.90 431.69L223.25 452.28A446.6 446.6 0 0 0 221.27 456.71Z" fill="#ff7f0e"/>
<line x1="223.92" y1="450.80" x2="178.65" y2="430.05" stroke="#8c564b" stroke-width="1.71"/>
<path d="M179.03 429.23A496.4 496.4 0 0 1 180.55 425.95L225.63 447.11A446.6 446.6 0 0 0 224.26 450.07Z" fill="#c7c7c7"/>
<path d="M180.94 425.13A496.4 496.4 0 0 1 188.63 409.55L232.90 432.35A446.6 446.6 0 0 0 225.98 446.37Z" fill="#c7c7c7"/>
<path d="M189.30 408.23A496.4 496.4 0 0 1 192.95 401.34L236.79 424.97A446.6 446.6 0 0 0 233.51 431.17Z" fill="#c7c7c7"/>
<path d="M193.84 399.70A496.4 496.4 0 0 1 195.64 396.42L239.21 420.54A446.6 446.6 0 0 0 237.59 423.50Z" fill="#c7c7c7"/>
<path d="M197.47 393.14A496.4 496.4 0 0 1 199.34 389.85L242.54 414.64A446.6 446.6 0 0 0 240.86 417.59Z" fill="#c7c7c7"/>
<path d="M201.24 386.57A496.4 496.4 0 0 1 203.66 382.47L246.42 408.00A446.6 446.6 0 0 0 244.24 411.69Z" fill="#1f77b4"/>
<path d="M208.67 374.27A496.4 496.4 0 0 1 210.73 370.98L252.78 397.66A446.6 446.6 0 0 0 250.93 400.62Z" fill="#9467bd"/>
<path d="M211.25 370.16A496.4 496.4 0 0 1 213.89 366.07L255.63 393.24A446.6 446.6 0 0 0 253.25 396.92Z" fill="#c7c7c7"/>
<line x1="257.08" y1="391.02" x2="215.51" y2="363.60" stroke="#1f77b4" stroke-width="1.87"/>
<path d="M216.59 361.96A496.4 496.4 0 0 1 223.32 352.12L264.11 380.69A446.6 446.6 0 0 0 258.06 389.55Z" fill="#c7c7c7"/>
<path d="M228.59 344.73A496.4 496.4 0 0 1 231.00 341.45L271.02 371.09A446.6 446.6 0 0 0 268.85 374.04Z" fill="#ff7f0e"/>
<line x1="272.67" y1="368.88" x2="232.83" y2="338.99" stroke="#1f77b4" stroke-width="1.95"/>
<path d="M234.07 337.35A496.4 496.4 0 0 1 237.20 333.25L276.60 363.72A446.6 446.6 0 0 0 273.78 367.40Z" fill="#c7c7c7"/>
<line x1="277.75" y1="362.23" x2="238.48" y2="331.61" stroke="#ff7f0e" stroke-width="1.98"/>
<path d="M241.72 327.50A496.4 496.4 0 0 1 243.69 325.05L282.43 356.33A446.6 446.6 0 0 0 280.66 358.54Z" fill="#1f77b4"/>
<path d="M243.69 325.05A496.4 496.4 0 0 1 247.71 320.13L286.05 351.91A446.6 446.6 0 0 0 282.43 356.33Z" fill="#c7c7c7"/>
<path d="M248.12 319.63A496.4 496.4 0 0 1 250.46 316.84L288.53 348.95A446.6 446.6 0 0 0 286.42 351.46Z" fill="#ff7f0e"/>
<path d="M251.15 316.02A496.4 496.4 0 0 1 255.38 311.10L292.95 343.79A446.6 446.6 0 0 0 289.15 348.21Z" fill="#9467bd"/>
<path d="M255.38 311.10A496.4 496.4 0 0 1 259.72 306.18L296.86 339.35A446.6 446.6 0 0 0 292.95 343.79Z" fill="#c7c7c7"/>
<line x1="298.98" y1="336.99" x2="262.08" y2="303.55" stroke="#d62728" stroke-width="1.69"/>
<line x1="300.66" y1="335.15" x2="263.95" y2="301.50" stroke="#ff7f0e" stroke-width="1.48"/>
<path d="M264.47 300.93A496.4 496.4 0 0 1 267.21 297.98L303.60 331.98A446.6 446.6 0 0 0 301.13 334.63Z" fill="#c7c7c7"/>
<line x1="304.43" y1="331.09" x2="268.14" y2="296.99" stroke="#2ca02c" stroke-width="1.71"/>
<line x1="305.82" y1="329.61" x2="269.68" y2="295.35" stroke="#ff7f0e" stroke-width="1.72"/>
<path d="M270.31 294.69A496.4 496.4 0 0 1 275.05 289.78L310.65 324.60A446.6 446.6 0 0 0 306.38 329.02Z" fill="#c7c7c7"/>
<path d="M276.14 288.67A496.4 496.4 0 0 1 281.88 282.93L316.79 318.44A446.6 446.6 0 0 0 311.63 323.61Z" fill="#c7c7c7"/>
<line x1="317.38" y1="317.87" x2="282.53" y2="282.29" stroke="#98df8a" stroke-width="1.75"/>
<path d="M283.51 281.33A496.4 496.4 0 0 1 290.90 274.28L324.91 310.66A446.6 446.6 0 0 0 318.26 317.00Z" fill="#1f77b4"/>
<line x1="326.38" y1="309.29" x2="292.54" y2="272.76" stroke="#d62728" stroke-width="2.12"/>
<path d="M293.85 271.54A496.4 496.4 0 0 1 298.28 267.52L331.55 304.57A446.6 446.6 0 0 0 327.57 308.20Z" fill="#c7c7c7"/>
<line x1="332.73" y1="303.52" x2="299.60" y2="266.34" stroke="#1f77b4" stroke-width="2.09"/>
<path d="M301.07 265.03A496.4 496.4 0 0 1 303.21 263.16L335.98 300.65A446.6 446.6 0 0 0 334.06 302.34Z" fill="#c7c7c7"/>
<line x1="337.23" y1="299.56" x2="304.60" y2="261.94" stroke="#1f77b4" stroke-width="1.45"/>
<line x1="339.15" y1="297.90" x2="306.73" y2="260.10" stroke="#b2b2b2" stroke-width="1.05"/>
<line x1="341.29" y1="296.08" x2="309.11" y2="258.08" stroke="#b2b2b2" stroke-width="1.23"/>
<path d="M310.59 256.83A496.4 496.4 0 0 1 314.69 253.42L346.31 291.90A446.6 446.6 0 0 0 342.62 294.96Z" fill="#c7c7c7"/>
<line x1="347.05" y1="291.29" x2="315.51" y2="252.75" stroke="#c5b0d5" stroke-width="1.21"/>
<path d="M317.15 251.41A496.4 496.4 0 0 1 322.89 246.82L353.69 285.96A446.6 446.6 0 0 0 348.53 290.09Z" fill="#2ca02c"/>
<path d="M323.39 246.44A496.4 496.4 0 0 1 326.67 243.88L357.09 283.31A446.6 446.6 0 0 0 354.14 285.61Z" fill="#c7c7c7"/>
<path d="M327.00 243.63A496.4 496.4 0 0 1 329.46 241.75L359.60 281.39A446.6 446.6 0 0 0 357.39 283.08Z" fill="#1f77b4"/>
<path d="M330.28 241.12A496.4 496.4 0 0 1 333.89 238.42L363.59 278.39A446.6 446.6 0 0 0 360.34 280.83Z" fill="#bcbd22"/>
<path d="M333.89 238.42A496.4 496.4 0 0 1 351.60 225.85L379.52 267.09A446.6 446.6 0 0 0 363.59 278.39Z" fill="#c7c7c7"/>
<line x1="380.26" y1="266.58" x2="352.43" y2="225.29" stroke="#aec7e8" stroke-width="1.13"/>
<path d="M353.25 224.74A496.4 496.4 0 0 1 358.17 221.48L385.43 263.15A446.6 446.6 0 0 0 381.00 266.09Z" fill="#c7c7c7"/>
<path d="M358.99 220.94A496.4 496.4 0 0 1 361.12 219.56L388.09 261.43A446.6 446.6 0 0 0 386.17 262.67Z" fill="#1f77b4"/>
<path d="M361.45 219.35A496.4 496.4 0 0 1 364.73 217.26L391.34 259.36A446.6 446.6 0 0 0 388.38 261.24Z" fill="#c7c7c7"/>
<line x1="392.66" y1="258.52" x2="366.21" y2="216.33" stroke="#ff7f0e" stroke-width="1.47"/>
<line x1="395.03" y1="257.05" x2="368.83" y2="214.69" stroke="#b2b2b2" stroke-width="1.83"/>
<line x1="397.98" y1="255.24" x2="372.11" y2="212.68" stroke="#b2b2b2" stroke-width="1.82"/>
<line x1="400.78" y1="253.55" x2="375.23" y2="210.80" stroke="#b2b2b2" stroke-width="1.45"/>
<path d="M381.96 206.86A496.4 496.4 0 0 1 387.70 203.60L412.00 247.07A446.6 446.6 0 0 0 406.83 250.00Z" fill="#c7c7c7"/>
<line x1="423.22" y1="241.00" x2="400.17" y2="196.86" stroke="#2ca02c" stroke-width="1.41"/>
<line x1="424.92" y1="240.12" x2="402.06" y2="195.88" stroke="#1f77b4" stroke-width="1.05"/>
<line x1="426.17" y1="239.48" x2="403.45" y2="195.16" stroke="#b2b2b2" stroke-width="1.40"/>
<path d="M405.74 193.99A496.4 496.4 0 0 1 408.21 192.75L430.45 237.31A446.6 446.6 0 0 0 428.23 238.43Z" fill="#9467bd"/>
<path d="M409.03 192.34A496.4 496.4 0 0 1 413.95 189.93L435.62 234.77A446.6 446.6 0 0 0 431.19 236.94Z" fill="#c7c7c7"/>
<line x1="436.87" y1="234.17" x2="415.35" y2="189.26" stroke="#1f77b4" stroke-width="1.22"/>
<path d="M416.41 188.75A496.4 496.4 0 0 1 422.16 186.06L443.00 231.29A446.6 446.6 0 0 0 437.83 233.71Z" fill="#c7c7c7"/>
<line x1="445.36" y1="230.21" x2="424.78" y2="184.86" stroke="#2ca02c" stroke-width="2.06"/>
<path d="M426.26 184.19A496.4 496.4 0 0 1 430.36 182.37L450.38 227.97A446.6 446.6 0 0 0 446.69 229.61Z" fill="#c7c7c7"/>
<path d="M430.36 182.37A496.4 496.4 0 0 1 432.82 181.30L452.59 227.01A446.6 446.6 0 0 0 450.38 227.97Z" fill="#8a8a8a"/>
<path d="M432.82 181.30A496.4 496.4 0 0 1 442.17 177.37L461.01 223.47A446.6 446.6 0 0 0 452.59 227.01Z" fill="#c7c7c7"/>
<path d="M442.14 177.38A496.4 496.4 0 0 1 447.56 175.20L465.85 221.52A446.6 446.6 0 0 0 460.97 223.48Z" fill="#c7c7c7"/>
<line x1="460.53" y1="223.66" x2="441.64" y2="177.58" stroke="#c49c94" stroke-width="1.05"/>
<path d="M454.94 172.36A496.4 496.4 0 0 1 466.42 168.19L482.82 215.21A446.6 446.6 0 0 0 472.49 218.96Z" fill="#c7c7c7"/>
<line x1="484.45" y1="214.65" x2="468.23" y2="167.57" stroke="#1f77b4" stroke-width="1.97"/>
<line x1="486.15" y1="214.07" x2="470.12" y2="166.92" stroke="#b2b2b2" stroke-width="1.05"/>
<line x1="489.24" y1="213.03" x2="473.56" y2="165.76" stroke="#aec7e8" stroke-width="1.15"/>
<path d="M480.04 163.66A496.4 496.4 0 0 1 493.50 159.61L507.18 207.49A446.6 446.6 0 0 0 495.08 211.14Z" fill="#1f77b4"/>
<line x1="508.87" y1="207.01" x2="495.38" y2="159.07" stroke="#d62728" stroke-width="2.11"/>
<path d="M496.77 158.68A496.4 496.4 0 0 1 510.72 155.02L522.68 203.36A446.6 446.6 0 0 0 510.13 206.66Z" fill="#c7c7c7"/>
<line x1="523.71" y1="203.11" x2="511.87" y2="154.74" stroke="#c49c94" stroke-width="1.28"/>
<path d="M512.53 154.58A496.4 496.4 0 0 1 515.64 153.83L527.10 202.29A446.6 446.6 0 0 0 524.30 202.96Z" fill="#c7c7c7"/>
<line x1="528.58" y1="201.94" x2="517.28" y2="153.44" stroke="#b2b2b2" stroke-width="1.60"/>
<path d="M519.25 152.99A496.4 496.4 0 0 1 524.99 151.71L535.52 200.39A446.6 446.6 0 0 0 530.35 201.54Z" fill="#1f77b4"/>
<path d="M526.31 151.43A496.4 496.4 0 0 1 541.57 148.42L550.43 197.43A446.6 446.6 0 0 0 536.70 200.13Z" fill="#c7c7c7"/>
<path d="M542.22 148.31A496.4 496.4 0 0 1 548.94 147.15L557.07 196.28A446.6 446.6 0 0 0 551.02 197.32Z" fill="#c7c7c7"/>
<path d="M549.61 147.04A496.4 496.4 0 0 1 555.02 146.18L562.53 195.41A446.6 446.6 0 0 0 557.66 196.18Z" fill="#c7c7c7"/>
<line x1="563.71" y1="195.23" x2="556.33" y2="145.98" stroke="#1f77b4" stroke-width="1.58"/>
<path d="M557.15 145.86A496.4 496.4 0 0 1 565.68 144.67L572.12 194.05A446.6 446.6 0 0 0 564.45 195.12Z" fill="#c7c7c7"/>
<line x1="573.01" y1="193.94" x2="566.66" y2="144.54" stroke="#1f77b4" stroke-width="1.26"/>
<line x1="574.49" y1="193.75" x2="568.31" y2="144.34" stroke="#9467bd" stroke-width="1.26"/>
<path d="M568.97 144.25A496.4 496.4 0 0 1 582.09 142.81L586.89 192.38A446.6 446.6 0 0 0 575.08 193.68Z" fill="#c7c7c7"/>
<path d="M588.65 142.22A496.4 496.4 0 0 1 596.03 141.66L599.43 191.34A446.6 446.6 0 0 0 592.79 191.84Z" fill="#c7c7c7"/>
<path d="M606.70 141.04A496.4 496.4 0 0 1 609.98 140.90L611.98 190.66A446.6 446.6 0 0 0 609.03 190.79Z" fill="#dddddd"/>
<path d="M610.31 140.89A496.4 496.4 0 0 1 613.26 140.78L614.93 190.55A446.6 446.6 0 0 0 612.28 190.65Z" fill="#8c564b"/>
<path d="M613.26 140.78A496.4 496.4 0 0 1 619.01 140.62L620.10 190.41A446.6 446.6 0 0 0 614.93 190.55Z" fill="#c7c7c7"/>
<path d="M619.49 140.61A496.4 496.4 0 0 1 622.78 140.55L623.49 190.35A446.6 446.6 0 0 0 620.54 190.40Z" fill="#ff7f0e"/>
<line x1="624.16" y1="190.34" x2="623.52" y2="140.54" stroke="#b2b2b2" stroke-width="1.05"/>
<line x1="624.90" y1="190.33" x2="624.34" y2="140.53" stroke="#8c564b" stroke-width="1.05"/>
<line x1="626.52" y1="190.31" x2="626.14" y2="140.51" stroke="#d62728" stroke-width="2.02"/>
<path d="M627.21 140.51A496.4 496.4 0 0 1 630.00 140.50L629.99 190.30A446.6 446.6 0 0 0 627.48 190.31Z" fill="#c7c7c7"/>
<line x1="639.87" y1="246.03" x2="641.15" y2="195.74" stroke="#2ca02c" stroke-width="5.00"/>
<line x1="648.61" y1="246.35" x2="651.02" y2="196.11" stroke="#7a7a7a" stroke-width="1.00"/>
<line x1="656.74" y1="246.82" x2="660.19" y2="196.64" stroke="#2ca02c" stroke-width="5.00"/>
<line x1="687.60" y1="250.18" x2="695.03" y2="200.43" stroke="#3c3c3c" stroke-width="1.00"/>
<line x1="708.19" y1="253.82" x2="718.26" y2="204.54" stroke="#2ca02c" stroke-width="9.00"/>
<line x1="708.19" y1="253.82" x2="718.26" y2="204.54" stroke="#0b3d0b" stroke-width="1.60"/>
<line x1="634.19" y1="301.83" x2="634.83" y2="251.53" stroke="#000000" stroke-width="4.20"/>
<line x1="689.97" y1="307.23" x2="698.98" y2="257.74" stroke="#3c3c3c" stroke-width="1.00"/>
<line x1="718.97" y1="313.85" x2="732.33" y2="265.36" stroke="#000000" stroke-width="11.00"/>
<line x1="762.93" y1="269.23" x2="780.05" y2="221.93" stroke="#2ca02c" stroke-width="10.00"/>
<line x1="762.93" y1="269.23" x2="780.05" y2="221.93" stroke="#0b3d0b" stroke-width="1.60"/>
<line x1="783.05" y1="277.14" x2="802.75" y2="230.86" stroke="#3c3c3c" stroke-width="1.00"/>
<line x1="869.35" y1="402.47" x2="905.29" y2="367.28" stroke="#3c3c3c" stroke-width="1.40"/>
<line x1="873.81" y1="407.12" x2="910.43" y2="372.63" stroke="#3c3c3c" stroke-width="1.40"/>
<line x1="920.13" y1="374.89" x2="957.46" y2="341.18" stroke="#3c3c3c" stroke-width="1.00"/>
<line x1="931.11" y1="387.60" x2="969.86" y2="355.52" stroke="#2ca02c" stroke-width="5.00"/>
<line x1="860.65" y1="479.37" x2="902.20" y2="451.01" stroke="#3c3c3c" stroke-width="1.20"/>
<line x1="987.54" y1="478.88" x2="1033.55" y2="458.55" stroke="#2ca02c" stroke-width="6.50"/>
<line x1="988.43" y1="480.90" x2="1034.55" y2="460.83" stroke="#000000" stroke-width="2.00"/>
<line x1="994.65" y1="496.05" x2="1041.57" y2="477.94" stroke="#7a7a7a" stroke-width="1.00"/>
<line x1="956.23" y1="560.73" x2="1005.21" y2="549.30" stroke="#3c3c3c" stroke-width="1.00"/>
<line x1="964.67" y1="651.67" x2="1014.93" y2="653.89" stroke="#3c3c3c" stroke-width="1.00"/>
<line x1="963.92" y1="663.74" x2="1014.06" y2="667.77" stroke="#3c3c3c" stroke-width="1.80"/>
<line x1="960.70" y1="690.39" x2="1010.36" y2="698.42" stroke="#3c3c3c" stroke-width="1.50"/>
<line x1="959.68" y1="696.37" x2="1009.18" y2="705.30" stroke="#3c3c3c" stroke-width="1.50"/>
<line x1="958.32" y1="703.49" x2="1007.61" y2="713.49" stroke="#3c3c3c" stroke-width="1.50"/>
<line x1="1013.83" y1="710.91" x2="1063.22" y2="720.43" stroke="#7a7a7a" stroke-width="1.00"/>
<line x1="938.66" y1="767.13" x2="985.01" y2="786.67" stroke="#3c3c3c" stroke-width="1.00"/>
<line x1="881.57" y1="858.16" x2="919.35" y2="891.37" stroke="#000000" stroke-width="2.40"/>
<line x1="808.07" y1="852.12" x2="840.15" y2="890.86" stroke="#3c3c3c" stroke-width="1.00"/>
<line x1="825.41" y1="909.05" x2="854.76" y2="949.90" stroke="#3c3c3c" stroke-width="1.60"/>
<line x1="800.20" y1="925.50" x2="825.76" y2="968.82" stroke="#3c3c3c" stroke-width="1.00"/>
<line x1="295.85" y1="663.39" x2="245.71" y2="667.37" stroke="#000000" stroke-width="2.20"/>
<line x1="285.28" y1="821.61" x2="240.94" y2="845.37" stroke="#3c3c3c" stroke-width="1.00"/>
<line x1="294.17" y1="837.31" x2="250.97" y2="863.09" stroke="#2ca02c" stroke-width="9.00"/>
<line x1="295.81" y1="840.04" x2="252.84" y2="866.18" stroke="#000000" stroke-width="2.40"/>
<line x1="427.00" y1="828.98" x2="390.47" y2="863.56" stroke="#3c3c3c" stroke-width="1.00"/>
<line x1="473.31" y1="868.30" x2="445.12" y2="909.95" stroke="#3c3c3c" stroke-width="1.00"/>
<line x1="338.44" y1="897.54" x2="300.95" y2="931.07" stroke="#3c3c3c" stroke-width="1.00"/>
<line x1="431.72" y1="907.12" x2="401.97" y2="947.68" stroke="#000000" stroke-width="2.20"/>
<line x1="516.85" y1="952.36" x2="499.88" y2="999.71" stroke="#3c3c3c" stroke-width="1.20"/>
<line x1="520.50" y1="953.64" x2="504.08" y2="1001.18" stroke="#3c3c3c" stroke-width="1.20"/>
<line x1="462.79" y1="990.39" x2="441.29" y2="1035.86" stroke="#3c3c3c" stroke-width="1.00"/>
<line x1="578.72" y1="249.26" x2="572.14" y2="199.40" stroke="#3c3c3c" stroke-width="1.00"/>
<line x1="625.34" y1="301.83" x2="624.65" y2="251.54" stroke="#7a7a7a" stroke-width="1.00"/>
<line x1="487.38" y1="333.62" x2="465.98" y2="288.10" stroke="#3c3c3c" stroke-width="1.00"/>
<line x1="593.86" y1="359.83" x2="587.37" y2="309.95" stroke="#3c3c3c" stroke-width="1.60"/>
<line x1="386.80" y1="406.26" x2="350.31" y2="371.64" stroke="#2a2a2a" stroke-width="2.40"/>
<line x1="374.53" y1="419.92" x2="336.20" y2="387.36" stroke="#2a2a2a" stroke-width="1.60"/>
<line x1="366.01" y1="430.37" x2="326.40" y2="399.37" stroke="#3c3c3c" stroke-width="1.00"/>
<line x1="251.53" y1="538.34" x2="202.85" y2="525.66" stroke="#7a7a7a" stroke-width="1.00"/>
<line x1="304.12" y1="558.41" x2="255.22" y2="546.63" stroke="#3c3c3c" stroke-width="1.00"/>
</g>
<path d="M629.9 379.0L631.4 375.4L632.8 383.6L634.4 380.1L635.9 380.7L637.4 378.8L639.3 366.9L640.9 366.2L642.2 373.5L643.8 371.5L645.5 368.9L647.0 370.7L648.6 369.4L649.2 381.8L651.0 378.2L653.1 372.0L655.0 368.5L655.9 374.4L656.9 380.1L658.8 377.0L660.1 378.6L661.4 380.3L664.3 369.5L664.4 380.4L666.4 377.1L669.3 368.1L670.2 372.7L671.3 375.8L671.9 381.2L674.2 376.9L676.6 372.3L677.5 375.6L679.5 373.3L680.2 378.2L682.1 376.7L682.8 380.7L685.0 377.9L687.2 374.8L685.6 389.2L688.9 381.3L690.7 380.2L691.3 384.3L693.1 383.2L695.9 378.7L698.6 374.5L698.5 380.7L699.8 381.9L698.4 392.7L704.6 376.5L703.7 385.0L704.9 386.4L704.4 393.1L708.0 386.7L707.4 393.6L710.6 388.5L712.7 387.0L713.7 388.8L715.5 388.2L714.8 394.8L719.7 385.7L717.6 395.9L716.7 402.5L721.5 394.2L721.8 397.6L722.9 398.8L725.7 395.8L728.4 393.2L726.9 400.8L730.8 395.3L734.9 389.6L735.0 393.3L734.8 397.7L736.4 397.6L737.5 399.0L739.4 398.4L742.2 396.1L741.8 400.5L737.2 413.7L745.1 400.8L744.0 406.4L749.0 399.7L747.4 406.2L750.9 402.9L756.7 395.0L750.9 409.3L751.8 410.9L752.2 413.2L751.1 418.3L754.4 415.4L762.1 404.8L760.8 410.1L758.5 417.1L761.0 415.8L768.0 407.1L765.4 414.4L768.1 412.9L771.5 410.3L774.7 408.1L777.0 407.5L776.1 411.8L775.2 416.0L776.8 416.3L781.9 411.5L781.9 414.3L778.9 421.4L782.5 419.0L783.3 420.5L783.9 422.3L783.9 424.9L782.5 429.5L786.4 426.7L784.3 432.1L793.9 421.9L793.3 425.2L788.7 433.6L798.0 424.3L797.9 426.9L789.5 439.8L802.8 426.0L801.5 430.0L806.7 426.2L797.3 439.7L804.6 433.5L805.6 434.7L806.0 436.7L806.9 438.0L810.6 436.3L803.1 446.7L805.8 446.1L805.6 448.4L810.0 446.0L810.6 447.6L815.6 444.6L816.2 446.2L816.8 447.8L815.3 451.5L817.3 451.6L822.7 448.5L823.6 449.8L822.6 452.9L821.5 456.2L827.7 452.4L819.2 462.4L821.7 462.2L819.7 466.0L812.9 474.1L817.9 471.5L813.3 477.4L826.2 468.2L827.7 469.0L822.9 475.0L834.8 467.0L829.4 473.4L838.7 467.8L832.0 475.2L835.6 474.2L838.5 473.9L835.6 478.1L840.0 476.6L837.3 480.6L843.3 478.0L841.4 481.3L843.0 482.1L830.2 493.1L848.3 482.1L845.3 486.1L837.6 493.2L846.9 488.7L848.9 489.2L852.6 488.6L844.6 495.7L856.3 489.9L851.7 494.7L862.3 489.8L854.3 496.7L857.6 496.5L853.8 500.6L849.4 505.0L857.0 502.2L853.3 506.2L851.7 508.9L847.5 512.9L842.4 517.5L839.7 520.6L848.9 517.2L852.4 516.9L856.4 516.5L865.1 513.6L866.5 514.6L864.3 517.5L867.7 517.5L866.5 519.8L868.7 520.4L872.0 520.6L873.1 521.8L866.6 526.5L863.1 529.8L877.3 525.0L871.8 529.2L876.3 528.9L863.7 536.0L870.4 534.8L873.4 535.2L865.8 540.0L872.1 539.1L877.9 538.4L880.0 539.2L883.1 539.7L872.8 545.3L870.8 547.6L881.5 545.3L883.8 546.1L881.8 548.5L874.5 552.7L886.6 550.2L886.6 551.9L885.0 554.0L879.8 557.3L884.0 557.6L886.7 558.4L881.3 561.6L873.8 565.4L885.6 563.6L887.3 564.7L885.3 566.9L889.3 567.4L882.8 570.7L887.2 571.2L886.3 573.0L891.4 573.3L895.9 573.9L888.4 577.2L897.8 576.7L895.1 578.9L892.0 581.2L891.5 582.9L895.7 583.6L887.1 586.9L887.8 588.3L882.7 590.8L890.6 590.9L894.5 591.8L892.0 593.8L891.3 595.5L888.9 597.4L892.2 598.5L883.4 601.3L896.6 601.0L889.5 603.5L885.8 605.5L887.7 606.8L887.3 608.3L896.0 608.9L897.2 610.4L884.4 613.1L896.8 613.5L896.5 615.1L888.4 617.3L881.9 619.3L886.5 620.5L887.2 621.9L893.0 623.1L889.6 624.8L880.1 626.7L892.3 627.7L882.6 629.5L895.2 630.7L884.4 632.5L886.7 633.9L886.0 635.4L887.6 636.9L894.9 638.4L893.3 640.0L891.9 641.5L889.5 642.9L878.6 644.1L885.3 645.8L885.1 647.3L882.3 648.7L891.1 650.6L884.9 651.8L884.8 653.2L882.9 654.6L877.0 655.6L891.5 658.3L893.6 660.0L889.4 661.1L883.8 662.1L873.4 662.5L889.6 665.7L894.7 667.9L890.4 668.9L893.3 670.8L896.8 672.8L894.9 674.1L888.0 674.7L895.4 677.4L894.8 678.9L882.3 678.4L889.3 681.1L883.4 681.6L890.6 684.4L893.6 686.6L885.7 686.6L879.9 687.0L896.9 692.0L892.6 692.7L896.3 695.1L882.2 693.6L893.8 697.8L897.1 700.2L895.7 701.5L886.6 700.9L888.8 703.1L887.4 704.3L890.7 706.8L890.2 708.3L886.2 708.8L878.4 708.2L888.3 712.6L882.7 712.6L887.5 715.7L884.0 716.2L889.7 719.7L887.2 720.5L878.7 719.3L882.6 722.3L888.2 725.8L876.8 723.5L881.1 726.7L883.7 729.3L883.4 730.8L879.5 731.1L869.2 728.8L869.8 730.6L878.0 735.5L877.7 737.0L884.7 741.6L870.0 737.2L879.2 742.7L878.1 744.0L864.7 739.8L868.1 742.9L872.4 746.6L868.6 746.5L869.3 748.6L871.1 751.1L863.9 749.4L869.0 753.5L863.1 752.3L862.9 753.9L867.9 758.2L862.0 756.9L865.4 760.4L869.7 764.4L862.9 762.5L860.7 763.1L863.7 766.5L858.3 765.3L863.3 769.9L851.8 765.0L860.2 771.6L854.8 770.3L851.9 770.3L861.2 777.7L849.7 772.5L860.1 780.7L855.1 779.5L856.9 782.5L845.4 776.9L853.6 784.0L853.6 785.9L846.4 782.9L846.2 784.6L854.4 792.1L845.9 788.1L841.8 787.1L839.4 787.2L842.8 791.6L841.8 792.8L840.2 793.4L843.8 798.1L835.3 793.6L837.8 797.4L840.0 801.1L829.6 794.8L837.4 803.0L839.4 806.6L826.2 797.7L826.6 800.0L826.4 801.8L822.0 800.0L831.1 809.8L820.0 802.2L829.3 812.3L831.3 816.2L818.2 806.4L823.1 812.9L815.3 807.7L825.2 819.0L818.7 815.1L820.9 819.2L821.5 821.9L822.1 824.7L817.7 822.5L819.1 826.1L816.3 825.4L818.3 829.7L811.8 825.2L815.8 831.7L806.6 824.2L811.6 831.8L817.9 840.9L811.7 836.5L805.4 831.8L809.6 838.9L803.9 834.8L800.2 832.9L802.6 837.9L805.9 844.2L803.4 843.7L800.7 842.9L796.4 840.1L794.5 840.2L800.8 850.4L796.4 847.4L790.6 842.6L784.6 837.3L785.8 841.3L796.0 857.3L783.9 843.8L786.2 849.5L785.8 851.4L783.1 850.4L781.3 850.5L776.5 846.2L776.4 848.7L782.3 860.1L774.5 851.3L777.6 858.6L768.9 848.2L772.4 856.3L772.0 858.5L772.3 861.8L765.2 853.5L768.3 861.3L766.1 860.6L761.4 855.8L763.3 861.8L758.0 855.9L756.9 856.9L758.2 862.1L749.2 849.2L755.6 863.8L752.3 860.7L749.9 859.4L751.4 865.4L752.4 870.5L747.5 864.4L748.5 869.7L740.8 857.8L738.7 856.6L744.1 871.0L740.6 867.3L740.8 871.2L736.3 865.1L739.1 874.7L737.1 873.9L736.8 876.9L734.1 874.7L734.7 879.8L730.1 873.0L728.0 871.8L725.3 869.1L729.3 882.9L724.3 874.5L722.3 873.4L721.2 874.7L720.8 878.0L717.7 873.9L718.4 879.9L716.0 877.8L714.6 878.4L712.2 876.0L712.6 881.8L710.5 880.2L710.2 883.9L708.9 885.0L707.7 886.1L702.0 872.6L703.5 882.8L701.6 881.7L702.5 890.1L697.6 878.3L697.5 883.5L696.7 886.1L695.1 886.0L695.2 892.3L692.1 886.2L692.1 892.9L687.7 880.8L685.8 879.0L688.1 896.0L685.9 893.0L684.8 895.0L683.0 894.2L681.9 896.4L678.6 887.2L679.1 898.2L676.3 891.5L676.2 899.7L674.2 897.2L670.8 885.6L670.0 890.2L670.4 902.8L668.1 897.9L666.5 897.1L665.4 900.7L663.4 897.5L661.8 896.3L660.7 900.5L659.2 900.8L658.3 907.2L656.2 902.2L655.4 910.2L653.8 910.4L652.2 910.7L650.5 908.3L648.6 904.1L647.0 904.2L645.4 903.2L643.6 899.2L642.3 903.1L640.6 899.9L639.5 911.3L637.7 906.3L636.1 902.4L634.4 893.7L633.0 905.3L631.4 902.7L629.9 898.1L628.4 897.5L627.0 890.0L625.2 905.9L623.7 903.2L621.8 914.2L620.6 902.9L619.1 902.3L617.2 909.6L615.9 903.7L614.3 904.7L612.9 902.0L611.5 899.5L609.2 910.2L607.8 908.0L605.9 910.7L605.2 901.0L603.5 903.4L602.6 897.1L600.0 906.7L599.8 894.4L597.0 904.7L595.3 905.5L593.8 905.4L593.7 894.2L590.8 903.8L590.6 894.9L589.2 893.8L588.2 890.4L584.7 902.2L582.8 904.1L583.2 893.3L581.9 891.7L580.0 893.5L576.0 905.7L575.7 899.4L575.9 891.1L576.0 883.6L573.1 889.5L569.6 898.0L567.5 900.3L568.1 890.9L567.5 887.1L565.9 887.5L566.7 878.5L561.3 892.9L562.5 882.6L557.9 893.6L560.6 878.6L558.4 881.0L554.4 889.2L554.4 883.8L550.2 892.4L550.0 887.7L550.7 880.5L546.3 889.3L544.4 889.9L547.8 875.3L540.0 893.2L540.3 887.6L538.3 888.6L541.7 874.9L538.2 880.0L536.2 881.1L532.3 886.8L535.8 873.8L533.3 876.1L534.3 869.5L529.2 878.1L526.7 880.1L529.7 869.2L525.6 874.9L521.7 879.9L518.3 883.6L518.7 879.1L519.3 874.2L520.1 868.8L518.3 869.1L516.6 869.1L513.0 873.1L512.2 871.3L507.9 876.4L508.5 871.8L510.7 864.3L503.3 875.0L503.2 871.9L503.3 868.4L504.2 863.7L506.1 857.2L502.5 860.6L496.3 868.2L499.0 860.6L499.5 856.9L493.4 864.1L491.6 864.1L489.6 864.3L488.2 863.7L485.1 865.7L489.7 855.6L483.5 862.3L488.1 852.5L482.1 858.8L481.7 856.7L480.1 856.3L477.3 857.6L478.8 852.7L474.9 855.6L474.1 854.0L474.5 850.8L475.3 847.1L474.8 845.2L472.7 845.5L470.3 846.1L468.6 845.8L459.5 855.0L464.5 846.0L463.3 845.1L467.8 837.0L465.9 837.1L463.2 838.0L460.6 838.7L463.5 832.8L454.4 841.1L460.0 832.3L453.3 837.7L464.6 822.6L454.2 832.0L452.2 832.0L451.0 831.0L448.4 831.5L447.9 829.8L447.7 827.7L454.8 818.2L448.4 822.7L453.4 815.4L440.4 826.4L440.3 824.3L441.4 821.1L443.5 816.9L441.5 816.7L433.1 822.6L432.1 821.3L436.8 814.9L432.2 817.0L442.4 805.7L442.6 803.6L434.9 808.4L435.5 805.9L433.3 805.8L428.9 807.5L418.6 814.2L430.7 802.1L426.9 803.3L425.1 802.7L425.0 800.9L420.7 802.3L417.2 803.1L428.6 792.3L421.1 796.2L421.7 793.8L418.3 794.4L425.3 787.4L426.0 785.1L428.3 781.6L414.1 789.9L414.1 788.0L414.0 786.2L425.3 776.6L414.4 782.2L415.0 780.0L417.4 776.6L412.9 777.8L404.3 781.5L404.0 779.9L405.0 777.4L401.9 777.5L405.8 773.3L402.0 773.8L401.2 772.5L399.8 771.5L400.7 769.2L400.2 767.8L399.1 766.6L400.6 764.0L388.2 769.1L393.9 764.1L393.5 762.6L386.2 764.7L389.5 761.1L401.9 753.1L391.1 756.8L389.6 755.8L385.0 756.3L386.3 754.0L387.8 751.5L396.1 745.9L392.9 745.7L386.7 746.9L385.9 745.6L392.5 740.9L389.1 740.8L389.0 739.2L385.7 738.9L384.2 737.8L387.2 735.0L392.0 731.4L379.1 734.9L376.7 734.1L381.7 730.5L376.9 730.7L379.1 728.2L377.7 727.0L378.6 725.1L384.4 721.4L377.1 722.3L374.7 721.5L382.8 717.2L369.3 719.9L368.5 718.5L369.9 716.4L368.9 715.0L373.2 712.1L377.6 709.3L379.0 707.3L379.8 705.5L373.9 705.5L374.2 703.8L370.2 703.2L384.3 698.1L362.9 701.8L361.8 700.4L371.6 696.5L368.4 695.7L368.3 694.1L369.4 692.3L371.1 690.3L369.8 689.0L373.9 686.7L368.2 686.2L368.0 684.6L367.0 683.3L373.0 680.7L367.2 680.1L367.1 678.5L364.4 677.4L373.8 674.4L365.1 674.1L363.1 672.8L364.0 671.1L368.5 669.0L369.5 667.3L368.0 666.0L363.2 664.9L359.7 663.7L367.4 661.4L369.4 659.7L364.1 658.6L365.2 657.0L371.0 655.0L370.2 653.5L366.5 652.2L362.1 650.9L371.2 648.9L370.9 647.5L363.0 646.2L373.2 644.4L364.7 643.1L363.2 641.6L365.6 640.0L371.0 638.4L365.4 636.9L366.9 635.4L363.8 633.8L370.8 632.4L360.7 630.6L376.4 629.5L366.9 627.7L365.8 626.1L361.5 624.4L369.4 623.2L364.2 621.4L370.1 620.3L363.6 618.3L360.0 616.4L370.4 615.7L366.0 613.8L373.2 612.9L363.6 610.5L363.1 608.9L367.9 607.8L376.8 607.3L368.6 604.8L365.3 602.8L365.7 601.3L367.0 600.0L382.4 600.6L375.8 598.2L366.0 595.1L379.7 595.8L368.0 592.3L365.0 590.2L370.2 589.6L368.4 587.6L375.2 587.4L379.8 586.8L373.3 583.9L373.5 582.4L373.2 580.8L369.8 578.4L373.7 577.7L372.0 575.8L371.7 574.1L373.6 573.0L365.8 569.4L372.0 569.4L374.4 568.4L377.3 567.6L380.2 566.9L371.3 562.8L375.3 562.3L383.1 563.0L380.1 560.5L378.2 558.3L380.1 557.3L373.3 553.5L385.1 555.8L376.7 551.4L377.9 550.1L385.9 551.3L380.2 547.6L380.8 546.3L378.9 543.9L383.9 544.1L381.3 541.5L392.4 544.1L390.1 541.6L381.8 536.7L381.5 534.8L386.1 535.1L390.3 535.2L382.9 530.4L398.7 535.6L393.0 531.4L386.7 526.9L387.7 525.7L395.2 527.5L400.4 528.3L385.0 519.2L391.1 520.4L397.1 521.7L392.2 517.5L390.5 514.9L409.0 522.7L391.5 511.9L393.5 511.2L408.4 517.5L394.6 508.3L407.5 513.6L395.0 504.9L398.2 504.9L392.9 500.1L404.8 505.2L402.2 501.9L399.3 498.4L406.8 501.1L407.6 499.8L407.4 497.9L407.1 495.9L412.6 497.6L406.3 491.7L407.6 490.7L409.6 490.2L404.8 485.0L412.7 488.6L408.8 484.0L416.9 487.7L412.6 482.8L425.0 489.9L415.8 481.4L419.6 482.3L421.3 481.6L422.5 480.6L421.5 478.0L424.5 478.3L432.3 482.5L426.3 475.9L426.7 474.3L427.2 472.8L430.6 473.6L427.0 468.7L425.1 465.0L429.7 467.0L431.8 466.7L426.8 460.4L429.5 460.7L430.1 459.1L429.8 456.7L436.4 460.6L436.7 458.8L433.3 453.5L440.6 458.3L440.0 455.6L439.4 452.9L439.7 451.1L443.1 452.3L441.0 448.0L445.8 450.6L444.6 447.2L445.0 445.4L449.1 447.5L452.3 448.7L463.3 458.3L466.5 459.6L464.8 455.7L460.8 449.1L457.1 442.7L465.2 449.7L459.2 440.6L463.8 443.5L463.9 441.4L463.2 438.3L461.4 433.7L463.3 433.6L461.5 429.0L470.0 437.0L465.2 428.6L466.2 427.3L470.0 429.8L470.6 428.0L474.8 431.0L477.9 432.8L476.8 428.7L478.8 428.9L470.4 414.7L479.8 425.2L475.5 416.4L480.4 420.7L481.4 419.5L481.7 417.1L487.4 422.9L483.9 414.9L486.6 416.2L493.5 424.2L488.4 413.4L489.9 412.9L491.2 412.1L490.1 407.2L495.9 413.9L494.6 408.7L495.7 407.6L501.4 414.4L498.1 405.6L506.1 416.5L506.3 413.9L503.3 405.3L508.8 412.2L506.9 405.7L512.5 413.0L509.1 403.1L514.0 409.3L511.5 401.1L517.6 410.0L514.2 399.7L517.4 402.7L518.0 400.5L519.8 400.8L521.1 400.0L526.6 408.4L532.1 417.3L528.2 404.8L532.5 411.2L533.2 409.1L533.0 404.8L538.9 415.3L536.4 405.5L536.5 401.8L537.9 401.3L536.0 392.4L538.0 393.2L541.5 398.3L543.8 400.4L543.4 394.8L548.9 406.0L548.7 401.1L550.5 401.8L555.3 411.9L553.7 402.4L551.9 392.1L551.9 387.0L552.5 383.7L553.4 381.5L554.3 379.1L557.6 384.9L559.0 384.0L559.2 379.0L562.3 384.6L561.9 377.0L566.8 389.8L565.6 378.8L568.3 383.5L573.0 396.8L571.6 384.5L574.8 391.5L577.5 397.2L580.9 406.5L581.9 404.3L581.4 395.0L584.4 402.7L587.7 412.8L585.5 393.5L586.7 392.1L586.7 383.3L588.2 383.1L590.0 384.9L591.3 383.9L591.5 374.7L594.9 387.8L594.0 370.3L597.0 380.9L598.9 384.7L599.4 375.6L601.0 376.2L603.4 384.3L604.0 375.6L606.9 390.4L608.1 387.5L609.0 380.8L611.2 390.8L613.4 401.6L614.3 394.0L615.7 392.6L617.2 394.1L618.9 400.1L619.7 386.8L620.9 378.7L622.2 373.9L623.6 367.1L625.3 375.7L626.9 378.6L628.4 377.9L629.9 379.0" fill="none" stroke="#555" stroke-width="0.95" stroke-linejoin="round"/>
<path d="M629.9 511.0L630.7 523.2L631.6 516.1L632.6 508.9L633.4 513.4L634.3 511.6L634.8 518.9L636.3 505.5L637.5 500.5L637.8 512.1L638.4 514.9L639.2 516.2L641.0 504.5L641.4 510.2L641.8 515.7L644.0 503.1L644.6 506.2L645.3 507.7L644.3 522.7L646.4 513.3L647.9 508.8L647.3 519.3L649.9 507.8L651.1 505.7L651.8 507.6L650.8 518.3L651.6 518.5L654.2 509.7L655.1 509.5L656.2 508.6L657.1 509.1L656.6 515.7L656.9 518.3L655.8 526.6L660.3 511.3L663.1 503.7L660.3 518.5L661.1 518.8L663.9 511.7L664.4 513.5L662.3 524.0L664.2 520.3L663.8 524.7L670.4 506.2L666.1 522.8L670.1 513.2L673.0 507.3L673.9 507.7L673.8 510.9L675.2 509.8L670.1 526.4L673.1 520.7L673.1 523.2L675.0 520.7L680.8 508.3L673.2 529.7L679.0 517.8L675.9 527.4L682.5 514.1L683.5 514.2L679.8 524.8L687.1 510.9L682.7 522.7L686.5 516.6L684.6 522.8L683.0 528.0L684.0 527.9L685.5 526.9L688.2 523.5L687.9 525.9L694.6 515.2L688.7 528.2L688.7 529.9L688.7 531.7L689.4 532.2L688.7 535.1L690.9 533.0L697.3 523.8L695.8 528.1L695.5 530.3L697.9 528.1L700.8 525.1L699.6 528.7L701.3 527.7L698.1 534.3L699.6 533.6L698.3 537.1L701.4 534.0L699.5 538.2L701.2 537.4L702.6 536.9L703.1 537.6L703.6 538.4L703.7 539.6L710.7 532.0L704.5 541.4L702.8 544.9L708.1 539.7L703.7 546.4L704.1 547.2L708.9 542.7L702.7 551.4L701.0 554.5L711.6 543.5L714.9 541.2L704.2 554.4L708.4 551.0L714.6 545.4L703.5 558.5L709.0 553.8L709.6 554.4L715.0 550.0L707.7 558.6L720.0 547.4L715.7 552.9L719.4 550.5L717.4 553.6L709.9 561.8L719.7 553.8L715.8 558.5L722.7 553.4L718.2 558.5L720.6 557.5L722.2 557.2L727.9 553.5L728.5 554.1L720.1 562.3L724.2 560.0L731.3 555.4L726.4 560.4L721.0 565.8L723.8 564.6L723.3 566.0L730.4 561.7L726.3 565.8L727.7 565.9L736.8 560.3L719.8 573.5L723.1 572.2L720.0 575.2L721.2 575.3L733.5 568.1L731.5 570.4L739.4 566.3L721.2 579.0L726.8 576.3L738.7 570.0L737.0 572.0L736.6 573.3L737.4 573.8L733.8 576.9L733.7 577.9L733.8 578.8L738.3 577.3L732.8 581.2L735.1 581.0L741.8 578.4L728.2 586.4L731.9 585.4L739.7 582.4L734.8 585.7L735.5 586.3L747.5 581.6L739.6 586.2L734.1 589.6L742.8 586.6L748.9 584.9L730.5 593.8L734.4 593.0L738.2 592.3L733.3 595.1L748.2 590.1L739.7 594.3L736.1 596.5L741.0 595.6L734.3 598.9L735.0 599.5L739.7 598.7L751.9 595.4L727.1 604.6L741.8 600.5L748.8 599.2L746.2 600.9L752.7 599.8L743.6 603.4L742.5 604.6L740.7 606.0L736.2 608.0L751.7 604.7L736.5 609.5L742.6 608.8L740.7 610.1L738.5 611.4L730.0 614.2L740.9 612.5L744.3 612.6L744.0 613.5L748.1 613.5L742.4 615.4L739.3 616.8L744.4 616.7L746.0 617.3L736.8 619.6L733.2 620.9L736.8 621.1L749.8 620.0L749.3 621.0L737.7 623.3L744.9 623.2L749.7 623.5L753.2 623.9L741.5 626.0L744.7 626.4L754.3 626.5L758.0 627.0L754.0 628.2L737.1 630.2L746.7 630.4L742.9 631.4L744.4 632.1L741.5 633.0L742.4 633.8L744.2 634.5L754.3 635.2L746.1 636.1L745.4 636.9L743.0 637.7L738.3 638.4L741.9 639.2L751.1 640.3L748.7 641.0L754.7 642.1L743.6 642.5L742.3 643.2L733.9 643.4L747.6 645.1L734.9 645.0L754.1 647.3L741.6 647.1L745.3 648.2L736.9 648.2L741.4 649.4L738.5 649.8L750.8 652.2L746.6 652.5L737.5 652.0L732.4 652.0L743.4 654.5L740.7 654.8L737.0 655.0L746.6 657.5L742.1 657.5L744.0 658.7L740.0 658.7L739.9 659.5L739.2 660.1L731.6 659.3L744.9 663.0L742.4 663.3L729.7 661.0L739.7 664.3L745.7 666.6L740.1 666.0L746.5 668.6L737.7 667.0L739.3 668.3L731.8 666.9L734.3 668.4L728.9 667.5L734.9 670.2L740.8 672.9L741.9 674.1L745.1 676.1L738.3 674.6L731.7 673.1L739.6 676.8L736.1 676.4L747.6 681.6L748.1 682.8L742.2 681.4L730.8 677.7L733.8 679.7L737.4 682.1L732.2 680.8L739.8 684.9L740.5 686.1L740.3 687.0L737.3 686.5L730.2 684.1L730.2 685.0L733.3 687.3L740.3 691.7L741.2 693.1L737.9 692.4L734.1 691.4L735.3 692.9L736.1 694.3L739.9 697.3L736.6 696.5L723.2 689.9L735.8 698.1L732.4 697.0L728.6 695.7L734.3 700.1L732.8 700.2L731.5 700.4L722.9 695.9L730.1 701.5L730.6 702.8L727.2 701.6L719.9 697.6L729.8 705.3L730.9 707.1L727.1 705.5L727.4 706.7L723.2 704.7L721.5 704.4L726.7 709.3L722.8 707.4L724.5 709.8L733.6 717.9L726.4 713.4L722.7 711.5L714.6 706.0L721.9 713.0L724.8 716.5L717.9 711.8L719.1 713.9L710.0 707.0L721.6 718.3L717.1 715.4L722.1 721.1L723.9 723.9L717.4 719.0L721.1 723.7L717.3 721.3L715.0 720.2L714.6 721.0L710.9 718.5L719.1 728.0L717.6 727.7L709.0 720.0L716.2 728.8L709.2 722.6L705.2 719.3L715.4 731.9L704.9 721.4L713.7 732.6L708.8 728.3L711.8 733.1L709.4 731.6L710.1 733.9L706.3 730.6L706.3 731.9L704.5 731.0L707.0 735.6L701.1 729.3L705.3 736.3L706.4 739.1L700.7 733.0L701.3 735.2L697.3 731.1L698.2 733.7L699.3 736.7L697.1 735.0L694.9 733.3L696.6 737.3L696.5 738.6L696.5 740.2L697.2 742.9L688.3 730.4L698.0 747.5L692.2 739.8L689.4 736.7L689.7 738.8L691.3 743.2L691.8 745.8L687.8 740.4L688.6 743.6L682.6 734.4L687.0 744.3L685.5 743.2L684.0 742.1L687.0 750.0L688.8 755.6L686.1 752.0L680.0 741.5L684.3 752.4L678.2 741.4L677.6 742.1L675.3 738.9L676.2 742.9L674.9 741.9L672.5 738.4L670.6 735.6L669.2 734.2L667.8 732.6L670.1 740.5L666.2 732.3L666.4 734.9L665.5 734.8L663.6 731.6L663.8 734.1L660.8 727.7L663.5 738.0L662.7 737.9L660.9 734.6L663.7 746.1L659.2 733.9L661.0 742.6L660.0 742.0L657.7 736.6L657.7 739.2L658.9 746.7L656.9 741.9L656.5 743.8L657.4 750.4L654.7 742.7L651.3 731.2L651.4 734.5L652.7 744.0L650.8 738.9L649.0 733.4L647.1 727.0L648.8 739.6L649.2 746.6L645.7 730.2L644.1 724.5L645.9 740.1L644.2 733.5L643.8 735.6L643.0 735.1L641.9 731.5L642.1 739.6L641.8 742.9L640.7 740.1L639.4 734.2L639.6 743.5L638.3 737.3L638.0 741.6L636.7 733.6L636.6 743.8L635.8 743.0L635.2 746.2L634.2 738.5L633.6 741.9L632.7 736.8L632.2 744.8L631.4 744.6L630.7 746.2L629.9 737.7L629.2 732.0L628.5 738.1L627.8 738.5L627.2 735.2L626.2 743.1L625.4 743.2L624.9 739.7L623.8 745.3L623.4 740.8L623.2 732.5L622.4 734.5L621.5 736.6L620.3 742.8L619.4 744.2L619.0 740.3L617.7 745.2L618.2 735.0L617.1 738.1L615.2 746.7L615.4 740.2L614.1 743.7L616.1 726.1L615.2 727.9L613.7 732.6L611.1 743.4L609.6 747.3L611.2 734.7L611.1 732.0L610.2 732.8L609.4 733.4L606.6 742.8L607.0 737.6L603.3 750.2L604.5 741.8L605.7 733.8L603.8 738.5L603.9 735.1L601.8 740.3L600.7 741.3L602.0 734.3L598.9 742.1L599.0 739.4L599.3 735.7L598.1 737.3L596.3 740.4L597.0 735.7L596.9 733.8L592.6 744.1L594.3 736.8L594.9 733.0L592.4 737.8L595.9 726.3L591.8 735.1L594.0 727.5L591.2 732.6L594.0 724.1L591.3 728.6L586.9 737.3L588.8 731.0L590.7 725.0L582.7 741.0L587.4 728.9L581.3 740.2L585.9 728.7L587.8 723.2L578.3 740.8L583.3 729.1L579.0 735.9L577.4 737.3L583.4 724.3L578.4 732.1L579.6 728.3L575.5 734.2L576.8 730.4L579.8 723.6L575.3 730.0L572.9 732.4L575.8 726.3L572.5 730.2L574.8 725.1L572.4 727.5L570.6 729.0L570.4 727.9L566.2 732.8L566.6 730.7L566.4 729.6L565.8 729.1L566.8 726.3L570.8 719.4L563.2 728.7L560.6 730.9L565.2 723.3L566.8 720.0L566.0 719.9L561.3 724.7L563.5 720.7L567.5 714.5L564.2 717.4L565.8 714.4L562.6 717.1L564.3 714.0L563.1 714.3L554.1 723.4L554.6 721.7L564.1 710.0L561.1 712.3L558.1 714.4L557.4 714.1L560.3 710.0L550.2 719.4L560.4 707.9L550.5 716.9L550.1 716.1L553.5 711.7L555.5 708.8L552.0 711.1L551.1 710.9L561.5 700.3L556.6 703.8L549.2 709.6L552.0 706.1L552.5 704.6L555.1 701.5L553.9 701.6L553.6 700.9L538.6 712.4L554.0 698.8L540.8 708.5L545.2 704.0L546.5 702.1L546.3 701.3L548.3 698.8L538.7 705.1L543.3 700.7L545.0 698.6L545.6 697.3L542.7 698.4L548.6 693.4L544.2 695.6L545.0 694.2L538.1 697.9L536.8 697.8L548.5 689.3L540.2 693.8L533.8 697.0L544.6 689.4L543.4 689.3L533.5 694.4L539.3 690.1L540.8 688.3L544.0 685.7L537.5 688.5L541.5 685.5L536.1 687.6L533.3 688.3L531.7 688.2L536.8 684.7L537.3 683.7L533.6 684.7L532.9 684.2L530.9 684.3L534.5 681.8L532.5 681.9L534.1 680.4L534.4 679.4L530.6 680.3L525.0 681.9L534.2 677.1L528.2 678.8L528.7 677.8L530.1 676.4L526.2 677.1L532.5 673.9L526.8 675.3L527.7 674.1L542.0 668.2L527.5 672.6L525.8 672.3L517.8 674.2L534.3 668.0L528.3 669.1L526.5 668.9L533.9 665.9L521.9 668.7L525.8 666.7L534.0 663.7L536.4 662.3L531.5 662.9L515.6 666.2L517.0 665.1L542.0 658.2L538.9 658.3L523.8 661.0L527.7 659.4L530.0 658.1L521.8 659.1L523.8 657.9L522.5 657.4L523.2 656.5L531.2 654.3L516.0 656.2L525.9 653.7L516.6 654.4L519.1 653.3L523.0 651.9L522.3 651.3L523.5 650.3L534.0 648.3L524.9 648.7L520.0 648.5L532.0 646.5L530.6 645.9L515.4 646.5L516.9 645.6L531.5 643.8L520.6 643.8L522.7 642.9L517.1 642.4L523.5 641.4L523.1 640.6L526.3 639.8L520.7 639.2L523.2 638.4L525.7 637.6L523.1 636.9L525.8 636.2L517.0 635.3L527.3 634.8L530.1 634.1L526.8 633.3L514.8 632.1L524.0 631.7L516.7 630.6L515.4 629.7L523.0 629.4L517.1 628.2L517.9 627.5L521.7 627.1L525.8 626.7L521.0 625.5L528.3 625.5L522.3 624.1L523.9 623.5L518.1 622.0L520.0 621.5L526.2 621.6L516.2 619.3L514.9 618.3L521.0 618.5L526.3 618.6L520.7 616.9L537.2 619.2L527.3 616.6L521.2 614.6L513.2 612.1L529.6 614.9L516.0 611.0L512.4 609.4L514.0 608.9L537.2 613.8L518.3 608.2L523.2 608.7L518.3 606.6L524.7 607.5L528.2 607.7L526.2 606.4L516.0 602.5L520.2 603.0L526.5 604.1L523.5 602.3L522.2 601.1L523.9 600.8L527.4 601.2L531.9 602.0L533.0 601.6L531.0 600.1L531.5 599.5L537.6 601.1L536.7 600.0L525.7 594.8L536.3 598.3L537.9 598.2L530.6 594.3L522.8 590.1L524.2 589.8L534.0 593.4L537.3 594.1L535.6 592.5L537.6 592.7L536.3 591.3L530.6 587.6L540.9 591.9L539.1 590.2L537.1 588.4L535.9 586.9L539.0 587.8L539.7 587.3L540.8 587.1L538.5 585.0L531.9 580.3L535.9 581.7L545.9 586.8L530.5 576.7L534.4 578.2L538.7 579.9L535.9 577.2L547.3 583.7L545.0 581.4L532.2 572.0L528.2 568.3L528.4 567.4L543.3 576.7L540.3 573.7L536.6 570.1L546.7 576.5L533.4 565.7L545.7 573.9L540.0 568.7L546.9 572.9L539.8 566.5L542.3 567.4L537.3 562.4L548.2 570.3L543.8 565.7L536.6 558.6L549.9 568.8L542.9 561.8L543.3 561.1L549.1 565.2L549.2 564.2L543.0 557.6L544.6 557.9L547.2 559.2L548.9 559.8L555.0 564.6L550.6 559.2L545.0 552.6L549.0 555.5L559.7 565.3L561.4 566.0L556.0 559.3L553.1 555.2L556.3 557.4L556.6 556.7L555.2 554.0L553.3 550.7L556.5 553.0L553.0 547.9L563.9 559.4L556.9 549.9L558.7 550.9L566.3 558.9L556.1 545.1L568.0 558.8L568.6 558.5L556.2 541.2L560.6 545.5L564.1 548.9L560.6 542.8L561.7 543.0L569.9 553.1L564.8 544.7L562.3 539.6L568.9 547.8L568.3 545.6L570.1 546.9L566.2 539.6L571.2 545.8L572.6 546.5L575.5 549.8L575.2 548.0L572.8 542.6L572.6 540.7L576.3 545.5L578.5 547.9L575.4 541.0L576.1 540.6L574.1 535.4L579.7 544.1L580.1 543.2L578.4 538.5L576.7 533.4L581.4 540.9L582.0 540.3L584.8 544.5L583.9 541.0L580.9 532.7L581.8 532.9L582.2 531.7L589.7 546.6L584.4 532.8L588.9 541.2L585.8 532.0L593.0 547.5L589.7 537.4L592.0 541.1L588.0 528.8L591.6 536.0L589.7 528.8L593.8 537.7L589.7 524.0L595.3 537.5L591.8 524.9L597.3 539.0L598.6 540.5L595.5 528.3L598.6 535.8L598.9 534.3L601.8 541.4L601.0 536.1L601.1 533.8L603.0 538.0L602.0 531.2L606.4 545.3L602.6 527.5L605.5 536.1L603.7 525.0L606.8 535.4L607.9 536.9L608.4 535.7L608.1 530.5L608.4 528.4L610.5 535.1L611.6 537.3L611.1 530.2L611.4 527.5L614.7 543.1L614.7 538.7L615.2 537.1L614.0 523.4L615.1 525.6L616.2 528.3L617.1 529.6L619.0 539.8L618.2 525.6L619.9 534.9L620.8 536.8L620.1 520.2L622.5 541.0L622.0 523.5L623.1 529.5L624.3 536.8L624.7 531.3L625.8 538.0L626.2 531.8L627.1 537.0L627.9 540.1L628.3 520.1L629.2 537.3" fill="none" stroke="#000" stroke-width="1.05" stroke-linejoin="round"/>
</svg>
<div class="lg">
<svg width="1272" height="500" viewBox="0 1290 1272 500" style="position:absolute;left:0;top:1290px">
<rect x="13" y="1321" width="515" height="1.2" fill="#eef0f6"/>
<rect x="12.6" y="1321" width="1.3" height="451.5" fill="#b4bdd6"/>
<rect x="528.2" y="1333" width="1.4" height="440.5" fill="#aab4cf"/>
<rect x="23.8" y="1341.7" width="34.4" height="33.4" rx="6.0" fill="#fff" stroke="#4a4a4a" stroke-width="1.60"/><rect x="50.6" y="1357.7" width="33.8" height="33.3" rx="6.0" fill="#888888" stroke="#555" stroke-width="1.60"/>
<text x="313.5" y="1383.0" font-size="28" text-anchor="middle">Position Label (Mbp)</text>
<rect x="23.8" y="1417.2" width="34.4" height="33.4" rx="6.0" fill="#fff" stroke="#4a4a4a" stroke-width="1.60"/><rect x="50.6" y="1433.2" width="33.8" height="33.3" rx="6.0" fill="#000a80" stroke="#223" stroke-width="1.60"/>
<text x="313.5" y="1458.0" font-size="28" text-anchor="middle">Contigs/Chromosomes</text>
<rect x="23.8" y="1492.7" width="34.4" height="33.4" rx="6.0" fill="#fff" stroke="#4a4a4a" stroke-width="1.60"/><rect x="50.6" y="1508.7" width="33.8" height="33.3" rx="6.0" fill="#307d30" stroke="#444" stroke-width="1.60"/>
<text x="313.5" y="1532.9" font-size="28" text-anchor="middle">CDS - FWD</text>
<rect x="23.8" y="1568.2" width="34.4" height="33.4" rx="6.0" fill="#fff" stroke="#4a4a4a" stroke-width="1.60"/><rect x="50.6" y="1584.2" width="33.8" height="33.3" rx="6.0" fill="#833a7c" stroke="#444" stroke-width="1.60"/>
<text x="313.5" y="1607.8" font-size="28" text-anchor="middle">CDS - REV</text>
<rect x="23.8" y="1643.7" width="34.4" height="33.4" rx="6.0" fill="#fff" stroke="#4a4a4a" stroke-width="1.60"/><rect x="50.6" y="1659.7" width="33.8" height="33.3" rx="6.0" fill="#21dcd4" stroke="#466" stroke-width="1.60"/>
<text x="313.5" y="1682.8" font-size="28" text-anchor="middle">Non-CDS Features</text>
<rect x="23.8" y="1719.2" width="34.4" height="33.4" rx="6.0" fill="#fff" stroke="#4a4a4a" stroke-width="1.60"/><rect x="50.6" y="1735.2" width="33.8" height="33.3" rx="6.0" fill="#ff0000" stroke="#833" stroke-width="1.60"/>
<text x="313.5" y="1757.8" font-size="28" text-anchor="middle">AMR Genes</text>
<rect x="541.0" y="1342.4" width="39.0" height="38.6" rx="7.0" fill="#fff" stroke="#4a4a4a" stroke-width="1.80"/><rect x="571.4" y="1359.8" width="39.3" height="38.8" rx="7.0" fill="#ffa500" stroke="#654" stroke-width="1.80"/>
<text x="875" y="1387.2" font-size="32.3" text-anchor="middle">VF Genes</text>
<rect x="541.0" y="1429.3" width="39.0" height="38.6" rx="7.0" fill="#fff" stroke="#4a4a4a" stroke-width="1.80"/><rect x="571.4" y="1446.7" width="39.3" height="38.8" rx="7.0" fill="#0000ff" stroke="#224" stroke-width="1.80"/>
<text x="875" y="1473.9" font-size="32.3" text-anchor="middle">Transporters</text>
<rect x="541.0" y="1516.2" width="39.0" height="38.6" rx="7.0" fill="#fff" stroke="#4a4a4a" stroke-width="1.80"/><rect x="571.4" y="1533.6" width="39.3" height="38.8" rx="7.0" fill="#000" stroke="#222" stroke-width="1.80"/>
<text x="875" y="1560.6" font-size="32.3" text-anchor="middle">Drug Targets</text>
<rect x="541.0" y="1603.1" width="39.0" height="38.6" rx="7.0" fill="#ebd6f5" stroke="#4a4a4a" stroke-width="1.80"/><rect x="571.4" y="1620.5" width="39.3" height="38.8" rx="7.0" fill="#000" stroke="#222" stroke-width="1.80"/>
<text x="875" y="1647.3" font-size="32.3" text-anchor="middle">GC Content</text>
<rect x="541.0" y="1690.0" width="39.0" height="38.6" rx="7.0" fill="#f5cfa2" stroke="#4a4a4a" stroke-width="1.80"/><rect x="571.4" y="1707.4" width="39.3" height="38.8" rx="7.0" fill="#000" stroke="#222" stroke-width="1.80"/>
<text x="875" y="1734.0" font-size="32.3" text-anchor="middle">GC Skew</text>
</svg>
</div>
</body></html>
